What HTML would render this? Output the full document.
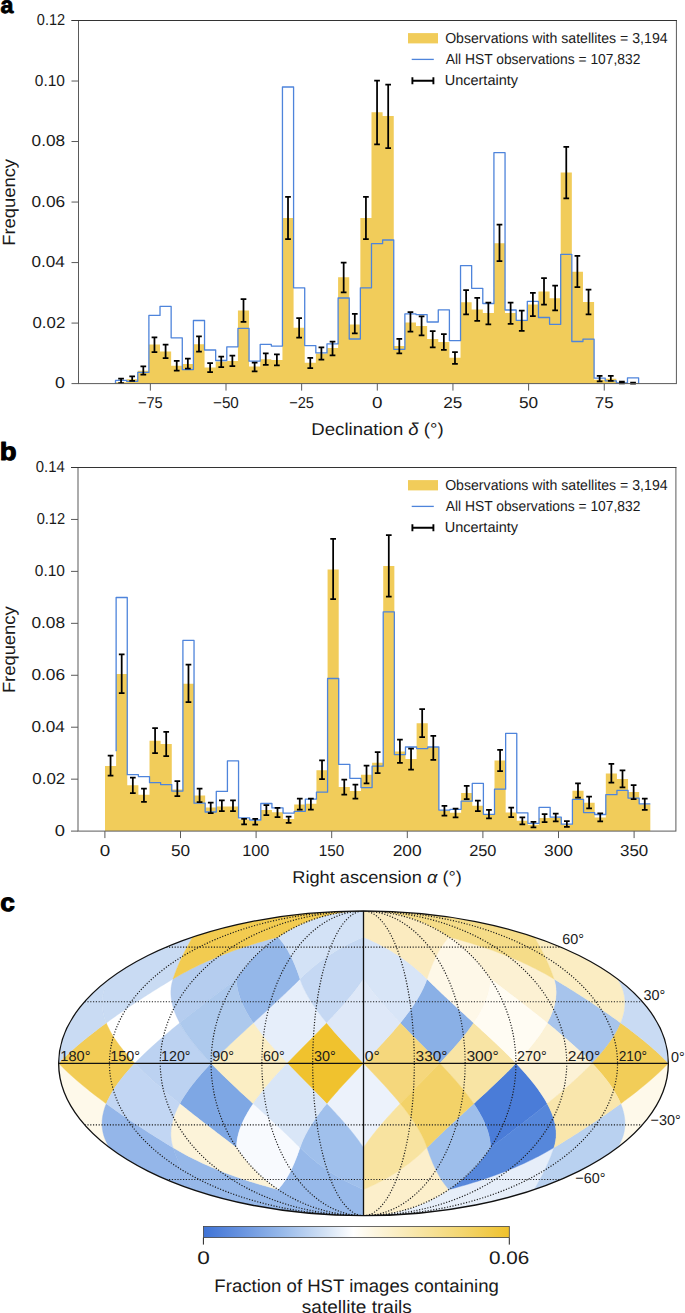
<!DOCTYPE html><html><head><meta charset="utf-8"><style>html,body{margin:0;padding:0;background:#fff;width:685px;height:1313px;overflow:hidden}svg{display:block}</style></head><body><svg width="685" height="1313" viewBox="0 0 685 1313" text-rendering="geometricPrecision" font-family='"Liberation Sans", sans-serif' fill="#1a1a1a">
<rect width="685" height="1313" fill="#fff"/>
<text x="0.42" y="13.40" font-size="23.50" font-weight="bold" textLength="12.93" lengthAdjust="spacingAndGlyphs" fill="#000" stroke="#000" stroke-width="0.8" stroke-linejoin="round">a</text>
<text x="-0.22" y="459.90" font-size="25.00" font-weight="bold" textLength="16.85" lengthAdjust="spacingAndGlyphs" fill="#000" stroke="#000" stroke-width="1.0" stroke-linejoin="round">b</text>
<text x="0.17" y="911.00" font-size="25.00" font-weight="bold" textLength="14.59" lengthAdjust="spacingAndGlyphs" fill="#000" stroke="#000" stroke-width="1.0" stroke-linejoin="round">c</text>
<g>
<path d="M115.50,383.60 V382.30 H126.63 V379.20 H137.76 V370.70 H148.89 V344.60 H160.02 V351.60 H171.15 V365.80 H182.28 V363.90 H193.41 V344.20 H204.54 V367.50 H215.67 V361.60 H226.80 V360.90 H237.93 V310.60 H249.06 V366.50 H260.19 V359.20 H271.32 V359.90 H282.45 V218.00 H293.58 V327.80 H304.71 V362.70 H315.84 V353.40 H326.97 V348.00 H338.10 V277.30 H349.23 V324.40 H360.36 V218.00 H371.49 V112.20 H382.62 V115.90 H393.75 V346.10 H404.88 V322.40 H416.01 V326.00 H427.14 V339.00 H438.27 V342.00 H449.40 V357.80 H460.53 V302.20 H471.66 V309.40 H482.79 V313.00 H493.92 V243.20 H505.05 V313.00 H516.18 V319.90 H527.31 V304.50 H538.44 V291.60 H549.57 V298.20 H560.70 V172.60 H571.83 V271.80 H582.96 V302.10 H594.09 V379.80 H605.22 V378.80 H616.35 V382.60 H627.48 V383.30 H638.61 V383.60 Z" fill="#F1CC5A"/>
<path d="M115.50,383.60 V380.40 H126.63 V381.30 H137.76 V372.40 H148.89 V315.40 H160.02 V306.40 H171.15 V337.80 H182.28 V369.60 H193.41 V320.50 H204.54 V350.00 H215.67 V360.50 H226.80 V346.80 H237.93 V328.40 H249.06 V361.20 H260.19 V344.40 H271.32 V346.10 H282.45 V87.00 H293.58 V287.80 H304.71 V345.60 H315.84 V352.90 H326.97 V343.90 H338.10 V298.00 H349.23 V339.00 H360.36 V287.80 H371.49 V243.70 H382.62 V240.00 H393.75 V349.30 H404.88 V313.90 H416.01 V314.60 H427.14 V322.00 H438.27 V309.80 H449.40 V340.70 H460.53 V265.60 H471.66 V288.30 H482.79 V303.50 H493.92 V152.70 H505.05 V310.00 H516.18 V320.30 H527.31 V301.30 H538.44 V317.50 H549.57 V324.30 H560.70 V254.30 H571.83 V341.50 H582.96 V339.20 H594.09 V378.20 H605.22 V380.80 H616.35 V382.80 H627.48 V377.80 H638.61 V383.60" fill="none" stroke="#4E84DB" stroke-width="1.3" stroke-linejoin="round"/>
<path d="M121.06,378.60V383.00M118.22,378.60h5.7M118.22,383.00h5.7M132.19,376.30V380.80M129.34,376.30h5.7M129.34,380.80h5.7M143.32,366.30V374.60M140.47,366.30h5.7M140.47,374.60h5.7M154.46,337.30V352.20M151.61,337.30h5.7M151.61,352.20h5.7M165.59,344.60V358.20M162.74,344.60h5.7M162.74,358.20h5.7M176.72,360.80V370.50M173.87,360.80h5.7M173.87,370.50h5.7M187.84,358.50V368.70M185.00,358.50h5.7M185.00,368.70h5.7M198.98,336.30V351.50M196.13,336.30h5.7M196.13,351.50h5.7M210.11,363.20V372.00M207.26,363.20h5.7M207.26,372.00h5.7M221.24,356.60V367.10M218.39,356.60h5.7M218.39,367.10h5.7M232.37,355.60V366.20M229.52,355.60h5.7M229.52,366.20h5.7M243.50,299.10V321.80M240.65,299.10h5.7M240.65,321.80h5.7M254.62,362.50V371.30M251.78,362.50h5.7M251.78,371.30h5.7M265.75,353.30V364.80M262.90,353.30h5.7M262.90,364.80h5.7M276.88,354.40V365.40M274.03,354.40h5.7M274.03,365.40h5.7M288.01,196.80V239.00M285.16,196.80h5.7M285.16,239.00h5.7M299.14,318.00V337.60M296.29,318.00h5.7M296.29,337.60h5.7M310.27,357.80V368.00M307.42,357.80h5.7M307.42,368.00h5.7M321.40,347.30V359.50M318.55,347.30h5.7M318.55,359.50h5.7M332.54,341.50V355.40M329.69,341.50h5.7M329.69,355.40h5.7M343.67,262.70V292.40M340.81,262.70h5.7M340.81,292.40h5.7M354.80,313.90V333.40M351.94,313.90h5.7M351.94,333.40h5.7M365.93,196.80V239.00M363.07,196.80h5.7M363.07,239.00h5.7M377.06,80.50V144.40M374.20,80.50h5.7M374.20,144.40h5.7M388.19,84.60V148.00M385.33,84.60h5.7M385.33,148.00h5.7M399.31,338.80V353.40M396.46,338.80h5.7M396.46,353.40h5.7M410.44,312.20V331.70M407.59,312.20h5.7M407.59,331.70h5.7M421.58,316.30V335.40M418.73,316.30h5.7M418.73,335.40h5.7M432.71,331.00V347.30M429.86,331.00h5.7M429.86,347.30h5.7M443.84,334.10V349.80M440.99,334.10h5.7M440.99,349.80h5.7M454.97,352.20V363.90M452.12,352.20h5.7M452.12,363.90h5.7M466.10,290.00V314.40M463.25,290.00h5.7M463.25,314.40h5.7M477.23,297.80V320.90M474.38,297.80h5.7M474.38,320.90h5.7M488.36,302.50V324.30M485.50,302.50h5.7M485.50,324.30h5.7M499.49,224.60V261.00M496.63,224.60h5.7M496.63,261.00h5.7M510.62,302.50V323.90M507.76,302.50h5.7M507.76,323.90h5.7M521.75,310.60V330.80M518.89,310.60h5.7M518.89,330.80h5.7M532.88,292.80V316.00M530.02,292.80h5.7M530.02,316.00h5.7M544.01,278.00V304.70M541.16,278.00h5.7M541.16,304.70h5.7M555.13,285.70V310.40M552.28,285.70h5.7M552.28,310.40h5.7M566.27,146.90V198.40M563.42,146.90h5.7M563.42,198.40h5.7M577.39,255.90V287.20M574.54,255.90h5.7M574.54,287.20h5.7M588.53,289.60V314.40M585.68,289.60h5.7M585.68,314.40h5.7M599.65,375.80V381.40M596.80,375.80h5.7M596.80,381.40h5.7M610.79,375.80V380.80M607.94,375.80h5.7M607.94,380.80h5.7M621.91,381.60V383.40M619.06,381.60h5.7M619.06,383.40h5.7M633.05,382.60V383.60M630.20,382.60h5.7M630.20,383.60h5.7" stroke="#000" stroke-width="1.75" fill="none"/>
<line x1="71.5" y1="383.60" x2="78.5" y2="383.60" stroke="#5a5a5a" stroke-width="1"/>
<text x="55.10" y="388.40" font-size="15.80" textLength="10.01" lengthAdjust="spacingAndGlyphs">0</text>
<line x1="71.5" y1="323.08" x2="78.5" y2="323.08" stroke="#5a5a5a" stroke-width="1"/>
<text x="32.54" y="327.88" font-size="15.80" textLength="32.70" lengthAdjust="spacingAndGlyphs">0.02</text>
<line x1="71.5" y1="262.57" x2="78.5" y2="262.57" stroke="#5a5a5a" stroke-width="1"/>
<text x="31.53" y="267.37" font-size="15.80" textLength="33.37" lengthAdjust="spacingAndGlyphs">0.04</text>
<line x1="71.5" y1="202.05" x2="78.5" y2="202.05" stroke="#5a5a5a" stroke-width="1"/>
<text x="31.52" y="206.85" font-size="15.80" textLength="33.63" lengthAdjust="spacingAndGlyphs">0.06</text>
<line x1="71.5" y1="141.53" x2="78.5" y2="141.53" stroke="#5a5a5a" stroke-width="1"/>
<text x="31.63" y="146.33" font-size="15.80" textLength="33.52" lengthAdjust="spacingAndGlyphs">0.08</text>
<line x1="71.5" y1="81.02" x2="78.5" y2="81.02" stroke="#5a5a5a" stroke-width="1"/>
<text x="34.79" y="85.82" font-size="15.80" textLength="30.21" lengthAdjust="spacingAndGlyphs">0.10</text>
<line x1="71.5" y1="20.50" x2="78.5" y2="20.50" stroke="#5a5a5a" stroke-width="1"/>
<text x="36.83" y="25.30" font-size="15.80" textLength="28.30" lengthAdjust="spacingAndGlyphs">0.12</text>
<line x1="150.35" y1="383.6" x2="150.35" y2="390.6" stroke="#5a5a5a" stroke-width="1"/>
<text x="137.93" y="408.40" font-size="15.80" textLength="24.73" lengthAdjust="spacingAndGlyphs">&#8722;75</text>
<line x1="226.00" y1="383.6" x2="226.00" y2="390.6" stroke="#5a5a5a" stroke-width="1"/>
<text x="213.00" y="408.40" font-size="15.80" textLength="25.85" lengthAdjust="spacingAndGlyphs">&#8722;50</text>
<line x1="301.65" y1="383.6" x2="301.65" y2="390.6" stroke="#5a5a5a" stroke-width="1"/>
<text x="289.23" y="408.40" font-size="15.80" textLength="24.73" lengthAdjust="spacingAndGlyphs">&#8722;25</text>
<line x1="377.30" y1="383.6" x2="377.30" y2="390.6" stroke="#5a5a5a" stroke-width="1"/>
<text x="372.06" y="408.40" font-size="15.80" textLength="10.47" lengthAdjust="spacingAndGlyphs">0</text>
<line x1="452.95" y1="383.6" x2="452.95" y2="390.6" stroke="#5a5a5a" stroke-width="1"/>
<text x="443.34" y="408.40" font-size="15.80" textLength="19.08" lengthAdjust="spacingAndGlyphs">25</text>
<line x1="528.60" y1="383.6" x2="528.60" y2="390.6" stroke="#5a5a5a" stroke-width="1"/>
<text x="519.01" y="408.40" font-size="15.80" textLength="19.16" lengthAdjust="spacingAndGlyphs">50</text>
<line x1="604.25" y1="383.6" x2="604.25" y2="390.6" stroke="#5a5a5a" stroke-width="1"/>
<text x="594.78" y="408.40" font-size="15.80" textLength="18.77" lengthAdjust="spacingAndGlyphs">75</text>
<rect x="78.50" y="20.50" width="597.90" height="363.10" fill="none" stroke="#5a5a5a" stroke-width="1"/>
<line x1="71.50" y1="20.50" x2="676.90" y2="20.50" stroke="#333" stroke-width="1"/>
<g transform="translate(14.9,201.60) rotate(-90)"><text x="-44.11" y="0.00" font-size="17.70" textLength="86.74" lengthAdjust="spacingAndGlyphs">Frequency</text></g>
<text x="311.38" y="435.10" font-size="17.20" textLength="132.27" lengthAdjust="spacingAndGlyphs">Declination <tspan font-style="italic">&#948;</tspan> (&#176;)</text>
<rect x="408" y="33.1" width="30" height="10.3" fill="#F1CC5A"/>
<line x1="411.7" y1="59.4" x2="433.8" y2="59.4" stroke="#4E84DB" stroke-width="1.3"/>
<path d="M411.6,80.7 H434.2 M412.4,77.2 v7 M433.4,77.2 v7" stroke="#000" stroke-width="1.9" fill="none"/>
<text x="445.13" y="43.40" font-size="14.50" textLength="222.48" lengthAdjust="spacingAndGlyphs">Observations with satellites = 3,194</text>
<text x="445.77" y="63.90" font-size="14.50" textLength="194.62" lengthAdjust="spacingAndGlyphs">All HST observations = 107,832</text>
<text x="444.68" y="84.60" font-size="14.50">Uncertainty</text>
</g>
<g>
<path d="M105.00,831.10 V765.90 H116.13 V674.00 H127.26 V785.30 H138.39 V794.70 H149.52 V740.70 H160.64 V743.90 H171.77 V789.60 H182.90 V683.80 H194.03 V795.50 H205.16 V807.40 H216.29 V806.40 H227.42 V806.40 H238.55 V819.60 H249.68 V821.00 H260.81 V810.00 H271.94 V812.30 H283.06 V818.90 H294.19 V804.50 H305.32 V803.80 H316.45 V770.20 H327.58 V569.50 H338.71 V786.90 H349.84 V791.10 H360.97 V774.80 H372.10 V762.80 H383.22 V566.00 H394.35 V751.60 H405.48 V759.00 H416.61 V723.30 H427.74 V747.00 H438.87 V810.40 H450.00 V812.80 H461.13 V793.10 H472.26 V805.80 H483.39 V814.60 H494.51 V760.60 H505.64 V812.50 H516.77 V820.70 H527.90 V824.70 H539.03 V818.10 H550.16 V818.10 H561.29 V824.40 H572.42 V790.70 H583.55 V802.80 H594.68 V817.40 H605.81 V773.60 H616.93 V779.10 H628.06 V792.10 H639.19 V804.20 H650.32 V831.10 Z" fill="#F1CC5A"/>
<path d="M116.13,751.30 V597.50 H127.26 V774.70 H138.39 V776.60 H149.52 V782.70 H160.64 V784.60 H171.77 V791.10 H182.90 V640.40 H194.03 V803.20 H205.16 V812.00 H216.29 V791.40 H227.42 V760.90 H238.55 V817.80 H249.68 V820.00 H260.81 V803.50 H271.94 V807.90 H283.06 V813.10 H294.19 V811.30 H305.32 V799.20 H316.45 V792.20 H327.58 V678.50 H338.71 V764.40 H349.84 V778.30 H360.97 V787.60 H372.10 V766.20 H383.22 V611.90 H394.35 V754.60 H405.48 V747.00 H416.61 V748.60 H427.74 V747.00 H438.87 V810.10 H450.00 V809.30 H461.13 V801.20 H472.26 V783.40 H483.39 V814.30 H494.51 V789.20 H505.64 V733.40 H516.77 V812.80 H527.90 V823.40 H539.03 V807.30 H550.16 V817.20 H561.29 V824.20 H572.42 V799.40 H583.55 V812.60 H594.68 V814.50 H605.81 V794.70 H616.93 V790.40 H628.06 V798.10 H639.19 V803.80 H650.32" fill="none" stroke="#4E84DB" stroke-width="1.3" stroke-linejoin="round"/>
<path d="M110.56,755.70V775.60M107.71,755.70h5.7M107.71,775.60h5.7M121.69,654.40V693.20M118.84,654.40h5.7M118.84,693.20h5.7M132.82,777.50V793.00M129.97,777.50h5.7M129.97,793.00h5.7M143.95,788.70V801.80M141.10,788.70h5.7M141.10,801.80h5.7M155.08,728.00V753.20M152.23,728.00h5.7M152.23,753.20h5.7M166.21,731.80V756.00M163.36,731.80h5.7M163.36,756.00h5.7M177.34,781.20V796.20M174.49,781.20h5.7M174.49,796.20h5.7M188.47,664.60V702.00M185.62,664.60h5.7M185.62,702.00h5.7M199.60,788.60V802.00M196.75,788.60h5.7M196.75,802.00h5.7M210.73,802.50V813.00M207.88,802.50h5.7M207.88,813.00h5.7M221.85,800.30V811.20M219.00,800.30h5.7M219.00,811.20h5.7M232.98,800.30V811.20M230.13,800.30h5.7M230.13,811.20h5.7M244.11,818.80V824.40M241.26,818.80h5.7M241.26,824.40h5.7M255.24,818.80V824.70M252.39,818.80h5.7M252.39,824.70h5.7M266.37,805.00V815.20M263.52,805.00h5.7M263.52,815.20h5.7M277.50,807.90V817.10M274.65,807.90h5.7M274.65,817.10h5.7M288.63,816.60V822.90M285.78,816.60h5.7M285.78,822.90h5.7M299.76,798.50V809.60M296.91,798.50h5.7M296.91,809.60h5.7M310.89,798.50V809.60M308.04,798.50h5.7M308.04,809.60h5.7M322.02,760.40V779.00M319.17,760.40h5.7M319.17,779.00h5.7M333.14,538.80V599.20M330.29,538.80h5.7M330.29,599.20h5.7M344.27,779.50V794.60M341.42,779.50h5.7M341.42,794.60h5.7M355.40,784.60V798.70M352.55,784.60h5.7M352.55,798.70h5.7M366.53,765.50V783.40M363.68,765.50h5.7M363.68,783.40h5.7M377.66,752.10V773.00M374.81,752.10h5.7M374.81,773.00h5.7M388.79,535.10V596.60M385.94,535.10h5.7M385.94,596.60h5.7M399.92,739.60V762.80M397.07,739.60h5.7M397.07,762.80h5.7M411.05,748.60V769.70M408.20,748.60h5.7M408.20,769.70h5.7M422.18,709.20V737.20M419.33,709.20h5.7M419.33,737.20h5.7M433.31,735.80V759.80M430.46,735.80h5.7M430.46,759.80h5.7M444.43,805.80V815.50M441.58,805.80h5.7M441.58,815.50h5.7M455.56,808.50V817.40M452.71,808.50h5.7M452.71,817.40h5.7M466.69,785.90V799.20M463.84,785.90h5.7M463.84,799.20h5.7M477.82,800.60V811.00M474.97,800.60h5.7M474.97,811.00h5.7M488.95,809.90V818.40M486.10,809.90h5.7M486.10,818.40h5.7M500.08,749.80V771.10M497.23,749.80h5.7M497.23,771.10h5.7M511.21,807.60V817.20M508.36,807.60h5.7M508.36,817.20h5.7M522.34,817.40V824.30M519.49,817.40h5.7M519.49,824.30h5.7M533.47,821.80V827.30M530.62,821.80h5.7M530.62,827.30h5.7M544.60,814.20V822.00M541.75,814.20h5.7M541.75,822.00h5.7M555.72,813.50V821.40M552.87,813.50h5.7M552.87,821.40h5.7M566.85,821.00V826.90M564.00,821.00h5.7M564.00,826.90h5.7M577.98,783.40V797.70M575.13,783.40h5.7M575.13,797.70h5.7M589.11,796.60V808.30M586.26,796.60h5.7M586.26,808.30h5.7M600.24,813.40V821.30M597.39,813.40h5.7M597.39,821.30h5.7M611.37,763.80V782.60M608.52,763.80h5.7M608.52,782.60h5.7M622.50,770.40V787.40M619.65,770.40h5.7M619.65,787.40h5.7M633.63,785.00V799.10M630.78,785.00h5.7M630.78,799.10h5.7M644.76,798.70V809.80M641.91,798.70h5.7M641.91,809.80h5.7" stroke="#000" stroke-width="1.75" fill="none"/>
<line x1="71.0" y1="831.10" x2="78.0" y2="831.10" stroke="#5a5a5a" stroke-width="1"/>
<text x="54.88" y="835.90" font-size="15.80" textLength="10.24" lengthAdjust="spacingAndGlyphs">0</text>
<line x1="71.0" y1="779.16" x2="78.0" y2="779.16" stroke="#5a5a5a" stroke-width="1"/>
<text x="32.34" y="783.96" font-size="15.80" textLength="32.91" lengthAdjust="spacingAndGlyphs">0.02</text>
<line x1="71.0" y1="727.21" x2="78.0" y2="727.21" stroke="#5a5a5a" stroke-width="1"/>
<text x="31.43" y="732.01" font-size="15.80" textLength="33.48" lengthAdjust="spacingAndGlyphs">0.04</text>
<line x1="71.0" y1="675.27" x2="78.0" y2="675.27" stroke="#5a5a5a" stroke-width="1"/>
<text x="31.42" y="680.07" font-size="15.80" textLength="33.74" lengthAdjust="spacingAndGlyphs">0.06</text>
<line x1="71.0" y1="623.33" x2="78.0" y2="623.33" stroke="#5a5a5a" stroke-width="1"/>
<text x="31.42" y="628.13" font-size="15.80" textLength="33.73" lengthAdjust="spacingAndGlyphs">0.08</text>
<line x1="71.0" y1="571.39" x2="78.0" y2="571.39" stroke="#5a5a5a" stroke-width="1"/>
<text x="34.79" y="576.19" font-size="15.80" textLength="30.21" lengthAdjust="spacingAndGlyphs">0.10</text>
<line x1="71.0" y1="519.44" x2="78.0" y2="519.44" stroke="#5a5a5a" stroke-width="1"/>
<text x="36.63" y="524.24" font-size="15.80" textLength="28.51" lengthAdjust="spacingAndGlyphs">0.12</text>
<line x1="71.0" y1="467.50" x2="78.0" y2="467.50" stroke="#5a5a5a" stroke-width="1"/>
<text x="35.82" y="472.30" font-size="15.80" textLength="29.02" lengthAdjust="spacingAndGlyphs">0.14</text>
<line x1="104.90" y1="831.1" x2="104.90" y2="838.1" stroke="#5a5a5a" stroke-width="1"/>
<text x="99.66" y="855.90" font-size="15.80" textLength="10.47" lengthAdjust="spacingAndGlyphs">0</text>
<line x1="180.50" y1="831.1" x2="180.50" y2="838.1" stroke="#5a5a5a" stroke-width="1"/>
<text x="170.91" y="855.90" font-size="15.80" textLength="19.16" lengthAdjust="spacingAndGlyphs">50</text>
<line x1="256.10" y1="831.1" x2="256.10" y2="838.1" stroke="#5a5a5a" stroke-width="1"/>
<text x="242.15" y="855.90" font-size="15.80" textLength="27.28" lengthAdjust="spacingAndGlyphs">100</text>
<line x1="331.70" y1="831.1" x2="331.70" y2="838.1" stroke="#5a5a5a" stroke-width="1"/>
<text x="318.69" y="855.90" font-size="15.80" textLength="25.46" lengthAdjust="spacingAndGlyphs">150</text>
<line x1="407.30" y1="831.1" x2="407.30" y2="838.1" stroke="#5a5a5a" stroke-width="1"/>
<text x="392.73" y="855.90" font-size="15.80" textLength="28.95" lengthAdjust="spacingAndGlyphs">200</text>
<line x1="482.90" y1="831.1" x2="482.90" y2="838.1" stroke="#5a5a5a" stroke-width="1"/>
<text x="469.18" y="855.90" font-size="15.80" textLength="27.26" lengthAdjust="spacingAndGlyphs">250</text>
<line x1="558.50" y1="831.1" x2="558.50" y2="838.1" stroke="#5a5a5a" stroke-width="1"/>
<text x="543.99" y="855.90" font-size="15.80" textLength="29.04" lengthAdjust="spacingAndGlyphs">300</text>
<line x1="634.10" y1="831.1" x2="634.10" y2="838.1" stroke="#5a5a5a" stroke-width="1"/>
<text x="620.01" y="855.90" font-size="15.80" textLength="28.20" lengthAdjust="spacingAndGlyphs">350</text>
<rect x="78.00" y="467.50" width="597.90" height="363.60" fill="none" stroke="#5a5a5a" stroke-width="1"/>
<line x1="71.00" y1="467.50" x2="676.40" y2="467.50" stroke="#333" stroke-width="1"/>
<g transform="translate(14.9,649.00) rotate(-90)"><text x="-44.11" y="0.00" font-size="17.70" textLength="86.74" lengthAdjust="spacingAndGlyphs">Frequency</text></g>
<text x="292.31" y="882.60" font-size="17.20" textLength="169.52" lengthAdjust="spacingAndGlyphs">Right ascension <tspan font-style="italic">&#945;</tspan> (&#176;)</text>
<rect x="408" y="480.1" width="30" height="10.3" fill="#F1CC5A"/>
<line x1="411.7" y1="506.4" x2="433.8" y2="506.4" stroke="#4E84DB" stroke-width="1.3"/>
<path d="M411.6,527.7 H434.2 M412.4,524.2 v7 M433.4,524.2 v7" stroke="#000" stroke-width="1.9" fill="none"/>
<text x="445.13" y="490.40" font-size="14.50" textLength="222.48" lengthAdjust="spacingAndGlyphs">Observations with satellites = 3,194</text>
<text x="445.77" y="510.90" font-size="14.50" textLength="194.62" lengthAdjust="spacingAndGlyphs">All HST observations = 107,832</text>
<text x="444.68" y="531.60" font-size="14.50">Uncertainty</text>
</g>
<defs><clipPath id="ell"><ellipse cx="363.50" cy="1063.30" rx="304.85" ry="152.40"/></clipPath>
<linearGradient id="cb" x1="0" x2="1" y1="0" y2="0"><stop offset="0" stop-color="#3F73D6"/><stop offset="0.13" stop-color="#6A95E0"/><stop offset="0.26" stop-color="#98BAEA"/><stop offset="0.40" stop-color="#D3E2F5"/><stop offset="0.49" stop-color="#FFFFFF"/><stop offset="0.55" stop-color="#FDF7E4"/><stop offset="0.70" stop-color="#F8E6A8"/><stop offset="0.85" stop-color="#F3D56E"/><stop offset="1" stop-color="#EFC12C"/></linearGradient></defs>
<g clip-path="url(#ell)">
<path d="M300.02,978.98L300.53,980.47L301.07,981.95L301.64,983.42L302.24,984.88L302.86,986.33L303.51,987.77L304.19,989.20L304.89,990.62L305.61,992.04L306.35,993.44L307.11,994.84L307.90,996.23L308.70,997.62L309.52,999.00L310.36,1000.37L311.21,1001.73L312.08,1003.09L312.97,1004.45L313.87,1005.80L314.79,1007.14L315.72,1008.48L316.67,1009.81L317.62,1011.14L318.59,1012.47L319.58,1013.79L320.57,1015.11L321.58,1016.42L322.59,1017.73L323.62,1019.03L324.65,1020.33L325.70,1021.63L326.76,1022.92L325.52,1024.22L324.28,1025.50L323.03,1026.79L321.79,1028.07L320.55,1029.35L319.30,1030.63L318.05,1031.91L316.81,1033.18L315.56,1034.45L314.31,1035.72L313.06,1036.99L311.82,1038.25L310.57,1039.51L309.32,1040.77L308.08,1042.03L306.84,1043.29L305.59,1044.55L304.35,1045.81L303.11,1047.06L301.88,1048.31L300.64,1049.57L299.41,1050.82L298.18,1052.07L296.96,1053.32L295.73,1054.57L294.52,1055.82L293.30,1057.06L292.09,1058.31L290.88,1059.56L289.68,1060.81L288.48,1062.05L287.29,1063.30L286.10,1062.05L284.92,1060.81L283.74,1059.56L282.57,1058.31L281.40,1057.06L280.24,1055.82L279.09,1054.57L277.95,1053.32L276.81,1052.07L275.68,1050.82L274.55,1049.57L273.44,1048.31L272.33,1047.06L271.23,1045.81L270.14,1044.55L269.06,1043.29L267.99,1042.03L266.93,1040.77L265.87,1039.51L264.83,1038.25L263.80,1036.99L262.78,1035.72L261.77,1034.45L260.77,1033.18L259.79,1031.91L258.82,1030.63L257.86,1029.35L256.91,1028.07L255.98,1026.79L255.06,1025.50L254.16,1024.22L253.27,1022.92L254.68,1021.63L256.10,1020.33L257.53,1019.03L258.96,1017.73L260.39,1016.42L261.83,1015.11L263.27,1013.79L264.71,1012.47L266.15,1011.14L267.60,1009.81L269.06,1008.48L270.51,1007.14L271.97,1005.80L273.43,1004.45L274.89,1003.09L276.35,1001.73L277.82,1000.37L279.29,999.00L280.76,997.62L282.23,996.23L283.71,994.84L285.18,993.44L286.66,992.04L288.14,990.62L289.62,989.20L291.10,987.77L292.58,986.33L294.07,984.88L295.55,983.42L297.04,981.95L298.53,980.47Z" fill="#E6EEFA" stroke="#E6EEFA" stroke-width="0.4"/>
<path d="M278.05,937.10L279.06,938.22L280.03,939.35L280.97,940.50L281.88,941.65L282.76,942.83L283.62,944.01L284.45,945.20L285.25,946.41L286.04,947.63L286.80,948.87L287.54,950.11L288.27,951.37L288.98,952.64L289.67,953.92L290.34,955.21L291.00,956.52L291.64,957.83L292.28,959.16L292.90,960.50L293.50,961.85L294.10,963.22L294.68,964.59L295.25,965.98L295.82,967.38L296.37,968.79L296.92,970.21L297.45,971.64L297.98,973.08L298.50,974.54L299.01,976.01L299.52,977.49L300.02,978.98L298.53,980.47L297.04,981.95L295.55,983.42L294.07,984.88L292.58,986.33L291.10,987.77L289.62,989.20L288.14,990.62L286.66,992.04L285.18,993.44L283.71,994.84L282.23,996.23L280.76,997.62L279.29,999.00L277.82,1000.37L276.35,1001.73L274.89,1003.09L273.43,1004.45L271.97,1005.80L270.51,1007.14L269.06,1008.48L267.60,1009.81L266.15,1011.14L264.71,1012.47L263.27,1013.79L261.83,1015.11L260.39,1016.42L258.96,1017.73L257.53,1019.03L256.10,1020.33L254.68,1021.63L253.27,1022.92L252.39,1021.63L251.53,1020.33L250.69,1019.03L249.87,1017.73L249.06,1016.42L248.27,1015.11L247.50,1013.79L246.75,1012.47L246.01,1011.14L245.30,1009.81L244.61,1008.48L243.94,1007.14L243.29,1005.80L242.67,1004.45L242.07,1003.09L241.50,1001.73L240.95,1000.37L240.42,999.00L239.93,997.62L239.46,996.23L239.02,994.84L238.62,993.44L238.24,992.04L237.90,990.62L237.59,989.20L237.32,987.77L237.08,986.33L236.89,984.88L236.73,983.42L236.62,981.95L236.55,980.47L236.53,978.98L237.54,977.49L238.56,976.01L239.59,974.54L240.65,973.08L241.73,971.64L242.82,970.21L243.93,968.79L245.06,967.38L246.20,965.98L247.37,964.59L248.55,963.22L249.75,961.85L250.97,960.50L252.21,959.16L253.47,957.83L254.75,956.52L256.05,955.21L257.36,953.92L258.70,952.64L260.06,951.37L261.43,950.11L262.83,948.87L264.25,947.63L265.69,946.41L267.16,945.20L268.64,944.01L270.15,942.83L271.68,941.65L273.23,940.50L274.81,939.35L276.42,938.22Z" fill="#94B7E9" stroke="#94B7E9" stroke-width="0.4"/>
<path d="M363.50,937.10L363.50,938.22L363.50,939.35L363.50,940.50L363.50,941.65L363.50,942.83L363.50,944.01L363.50,945.20L363.50,946.41L363.50,947.63L363.50,948.87L363.50,950.11L363.50,951.37L363.50,952.64L363.50,953.92L363.50,955.21L363.50,956.52L363.50,957.83L363.50,959.16L363.50,960.50L363.50,961.85L363.50,963.22L363.50,964.59L363.50,965.98L363.50,967.38L363.50,968.79L363.50,970.21L363.50,971.64L363.50,973.08L363.50,974.54L363.50,976.01L363.50,977.49L363.50,978.98L362.50,980.47L361.49,981.95L360.46,983.42L359.42,984.88L358.36,986.33L357.29,987.77L356.22,989.20L355.13,990.62L354.03,992.04L352.92,993.44L351.80,994.84L350.67,996.23L349.53,997.62L348.39,999.00L347.23,1000.37L346.07,1001.73L344.90,1003.09L343.73,1004.45L342.55,1005.80L341.36,1007.14L340.17,1008.48L338.97,1009.81L337.77,1011.14L336.56,1012.47L335.34,1013.79L334.13,1015.11L332.91,1016.42L331.68,1017.73L330.46,1019.03L329.22,1020.33L327.99,1021.63L326.76,1022.92L325.70,1021.63L324.65,1020.33L323.62,1019.03L322.59,1017.73L321.58,1016.42L320.57,1015.11L319.58,1013.79L318.59,1012.47L317.62,1011.14L316.67,1009.81L315.72,1008.48L314.79,1007.14L313.87,1005.80L312.97,1004.45L312.08,1003.09L311.21,1001.73L310.36,1000.37L309.52,999.00L308.70,997.62L307.90,996.23L307.11,994.84L306.35,993.44L305.61,992.04L304.89,990.62L304.19,989.20L303.51,987.77L302.86,986.33L302.24,984.88L301.64,983.42L301.07,981.95L300.53,980.47L300.02,978.98L301.52,977.49L303.04,976.01L304.59,974.54L306.17,973.08L307.77,971.64L309.40,970.21L311.06,968.79L312.74,967.38L314.45,965.98L316.19,964.59L317.95,963.22L319.75,961.85L321.58,960.50L323.44,959.16L325.33,957.83L327.25,956.52L329.21,955.21L331.20,953.92L333.22,952.64L335.29,951.37L337.39,950.11L339.53,948.87L341.71,947.63L343.94,946.41L346.21,945.20L348.52,944.01L350.88,942.83L353.30,941.65L355.76,940.50L358.28,939.35L360.86,938.22Z" fill="#C5D8F3" stroke="#C5D8F3" stroke-width="0.4"/>
<path d="M363.50,910.90L363.50,911.15L363.50,911.54L363.50,912.00L363.50,912.51L363.50,913.07L363.50,913.67L363.50,914.30L363.50,914.96L363.50,915.66L363.50,916.38L363.50,917.12L363.50,917.89L363.50,918.69L363.50,919.50L363.50,920.33L363.50,921.19L363.50,922.06L363.50,922.95L363.50,923.86L363.50,924.78L363.50,925.73L363.50,926.69L363.50,927.66L363.50,928.65L363.50,929.66L363.50,930.68L363.50,931.71L363.50,932.76L363.50,933.83L363.50,934.90L363.50,936.00L363.50,937.10L360.86,938.22L358.28,939.35L355.76,940.50L353.30,941.65L350.88,942.83L348.52,944.01L346.21,945.20L343.94,946.41L341.71,947.63L339.53,948.87L337.39,950.11L335.29,951.37L333.22,952.64L331.20,953.92L329.21,955.21L327.25,956.52L325.33,957.83L323.44,959.16L321.58,960.50L319.75,961.85L317.95,963.22L316.19,964.59L314.45,965.98L312.74,967.38L311.06,968.79L309.40,970.21L307.77,971.64L306.17,973.08L304.59,974.54L303.04,976.01L301.52,977.49L300.02,978.98L299.52,977.49L299.01,976.01L298.50,974.54L297.98,973.08L297.45,971.64L296.92,970.21L296.37,968.79L295.82,967.38L295.25,965.98L294.68,964.59L294.10,963.22L293.50,961.85L292.90,960.50L292.28,959.16L291.64,957.83L291.00,956.52L290.34,955.21L289.67,953.92L288.98,952.64L288.27,951.37L287.54,950.11L286.80,948.87L286.04,947.63L285.25,946.41L284.45,945.20L283.62,944.01L282.76,942.83L281.88,941.65L280.97,940.50L280.03,939.35L279.06,938.22L278.05,937.10L279.70,936.00L281.39,934.90L283.10,933.83L284.84,932.76L286.61,931.71L288.41,930.68L290.24,929.66L292.11,928.65L294.01,927.66L295.95,926.69L297.92,925.73L299.94,924.78L302.00,923.86L304.10,922.95L306.25,922.06L308.45,921.19L310.71,920.33L313.03,919.50L315.41,918.69L317.86,917.89L320.38,917.12L323.00,916.38L325.71,915.66L328.53,914.96L331.48,914.30L334.58,913.67L337.87,913.07L341.40,912.51L345.24,912.00L349.56,911.54L354.71,911.15Z" fill="#D3E2F6" stroke="#D3E2F6" stroke-width="0.4"/>
<path d="M173.05,978.98L172.58,980.47L172.18,981.95L171.83,983.42L171.54,984.88L171.31,986.33L171.13,987.77L170.99,989.20L170.91,990.62L170.87,992.04L170.88,993.44L170.93,994.84L171.02,996.23L171.16,997.62L171.33,999.00L171.53,1000.37L171.78,1001.73L172.06,1003.09L172.37,1004.45L172.71,1005.80L173.09,1007.14L173.50,1008.48L173.94,1009.81L174.40,1011.14L174.90,1012.47L175.42,1013.79L175.97,1015.11L176.54,1016.42L177.14,1017.73L177.77,1019.03L178.41,1020.33L179.08,1021.63L179.78,1022.92L178.19,1024.22L176.61,1025.50L175.05,1026.79L173.49,1028.07L171.95,1029.35L170.42,1030.63L168.90,1031.91L167.39,1033.18L165.89,1034.45L164.40,1035.72L162.93,1036.99L161.46,1038.25L160.01,1039.51L158.57,1040.77L157.15,1042.03L155.73,1043.29L154.33,1044.55L152.94,1045.81L151.56,1047.06L150.19,1048.31L148.84,1049.57L147.50,1050.82L146.17,1052.07L144.86,1053.32L143.56,1054.57L142.27,1055.82L141.00,1057.06L139.75,1058.31L138.50,1059.56L137.27,1060.81L136.06,1062.05L134.86,1063.30L133.68,1062.05L132.51,1060.81L131.36,1059.56L130.22,1058.31L129.10,1057.06L128.00,1055.82L126.92,1054.57L125.85,1053.32L124.80,1052.07L123.76,1050.82L122.75,1049.57L121.75,1048.31L120.77,1047.06L119.81,1045.81L118.87,1044.55L117.95,1043.29L117.05,1042.03L116.17,1040.77L115.32,1039.51L114.48,1038.25L113.66,1036.99L112.87,1035.72L112.10,1034.45L111.36,1033.18L110.63,1031.91L109.94,1030.63L109.26,1029.35L108.61,1028.07L107.99,1026.79L107.40,1025.50L106.83,1024.22L106.29,1022.92L108.07,1021.63L109.86,1020.33L111.68,1019.03L113.51,1017.73L115.36,1016.42L117.22,1015.11L119.11,1013.79L121.01,1012.47L122.93,1011.14L124.87,1009.81L126.83,1008.48L128.81,1007.14L130.81,1005.80L132.83,1004.45L134.86,1003.09L136.92,1001.73L139.00,1000.37L141.10,999.00L143.22,997.62L145.36,996.23L147.53,994.84L149.71,993.44L151.93,992.04L154.16,990.62L156.43,989.20L158.71,987.77L161.03,986.33L163.37,984.88L165.75,983.42L168.15,981.95L170.58,980.47Z" fill="#FFFFFF" stroke="#FFFFFF" stroke-width="0.4"/>
<path d="M192.60,937.10L191.97,938.22L191.34,939.35L190.71,940.50L190.06,941.65L189.41,942.83L188.76,944.01L188.10,945.20L187.45,946.41L186.79,947.63L186.13,948.87L185.48,950.11L184.82,951.37L184.17,952.64L183.53,953.92L182.89,955.21L182.25,956.52L181.62,957.83L180.99,959.16L180.37,960.50L179.75,961.85L179.15,963.22L178.55,964.59L177.96,965.98L177.37,967.38L176.80,968.79L176.23,970.21L175.68,971.64L175.13,973.08L174.60,974.54L174.07,976.01L173.55,977.49L173.05,978.98L170.58,980.47L168.15,981.95L165.75,983.42L163.37,984.88L161.03,986.33L158.71,987.77L156.43,989.20L154.16,990.62L151.93,992.04L149.71,993.44L147.53,994.84L145.36,996.23L143.22,997.62L141.10,999.00L139.00,1000.37L136.92,1001.73L134.86,1003.09L132.83,1004.45L130.81,1005.80L128.81,1007.14L126.83,1008.48L124.87,1009.81L122.93,1011.14L121.01,1012.47L119.11,1013.79L117.22,1015.11L115.36,1016.42L113.51,1017.73L111.68,1019.03L109.86,1020.33L108.07,1021.63L106.29,1022.92L105.78,1021.63L105.29,1020.33L104.84,1019.03L104.42,1017.73L104.03,1016.42L103.67,1015.11L103.34,1013.79L103.05,1012.47L102.79,1011.14L102.57,1009.81L102.39,1008.48L102.24,1007.14L102.14,1005.80L102.07,1004.45L102.04,1003.09L102.06,1001.73L102.12,1000.37L102.23,999.00L102.38,997.62L102.59,996.23L102.84,994.84L103.15,993.44L103.51,992.04L103.92,990.62L104.40,989.20L104.93,987.77L105.53,986.33L106.19,984.88L106.93,983.42L107.73,981.95L108.61,980.47L109.56,978.98L111.57,977.49L113.61,976.01L115.69,974.54L117.80,973.08L119.95,971.64L122.14,970.21L124.36,968.79L126.61,967.38L128.91,965.98L131.24,964.59L133.60,963.22L136.01,961.85L138.45,960.50L140.93,959.16L143.44,957.83L146.00,956.52L148.59,955.21L151.23,953.92L153.90,952.64L156.61,951.37L159.37,950.11L162.16,948.87L165.00,947.63L167.89,946.41L170.81,945.20L173.78,944.01L176.80,942.83L179.86,941.65L182.97,940.50L186.13,939.35L189.34,938.22Z" fill="#C9DBF3" stroke="#C9DBF3" stroke-width="0.4"/>
<path d="M278.05,937.10L276.42,938.22L274.81,939.35L273.23,940.50L271.68,941.65L270.15,942.83L268.64,944.01L267.16,945.20L265.69,946.41L264.25,947.63L262.83,948.87L261.43,950.11L260.06,951.37L258.70,952.64L257.36,953.92L256.05,955.21L254.75,956.52L253.47,957.83L252.21,959.16L250.97,960.50L249.75,961.85L248.55,963.22L247.37,964.59L246.20,965.98L245.06,967.38L243.93,968.79L242.82,970.21L241.73,971.64L240.65,973.08L239.59,974.54L238.56,976.01L237.54,977.49L236.53,978.98L234.55,980.47L232.59,981.95L230.65,983.42L228.72,984.88L226.81,986.33L224.91,987.77L223.02,989.20L221.15,990.62L219.29,992.04L217.45,993.44L215.62,994.84L213.80,996.23L211.99,997.62L210.19,999.00L208.41,1000.37L206.64,1001.73L204.88,1003.09L203.13,1004.45L201.39,1005.80L199.66,1007.14L197.94,1008.48L196.24,1009.81L194.54,1011.14L192.86,1012.47L191.19,1013.79L189.53,1015.11L187.87,1016.42L186.23,1017.73L184.60,1019.03L182.98,1020.33L181.37,1021.63L179.78,1022.92L179.08,1021.63L178.41,1020.33L177.77,1019.03L177.14,1017.73L176.54,1016.42L175.97,1015.11L175.42,1013.79L174.90,1012.47L174.40,1011.14L173.94,1009.81L173.50,1008.48L173.09,1007.14L172.71,1005.80L172.37,1004.45L172.06,1003.09L171.78,1001.73L171.53,1000.37L171.33,999.00L171.16,997.62L171.02,996.23L170.93,994.84L170.88,993.44L170.87,992.04L170.91,990.62L170.99,989.20L171.13,987.77L171.31,986.33L171.54,984.88L171.83,983.42L172.18,981.95L172.58,980.47L173.05,978.98L175.55,977.49L178.10,976.01L180.69,974.54L183.32,973.08L186.00,971.64L188.72,970.21L191.48,968.79L194.30,967.38L197.15,965.98L200.05,964.59L203.01,963.22L206.00,961.85L209.05,960.50L212.15,959.16L215.30,957.83L218.50,956.52L221.75,955.21L225.06,953.92L228.42,952.64L231.84,951.37L235.32,950.11L238.86,948.87L242.47,947.63L246.13,946.41L249.86,945.20L253.66,944.01L257.53,942.83L261.48,941.65L265.50,940.50L269.60,939.35L273.78,938.22Z" fill="#B5CDEF" stroke="#B5CDEF" stroke-width="0.4"/>
<path d="M363.50,910.90L354.71,911.15L349.56,911.54L345.24,912.00L341.40,912.51L337.87,913.07L334.58,913.67L331.48,914.30L328.53,914.96L325.71,915.66L323.00,916.38L320.38,917.12L317.86,917.89L315.41,918.69L313.03,919.50L310.71,920.33L308.45,921.19L306.25,922.06L304.10,922.95L302.00,923.86L299.94,924.78L297.92,925.73L295.95,926.69L294.01,927.66L292.11,928.65L290.24,929.66L288.41,930.68L286.61,931.71L284.84,932.76L283.10,933.83L281.39,934.90L279.70,936.00L278.05,937.10L273.78,938.22L269.60,939.35L265.50,940.50L261.48,941.65L257.53,942.83L253.66,944.01L249.86,945.20L246.13,946.41L242.47,947.63L238.86,948.87L235.32,950.11L231.84,951.37L228.42,952.64L225.06,953.92L221.75,955.21L218.50,956.52L215.30,957.83L212.15,959.16L209.05,960.50L206.00,961.85L203.01,963.22L200.05,964.59L197.15,965.98L194.30,967.38L191.48,968.79L188.72,970.21L186.00,971.64L183.32,973.08L180.69,974.54L178.10,976.01L175.55,977.49L173.05,978.98L173.55,977.49L174.07,976.01L174.60,974.54L175.13,973.08L175.68,971.64L176.23,970.21L176.80,968.79L177.37,967.38L177.96,965.98L178.55,964.59L179.15,963.22L179.75,961.85L180.37,960.50L180.99,959.16L181.62,957.83L182.25,956.52L182.89,955.21L183.53,953.92L184.17,952.64L184.82,951.37L185.48,950.11L186.13,948.87L186.79,947.63L187.45,946.41L188.10,945.20L188.76,944.01L189.41,942.83L190.06,941.65L190.71,940.50L191.34,939.35L191.97,938.22L192.60,937.10L195.91,936.00L199.27,934.90L202.70,933.83L206.18,932.76L209.71,931.71L213.32,930.68L216.98,929.66L220.71,928.65L224.52,927.66L228.39,926.69L232.34,925.73L236.37,924.78L240.49,923.86L244.70,922.95L249.00,922.06L253.40,921.19L257.92,920.33L262.55,919.50L267.31,918.69L272.21,917.89L277.27,917.12L282.50,916.38L287.92,915.66L293.56,914.96L299.46,914.30L305.67,913.67L312.25,913.07L319.30,912.51L326.99,912.00L335.62,911.54L345.93,911.15Z" fill="#F2CB50" stroke="#F2CB50" stroke-width="0.4"/>
<path d="M553.95,978.98L556.42,980.47L558.85,981.95L561.25,983.42L563.63,984.88L565.97,986.33L568.29,987.77L570.57,989.20L572.84,990.62L575.07,992.04L577.29,993.44L579.47,994.84L581.64,996.23L583.78,997.62L585.90,999.00L588.00,1000.37L590.08,1001.73L592.14,1003.09L594.17,1004.45L596.19,1005.80L598.19,1007.14L600.17,1008.48L602.13,1009.81L604.07,1011.14L605.99,1012.47L607.89,1013.79L609.78,1015.11L611.64,1016.42L613.49,1017.73L615.32,1019.03L617.14,1020.33L618.93,1021.63L620.71,1022.92L620.17,1024.22L619.60,1025.50L619.01,1026.79L618.39,1028.07L617.74,1029.35L617.06,1030.63L616.37,1031.91L615.64,1033.18L614.90,1034.45L614.13,1035.72L613.34,1036.99L612.52,1038.25L611.68,1039.51L610.83,1040.77L609.95,1042.03L609.05,1043.29L608.13,1044.55L607.19,1045.81L606.23,1047.06L605.25,1048.31L604.25,1049.57L603.24,1050.82L602.20,1052.07L601.15,1053.32L600.08,1054.57L599.00,1055.82L597.90,1057.06L596.78,1058.31L595.64,1059.56L594.49,1060.81L593.32,1062.05L592.14,1063.30L590.94,1062.05L589.73,1060.81L588.50,1059.56L587.25,1058.31L586.00,1057.06L584.73,1055.82L583.44,1054.57L582.14,1053.32L580.83,1052.07L579.50,1050.82L578.16,1049.57L576.81,1048.31L575.44,1047.06L574.06,1045.81L572.67,1044.55L571.27,1043.29L569.85,1042.03L568.43,1040.77L566.99,1039.51L565.54,1038.25L564.07,1036.99L562.60,1035.72L561.11,1034.45L559.61,1033.18L558.10,1031.91L556.58,1030.63L555.05,1029.35L553.51,1028.07L551.95,1026.79L550.39,1025.50L548.81,1024.22L547.22,1022.92L547.92,1021.63L548.59,1020.33L549.23,1019.03L549.86,1017.73L550.46,1016.42L551.03,1015.11L551.58,1013.79L552.10,1012.47L552.60,1011.14L553.06,1009.81L553.50,1008.48L553.91,1007.14L554.29,1005.80L554.63,1004.45L554.94,1003.09L555.22,1001.73L555.47,1000.37L555.67,999.00L555.84,997.62L555.98,996.23L556.07,994.84L556.12,993.44L556.13,992.04L556.09,990.62L556.01,989.20L555.87,987.77L555.69,986.33L555.46,984.88L555.17,983.42L554.82,981.95L554.42,980.47Z" fill="#A7C4EC" stroke="#A7C4EC" stroke-width="0.4"/>
<path d="M448.95,937.10L453.22,938.22L457.40,939.35L461.50,940.50L465.52,941.65L469.47,942.83L473.34,944.01L477.14,945.20L480.87,946.41L484.53,947.63L488.14,948.87L491.68,950.11L495.16,951.37L498.58,952.64L501.94,953.92L505.25,955.21L508.50,956.52L511.70,957.83L514.85,959.16L517.95,960.50L521.00,961.85L523.99,963.22L526.95,964.59L529.85,965.98L532.70,967.38L535.52,968.79L538.28,970.21L541.00,971.64L543.68,973.08L546.31,974.54L548.90,976.01L551.45,977.49L553.95,978.98L554.42,980.47L554.82,981.95L555.17,983.42L555.46,984.88L555.69,986.33L555.87,987.77L556.01,989.20L556.09,990.62L556.13,992.04L556.12,993.44L556.07,994.84L555.98,996.23L555.84,997.62L555.67,999.00L555.47,1000.37L555.22,1001.73L554.94,1003.09L554.63,1004.45L554.29,1005.80L553.91,1007.14L553.50,1008.48L553.06,1009.81L552.60,1011.14L552.10,1012.47L551.58,1013.79L551.03,1015.11L550.46,1016.42L549.86,1017.73L549.23,1019.03L548.59,1020.33L547.92,1021.63L547.22,1022.92L545.63,1021.63L544.02,1020.33L542.40,1019.03L540.77,1017.73L539.13,1016.42L537.47,1015.11L535.81,1013.79L534.14,1012.47L532.46,1011.14L530.76,1009.81L529.06,1008.48L527.34,1007.14L525.61,1005.80L523.87,1004.45L522.12,1003.09L520.36,1001.73L518.59,1000.37L516.81,999.00L515.01,997.62L513.20,996.23L511.38,994.84L509.55,993.44L507.71,992.04L505.85,990.62L503.98,989.20L502.09,987.77L500.19,986.33L498.28,984.88L496.35,983.42L494.41,981.95L492.45,980.47L490.47,978.98L489.46,977.49L488.44,976.01L487.41,974.54L486.35,973.08L485.27,971.64L484.18,970.21L483.07,968.79L481.94,967.38L480.80,965.98L479.63,964.59L478.45,963.22L477.25,961.85L476.03,960.50L474.79,959.16L473.53,957.83L472.25,956.52L470.95,955.21L469.64,953.92L468.30,952.64L466.94,951.37L465.57,950.11L464.17,948.87L462.75,947.63L461.31,946.41L459.84,945.20L458.36,944.01L456.85,942.83L455.32,941.65L453.77,940.50L452.19,939.35L450.58,938.22Z" fill="#FCF1D3" stroke="#FCF1D3" stroke-width="0.4"/>
<path d="M534.40,937.10L537.66,938.22L540.87,939.35L544.03,940.50L547.14,941.65L550.20,942.83L553.22,944.01L556.19,945.20L559.11,946.41L562.00,947.63L564.84,948.87L567.63,950.11L570.39,951.37L573.10,952.64L575.77,953.92L578.41,955.21L581.00,956.52L583.56,957.83L586.07,959.16L588.55,960.50L590.99,961.85L593.40,963.22L595.76,964.59L598.09,965.98L600.39,967.38L602.64,968.79L604.86,970.21L607.05,971.64L609.20,973.08L611.31,974.54L613.39,976.01L615.43,977.49L617.44,978.98L618.39,980.47L619.27,981.95L620.07,983.42L620.81,984.88L621.47,986.33L622.07,987.77L622.60,989.20L623.08,990.62L623.49,992.04L623.85,993.44L624.16,994.84L624.41,996.23L624.62,997.62L624.77,999.00L624.88,1000.37L624.94,1001.73L624.96,1003.09L624.93,1004.45L624.86,1005.80L624.76,1007.14L624.61,1008.48L624.43,1009.81L624.21,1011.14L623.95,1012.47L623.66,1013.79L623.33,1015.11L622.97,1016.42L622.58,1017.73L622.16,1019.03L621.71,1020.33L621.22,1021.63L620.71,1022.92L618.93,1021.63L617.14,1020.33L615.32,1019.03L613.49,1017.73L611.64,1016.42L609.78,1015.11L607.89,1013.79L605.99,1012.47L604.07,1011.14L602.13,1009.81L600.17,1008.48L598.19,1007.14L596.19,1005.80L594.17,1004.45L592.14,1003.09L590.08,1001.73L588.00,1000.37L585.90,999.00L583.78,997.62L581.64,996.23L579.47,994.84L577.29,993.44L575.07,992.04L572.84,990.62L570.57,989.20L568.29,987.77L565.97,986.33L563.63,984.88L561.25,983.42L558.85,981.95L556.42,980.47L553.95,978.98L553.45,977.49L552.93,976.01L552.40,974.54L551.87,973.08L551.32,971.64L550.77,970.21L550.20,968.79L549.63,967.38L549.04,965.98L548.45,964.59L547.85,963.22L547.25,961.85L546.63,960.50L546.01,959.16L545.38,957.83L544.75,956.52L544.11,955.21L543.47,953.92L542.83,952.64L542.18,951.37L541.52,950.11L540.87,948.87L540.21,947.63L539.55,946.41L538.90,945.20L538.24,944.01L537.59,942.83L536.94,941.65L536.29,940.50L535.66,939.35L535.03,938.22Z" fill="#FBEDC3" stroke="#FBEDC3" stroke-width="0.4"/>
<path d="M363.50,910.90L381.07,911.15L391.38,911.54L400.01,912.00L407.70,912.51L414.75,913.07L421.33,913.67L427.54,914.30L433.44,914.96L439.08,915.66L444.50,916.38L449.73,917.12L454.79,917.89L459.69,918.69L464.45,919.50L469.08,920.33L473.60,921.19L478.00,922.06L482.30,922.95L486.51,923.86L490.63,924.78L494.66,925.73L498.61,926.69L502.48,927.66L506.29,928.65L510.02,929.66L513.68,930.68L517.29,931.71L520.82,932.76L524.30,933.83L527.73,934.90L531.09,936.00L534.40,937.10L535.03,938.22L535.66,939.35L536.29,940.50L536.94,941.65L537.59,942.83L538.24,944.01L538.90,945.20L539.55,946.41L540.21,947.63L540.87,948.87L541.52,950.11L542.18,951.37L542.83,952.64L543.47,953.92L544.11,955.21L544.75,956.52L545.38,957.83L546.01,959.16L546.63,960.50L547.25,961.85L547.85,963.22L548.45,964.59L549.04,965.98L549.63,967.38L550.20,968.79L550.77,970.21L551.32,971.64L551.87,973.08L552.40,974.54L552.93,976.01L553.45,977.49L553.95,978.98L551.45,977.49L548.90,976.01L546.31,974.54L543.68,973.08L541.00,971.64L538.28,970.21L535.52,968.79L532.70,967.38L529.85,965.98L526.95,964.59L523.99,963.22L521.00,961.85L517.95,960.50L514.85,959.16L511.70,957.83L508.50,956.52L505.25,955.21L501.94,953.92L498.58,952.64L495.16,951.37L491.68,950.11L488.14,948.87L484.53,947.63L480.87,946.41L477.14,945.20L473.34,944.01L469.47,942.83L465.52,941.65L461.50,940.50L457.40,939.35L453.22,938.22L448.95,937.10L447.30,936.00L445.61,934.90L443.90,933.83L442.16,932.76L440.39,931.71L438.59,930.68L436.76,929.66L434.89,928.65L432.99,927.66L431.05,926.69L429.08,925.73L427.06,924.78L425.00,923.86L422.90,922.95L420.75,922.06L418.55,921.19L416.29,920.33L413.97,919.50L411.59,918.69L409.14,917.89L406.62,917.12L404.00,916.38L401.29,915.66L398.47,914.96L395.52,914.30L392.42,913.67L389.13,913.07L385.60,912.51L381.76,912.00L377.44,911.54L372.29,911.15Z" fill="#F5DC88" stroke="#F5DC88" stroke-width="0.4"/>
<path d="M426.98,978.98L428.47,980.47L429.96,981.95L431.45,983.42L432.93,984.88L434.42,986.33L435.90,987.77L437.38,989.20L438.86,990.62L440.34,992.04L441.82,993.44L443.29,994.84L444.77,996.23L446.24,997.62L447.71,999.00L449.18,1000.37L450.65,1001.73L452.11,1003.09L453.57,1004.45L455.03,1005.80L456.49,1007.14L457.94,1008.48L459.40,1009.81L460.85,1011.14L462.29,1012.47L463.73,1013.79L465.17,1015.11L466.61,1016.42L468.04,1017.73L469.47,1019.03L470.90,1020.33L472.32,1021.63L473.73,1022.92L472.84,1024.22L471.94,1025.50L471.02,1026.79L470.09,1028.07L469.14,1029.35L468.18,1030.63L467.21,1031.91L466.23,1033.18L465.23,1034.45L464.22,1035.72L463.20,1036.99L462.17,1038.25L461.13,1039.51L460.07,1040.77L459.01,1042.03L457.94,1043.29L456.86,1044.55L455.77,1045.81L454.67,1047.06L453.56,1048.31L452.45,1049.57L451.32,1050.82L450.19,1052.07L449.05,1053.32L447.91,1054.57L446.76,1055.82L445.60,1057.06L444.43,1058.31L443.26,1059.56L442.08,1060.81L440.90,1062.05L439.71,1063.30L438.52,1062.05L437.32,1060.81L436.12,1059.56L434.91,1058.31L433.70,1057.06L432.48,1055.82L431.27,1054.57L430.04,1053.32L428.82,1052.07L427.59,1050.82L426.36,1049.57L425.12,1048.31L423.89,1047.06L422.65,1045.81L421.41,1044.55L420.16,1043.29L418.92,1042.03L417.68,1040.77L416.43,1039.51L415.18,1038.25L413.94,1036.99L412.69,1035.72L411.44,1034.45L410.19,1033.18L408.95,1031.91L407.70,1030.63L406.45,1029.35L405.21,1028.07L403.97,1026.79L402.72,1025.50L401.48,1024.22L400.24,1022.92L401.30,1021.63L402.35,1020.33L403.38,1019.03L404.41,1017.73L405.42,1016.42L406.43,1015.11L407.42,1013.79L408.41,1012.47L409.38,1011.14L410.33,1009.81L411.28,1008.48L412.21,1007.14L413.13,1005.80L414.03,1004.45L414.92,1003.09L415.79,1001.73L416.64,1000.37L417.48,999.00L418.30,997.62L419.10,996.23L419.89,994.84L420.65,993.44L421.39,992.04L422.11,990.62L422.81,989.20L423.49,987.77L424.14,986.33L424.76,984.88L425.36,983.42L425.93,981.95L426.47,980.47Z" fill="#8AB0E6" stroke="#8AB0E6" stroke-width="0.4"/>
<path d="M363.50,937.10L366.14,938.22L368.72,939.35L371.24,940.50L373.70,941.65L376.12,942.83L378.48,944.01L380.79,945.20L383.06,946.41L385.29,947.63L387.47,948.87L389.61,950.11L391.71,951.37L393.78,952.64L395.80,953.92L397.79,955.21L399.75,956.52L401.67,957.83L403.56,959.16L405.42,960.50L407.25,961.85L409.05,963.22L410.81,964.59L412.55,965.98L414.26,967.38L415.94,968.79L417.60,970.21L419.23,971.64L420.83,973.08L422.41,974.54L423.96,976.01L425.48,977.49L426.98,978.98L426.47,980.47L425.93,981.95L425.36,983.42L424.76,984.88L424.14,986.33L423.49,987.77L422.81,989.20L422.11,990.62L421.39,992.04L420.65,993.44L419.89,994.84L419.10,996.23L418.30,997.62L417.48,999.00L416.64,1000.37L415.79,1001.73L414.92,1003.09L414.03,1004.45L413.13,1005.80L412.21,1007.14L411.28,1008.48L410.33,1009.81L409.38,1011.14L408.41,1012.47L407.42,1013.79L406.43,1015.11L405.42,1016.42L404.41,1017.73L403.38,1019.03L402.35,1020.33L401.30,1021.63L400.24,1022.92L399.01,1021.63L397.78,1020.33L396.54,1019.03L395.32,1017.73L394.09,1016.42L392.87,1015.11L391.66,1013.79L390.44,1012.47L389.23,1011.14L388.03,1009.81L386.83,1008.48L385.64,1007.14L384.45,1005.80L383.27,1004.45L382.10,1003.09L380.93,1001.73L379.77,1000.37L378.61,999.00L377.47,997.62L376.33,996.23L375.20,994.84L374.08,993.44L372.97,992.04L371.87,990.62L370.78,989.20L369.71,987.77L368.64,986.33L367.58,984.88L366.54,983.42L365.51,981.95L364.50,980.47L363.50,978.98L363.50,977.49L363.50,976.01L363.50,974.54L363.50,973.08L363.50,971.64L363.50,970.21L363.50,968.79L363.50,967.38L363.50,965.98L363.50,964.59L363.50,963.22L363.50,961.85L363.50,960.50L363.50,959.16L363.50,957.83L363.50,956.52L363.50,955.21L363.50,953.92L363.50,952.64L363.50,951.37L363.50,950.11L363.50,948.87L363.50,947.63L363.50,946.41L363.50,945.20L363.50,944.01L363.50,942.83L363.50,941.65L363.50,940.50L363.50,939.35L363.50,938.22Z" fill="#D8E5F7" stroke="#D8E5F7" stroke-width="0.4"/>
<path d="M448.95,937.10L450.58,938.22L452.19,939.35L453.77,940.50L455.32,941.65L456.85,942.83L458.36,944.01L459.84,945.20L461.31,946.41L462.75,947.63L464.17,948.87L465.57,950.11L466.94,951.37L468.30,952.64L469.64,953.92L470.95,955.21L472.25,956.52L473.53,957.83L474.79,959.16L476.03,960.50L477.25,961.85L478.45,963.22L479.63,964.59L480.80,965.98L481.94,967.38L483.07,968.79L484.18,970.21L485.27,971.64L486.35,973.08L487.41,974.54L488.44,976.01L489.46,977.49L490.47,978.98L490.45,980.47L490.38,981.95L490.27,983.42L490.11,984.88L489.92,986.33L489.68,987.77L489.41,989.20L489.10,990.62L488.76,992.04L488.38,993.44L487.98,994.84L487.54,996.23L487.07,997.62L486.58,999.00L486.05,1000.37L485.50,1001.73L484.93,1003.09L484.33,1004.45L483.71,1005.80L483.06,1007.14L482.39,1008.48L481.70,1009.81L480.99,1011.14L480.25,1012.47L479.50,1013.79L478.73,1015.11L477.94,1016.42L477.13,1017.73L476.31,1019.03L475.47,1020.33L474.61,1021.63L473.73,1022.92L472.32,1021.63L470.90,1020.33L469.47,1019.03L468.04,1017.73L466.61,1016.42L465.17,1015.11L463.73,1013.79L462.29,1012.47L460.85,1011.14L459.40,1009.81L457.94,1008.48L456.49,1007.14L455.03,1005.80L453.57,1004.45L452.11,1003.09L450.65,1001.73L449.18,1000.37L447.71,999.00L446.24,997.62L444.77,996.23L443.29,994.84L441.82,993.44L440.34,992.04L438.86,990.62L437.38,989.20L435.90,987.77L434.42,986.33L432.93,984.88L431.45,983.42L429.96,981.95L428.47,980.47L426.98,978.98L427.48,977.49L427.99,976.01L428.50,974.54L429.02,973.08L429.55,971.64L430.08,970.21L430.63,968.79L431.18,967.38L431.75,965.98L432.32,964.59L432.90,963.22L433.50,961.85L434.10,960.50L434.72,959.16L435.36,957.83L436.00,956.52L436.66,955.21L437.33,953.92L438.02,952.64L438.73,951.37L439.46,950.11L440.20,948.87L440.96,947.63L441.75,946.41L442.55,945.20L443.38,944.01L444.24,942.83L445.12,941.65L446.03,940.50L446.97,939.35L447.94,938.22Z" fill="#FEF8E8" stroke="#FEF8E8" stroke-width="0.4"/>
<path d="M363.50,910.90L372.29,911.15L377.44,911.54L381.76,912.00L385.60,912.51L389.13,913.07L392.42,913.67L395.52,914.30L398.47,914.96L401.29,915.66L404.00,916.38L406.62,917.12L409.14,917.89L411.59,918.69L413.97,919.50L416.29,920.33L418.55,921.19L420.75,922.06L422.90,922.95L425.00,923.86L427.06,924.78L429.08,925.73L431.05,926.69L432.99,927.66L434.89,928.65L436.76,929.66L438.59,930.68L440.39,931.71L442.16,932.76L443.90,933.83L445.61,934.90L447.30,936.00L448.95,937.10L447.94,938.22L446.97,939.35L446.03,940.50L445.12,941.65L444.24,942.83L443.38,944.01L442.55,945.20L441.75,946.41L440.96,947.63L440.20,948.87L439.46,950.11L438.73,951.37L438.02,952.64L437.33,953.92L436.66,955.21L436.00,956.52L435.36,957.83L434.72,959.16L434.10,960.50L433.50,961.85L432.90,963.22L432.32,964.59L431.75,965.98L431.18,967.38L430.63,968.79L430.08,970.21L429.55,971.64L429.02,973.08L428.50,974.54L427.99,976.01L427.48,977.49L426.98,978.98L425.48,977.49L423.96,976.01L422.41,974.54L420.83,973.08L419.23,971.64L417.60,970.21L415.94,968.79L414.26,967.38L412.55,965.98L410.81,964.59L409.05,963.22L407.25,961.85L405.42,960.50L403.56,959.16L401.67,957.83L399.75,956.52L397.79,955.21L395.80,953.92L393.78,952.64L391.71,951.37L389.61,950.11L387.47,948.87L385.29,947.63L383.06,946.41L380.79,945.20L378.48,944.01L376.12,942.83L373.70,941.65L371.24,940.50L368.72,939.35L366.14,938.22L363.50,937.10L363.50,936.00L363.50,934.90L363.50,933.83L363.50,932.76L363.50,931.71L363.50,930.68L363.50,929.66L363.50,928.65L363.50,927.66L363.50,926.69L363.50,925.73L363.50,924.78L363.50,923.86L363.50,922.95L363.50,922.06L363.50,921.19L363.50,920.33L363.50,919.50L363.50,918.69L363.50,917.89L363.50,917.12L363.50,916.38L363.50,915.66L363.50,914.96L363.50,914.30L363.50,913.67L363.50,913.07L363.50,912.51L363.50,912.00L363.50,911.54L363.50,911.15Z" fill="#FBEBC0" stroke="#FBEBC0" stroke-width="0.4"/>
<path d="M363.50,1063.30L364.69,1064.55L365.88,1065.79L367.07,1067.04L368.26,1068.29L369.45,1069.54L370.64,1070.78L371.82,1072.03L373.01,1073.28L374.19,1074.53L375.37,1075.78L376.55,1077.03L377.72,1078.29L378.89,1079.54L380.06,1080.79L381.23,1082.05L382.39,1083.31L383.55,1084.57L384.70,1085.83L385.85,1087.09L386.99,1088.35L388.13,1089.61L389.27,1090.88L390.39,1092.15L391.52,1093.42L392.63,1094.69L393.74,1095.97L394.84,1097.25L395.94,1098.53L397.03,1099.81L398.11,1101.10L399.18,1102.38L400.24,1103.68L399.01,1104.97L397.78,1106.27L396.54,1107.57L395.32,1108.87L394.09,1110.18L392.87,1111.49L391.66,1112.81L390.44,1114.13L389.23,1115.46L388.03,1116.79L386.83,1118.12L385.64,1119.46L384.45,1120.80L383.27,1122.15L382.10,1123.51L380.93,1124.87L379.77,1126.23L378.61,1127.60L377.47,1128.98L376.33,1130.37L375.20,1131.76L374.08,1133.16L372.97,1134.56L371.87,1135.98L370.78,1137.40L369.71,1138.83L368.64,1140.27L367.58,1141.72L366.54,1143.18L365.51,1144.65L364.50,1146.13L363.50,1147.62L362.50,1146.13L361.49,1144.65L360.46,1143.18L359.42,1141.72L358.36,1140.27L357.29,1138.83L356.22,1137.40L355.13,1135.98L354.03,1134.56L352.92,1133.16L351.80,1131.76L350.67,1130.37L349.53,1128.98L348.39,1127.60L347.23,1126.23L346.07,1124.87L344.90,1123.51L343.73,1122.15L342.55,1120.80L341.36,1119.46L340.17,1118.12L338.97,1116.79L337.77,1115.46L336.56,1114.13L335.34,1112.81L334.13,1111.49L332.91,1110.18L331.68,1108.87L330.46,1107.57L329.22,1106.27L327.99,1104.97L326.76,1103.68L327.82,1102.38L328.89,1101.10L329.97,1099.81L331.06,1098.53L332.16,1097.25L333.26,1095.97L334.37,1094.69L335.48,1093.42L336.61,1092.15L337.73,1090.88L338.87,1089.61L340.01,1088.35L341.15,1087.09L342.30,1085.83L343.45,1084.57L344.61,1083.31L345.77,1082.05L346.94,1080.79L348.11,1079.54L349.28,1078.29L350.45,1077.03L351.63,1075.78L352.81,1074.53L353.99,1073.28L355.18,1072.03L356.36,1070.78L357.55,1069.54L358.74,1068.29L359.93,1067.04L361.12,1065.79L362.31,1064.55Z" fill="#ECF2FB" stroke="#ECF2FB" stroke-width="0.4"/>
<path d="M326.76,1022.92L327.82,1024.22L328.89,1025.50L329.97,1026.79L331.06,1028.07L332.16,1029.35L333.26,1030.63L334.37,1031.91L335.48,1033.18L336.61,1034.45L337.73,1035.72L338.87,1036.99L340.01,1038.25L341.15,1039.51L342.30,1040.77L343.45,1042.03L344.61,1043.29L345.77,1044.55L346.94,1045.81L348.11,1047.06L349.28,1048.31L350.45,1049.57L351.63,1050.82L352.81,1052.07L353.99,1053.32L355.18,1054.57L356.36,1055.82L357.55,1057.06L358.74,1058.31L359.93,1059.56L361.12,1060.81L362.31,1062.05L363.50,1063.30L362.31,1064.55L361.12,1065.79L359.93,1067.04L358.74,1068.29L357.55,1069.54L356.36,1070.78L355.18,1072.03L353.99,1073.28L352.81,1074.53L351.63,1075.78L350.45,1077.03L349.28,1078.29L348.11,1079.54L346.94,1080.79L345.77,1082.05L344.61,1083.31L343.45,1084.57L342.30,1085.83L341.15,1087.09L340.01,1088.35L338.87,1089.61L337.73,1090.88L336.61,1092.15L335.48,1093.42L334.37,1094.69L333.26,1095.97L332.16,1097.25L331.06,1098.53L329.97,1099.81L328.89,1101.10L327.82,1102.38L326.76,1103.68L325.52,1102.38L324.28,1101.10L323.03,1099.81L321.79,1098.53L320.55,1097.25L319.30,1095.97L318.05,1094.69L316.81,1093.42L315.56,1092.15L314.31,1090.88L313.06,1089.61L311.82,1088.35L310.57,1087.09L309.32,1085.83L308.08,1084.57L306.84,1083.31L305.59,1082.05L304.35,1080.79L303.11,1079.54L301.88,1078.29L300.64,1077.03L299.41,1075.78L298.18,1074.53L296.96,1073.28L295.73,1072.03L294.52,1070.78L293.30,1069.54L292.09,1068.29L290.88,1067.04L289.68,1065.79L288.48,1064.55L287.29,1063.30L288.48,1062.05L289.68,1060.81L290.88,1059.56L292.09,1058.31L293.30,1057.06L294.52,1055.82L295.73,1054.57L296.96,1053.32L298.18,1052.07L299.41,1050.82L300.64,1049.57L301.88,1048.31L303.11,1047.06L304.35,1045.81L305.59,1044.55L306.84,1043.29L308.08,1042.03L309.32,1040.77L310.57,1039.51L311.82,1038.25L313.06,1036.99L314.31,1035.72L315.56,1034.45L316.81,1033.18L318.05,1031.91L319.30,1030.63L320.55,1029.35L321.79,1028.07L323.03,1026.79L324.28,1025.50L325.52,1024.22Z" fill="#F0C22E" stroke="#F0C22E" stroke-width="0.4"/>
<path d="M400.24,1022.92L401.48,1024.22L402.72,1025.50L403.97,1026.79L405.21,1028.07L406.45,1029.35L407.70,1030.63L408.95,1031.91L410.19,1033.18L411.44,1034.45L412.69,1035.72L413.94,1036.99L415.18,1038.25L416.43,1039.51L417.68,1040.77L418.92,1042.03L420.16,1043.29L421.41,1044.55L422.65,1045.81L423.89,1047.06L425.12,1048.31L426.36,1049.57L427.59,1050.82L428.82,1052.07L430.04,1053.32L431.27,1054.57L432.48,1055.82L433.70,1057.06L434.91,1058.31L436.12,1059.56L437.32,1060.81L438.52,1062.05L439.71,1063.30L438.52,1064.55L437.32,1065.79L436.12,1067.04L434.91,1068.29L433.70,1069.54L432.48,1070.78L431.27,1072.03L430.04,1073.28L428.82,1074.53L427.59,1075.78L426.36,1077.03L425.12,1078.29L423.89,1079.54L422.65,1080.79L421.41,1082.05L420.16,1083.31L418.92,1084.57L417.68,1085.83L416.43,1087.09L415.18,1088.35L413.94,1089.61L412.69,1090.88L411.44,1092.15L410.19,1093.42L408.95,1094.69L407.70,1095.97L406.45,1097.25L405.21,1098.53L403.97,1099.81L402.72,1101.10L401.48,1102.38L400.24,1103.68L399.18,1102.38L398.11,1101.10L397.03,1099.81L395.94,1098.53L394.84,1097.25L393.74,1095.97L392.63,1094.69L391.52,1093.42L390.39,1092.15L389.27,1090.88L388.13,1089.61L386.99,1088.35L385.85,1087.09L384.70,1085.83L383.55,1084.57L382.39,1083.31L381.23,1082.05L380.06,1080.79L378.89,1079.54L377.72,1078.29L376.55,1077.03L375.37,1075.78L374.19,1074.53L373.01,1073.28L371.82,1072.03L370.64,1070.78L369.45,1069.54L368.26,1068.29L367.07,1067.04L365.88,1065.79L364.69,1064.55L363.50,1063.30L364.69,1062.05L365.88,1060.81L367.07,1059.56L368.26,1058.31L369.45,1057.06L370.64,1055.82L371.82,1054.57L373.01,1053.32L374.19,1052.07L375.37,1050.82L376.55,1049.57L377.72,1048.31L378.89,1047.06L380.06,1045.81L381.23,1044.55L382.39,1043.29L383.55,1042.03L384.70,1040.77L385.85,1039.51L386.99,1038.25L388.13,1036.99L389.27,1035.72L390.39,1034.45L391.52,1033.18L392.63,1031.91L393.74,1030.63L394.84,1029.35L395.94,1028.07L397.03,1026.79L398.11,1025.50L399.18,1024.22Z" fill="#F5D77C" stroke="#F5D77C" stroke-width="0.4"/>
<path d="M363.50,978.98L364.50,980.47L365.51,981.95L366.54,983.42L367.58,984.88L368.64,986.33L369.71,987.77L370.78,989.20L371.87,990.62L372.97,992.04L374.08,993.44L375.20,994.84L376.33,996.23L377.47,997.62L378.61,999.00L379.77,1000.37L380.93,1001.73L382.10,1003.09L383.27,1004.45L384.45,1005.80L385.64,1007.14L386.83,1008.48L388.03,1009.81L389.23,1011.14L390.44,1012.47L391.66,1013.79L392.87,1015.11L394.09,1016.42L395.32,1017.73L396.54,1019.03L397.78,1020.33L399.01,1021.63L400.24,1022.92L399.18,1024.22L398.11,1025.50L397.03,1026.79L395.94,1028.07L394.84,1029.35L393.74,1030.63L392.63,1031.91L391.52,1033.18L390.39,1034.45L389.27,1035.72L388.13,1036.99L386.99,1038.25L385.85,1039.51L384.70,1040.77L383.55,1042.03L382.39,1043.29L381.23,1044.55L380.06,1045.81L378.89,1047.06L377.72,1048.31L376.55,1049.57L375.37,1050.82L374.19,1052.07L373.01,1053.32L371.82,1054.57L370.64,1055.82L369.45,1057.06L368.26,1058.31L367.07,1059.56L365.88,1060.81L364.69,1062.05L363.50,1063.30L362.31,1062.05L361.12,1060.81L359.93,1059.56L358.74,1058.31L357.55,1057.06L356.36,1055.82L355.18,1054.57L353.99,1053.32L352.81,1052.07L351.63,1050.82L350.45,1049.57L349.28,1048.31L348.11,1047.06L346.94,1045.81L345.77,1044.55L344.61,1043.29L343.45,1042.03L342.30,1040.77L341.15,1039.51L340.01,1038.25L338.87,1036.99L337.73,1035.72L336.61,1034.45L335.48,1033.18L334.37,1031.91L333.26,1030.63L332.16,1029.35L331.06,1028.07L329.97,1026.79L328.89,1025.50L327.82,1024.22L326.76,1022.92L327.99,1021.63L329.22,1020.33L330.46,1019.03L331.68,1017.73L332.91,1016.42L334.13,1015.11L335.34,1013.79L336.56,1012.47L337.77,1011.14L338.97,1009.81L340.17,1008.48L341.36,1007.14L342.55,1005.80L343.73,1004.45L344.90,1003.09L346.07,1001.73L347.23,1000.37L348.39,999.00L349.53,997.62L350.67,996.23L351.80,994.84L352.92,993.44L354.03,992.04L355.13,990.62L356.22,989.20L357.29,987.77L358.36,986.33L359.42,984.88L360.46,983.42L361.49,981.95L362.50,980.47Z" fill="#DEE8F8" stroke="#DEE8F8" stroke-width="0.4"/>
<path d="M211.07,1063.30L212.27,1064.55L213.48,1065.79L214.69,1067.04L215.92,1068.29L217.15,1069.54L218.40,1070.78L219.65,1072.03L220.91,1073.28L222.18,1074.53L223.46,1075.78L224.74,1077.03L226.03,1078.29L227.34,1079.54L228.64,1080.79L229.96,1082.05L231.28,1083.31L232.61,1084.57L233.95,1085.83L235.29,1087.09L236.64,1088.35L238.00,1089.61L239.36,1090.88L240.72,1092.15L242.10,1093.42L243.48,1094.69L244.86,1095.97L246.25,1097.25L247.64,1098.53L249.04,1099.81L250.45,1101.10L251.85,1102.38L253.27,1103.68L252.39,1104.97L251.53,1106.27L250.69,1107.57L249.87,1108.87L249.06,1110.18L248.27,1111.49L247.50,1112.81L246.75,1114.13L246.01,1115.46L245.30,1116.79L244.61,1118.12L243.94,1119.46L243.29,1120.80L242.67,1122.15L242.07,1123.51L241.50,1124.87L240.95,1126.23L240.42,1127.60L239.93,1128.98L239.46,1130.37L239.02,1131.76L238.62,1133.16L238.24,1134.56L237.90,1135.98L237.59,1137.40L237.32,1138.83L237.08,1140.27L236.89,1141.72L236.73,1143.18L236.62,1144.65L236.55,1146.13L236.53,1147.62L234.55,1146.13L232.59,1144.65L230.65,1143.18L228.72,1141.72L226.81,1140.27L224.91,1138.83L223.02,1137.40L221.15,1135.98L219.29,1134.56L217.45,1133.16L215.62,1131.76L213.80,1130.37L211.99,1128.98L210.19,1127.60L208.41,1126.23L206.64,1124.87L204.88,1123.51L203.13,1122.15L201.39,1120.80L199.66,1119.46L197.94,1118.12L196.24,1116.79L194.54,1115.46L192.86,1114.13L191.19,1112.81L189.53,1111.49L187.87,1110.18L186.23,1108.87L184.60,1107.57L182.98,1106.27L181.37,1104.97L179.78,1103.68L180.49,1102.38L181.23,1101.10L181.99,1099.81L182.76,1098.53L183.56,1097.25L184.38,1095.97L185.21,1094.69L186.07,1093.42L186.94,1092.15L187.83,1090.88L188.73,1089.61L189.66,1088.35L190.59,1087.09L191.55,1085.83L192.52,1084.57L193.51,1083.31L194.51,1082.05L195.52,1080.79L196.55,1079.54L197.59,1078.29L198.65,1077.03L199.72,1075.78L200.80,1074.53L201.90,1073.28L203.00,1072.03L204.12,1070.78L205.25,1069.54L206.40,1068.29L207.55,1067.04L208.71,1065.79L209.89,1064.55Z" fill="#7EA7E4" stroke="#7EA7E4" stroke-width="0.4"/>
<path d="M179.78,1022.92L180.49,1024.22L181.23,1025.50L181.99,1026.79L182.76,1028.07L183.56,1029.35L184.38,1030.63L185.21,1031.91L186.07,1033.18L186.94,1034.45L187.83,1035.72L188.73,1036.99L189.66,1038.25L190.59,1039.51L191.55,1040.77L192.52,1042.03L193.51,1043.29L194.51,1044.55L195.52,1045.81L196.55,1047.06L197.59,1048.31L198.65,1049.57L199.72,1050.82L200.80,1052.07L201.90,1053.32L203.00,1054.57L204.12,1055.82L205.25,1057.06L206.40,1058.31L207.55,1059.56L208.71,1060.81L209.89,1062.05L211.07,1063.30L209.89,1064.55L208.71,1065.79L207.55,1067.04L206.40,1068.29L205.25,1069.54L204.12,1070.78L203.00,1072.03L201.90,1073.28L200.80,1074.53L199.72,1075.78L198.65,1077.03L197.59,1078.29L196.55,1079.54L195.52,1080.79L194.51,1082.05L193.51,1083.31L192.52,1084.57L191.55,1085.83L190.59,1087.09L189.66,1088.35L188.73,1089.61L187.83,1090.88L186.94,1092.15L186.07,1093.42L185.21,1094.69L184.38,1095.97L183.56,1097.25L182.76,1098.53L181.99,1099.81L181.23,1101.10L180.49,1102.38L179.78,1103.68L178.19,1102.38L176.61,1101.10L175.05,1099.81L173.49,1098.53L171.95,1097.25L170.42,1095.97L168.90,1094.69L167.39,1093.42L165.89,1092.15L164.40,1090.88L162.93,1089.61L161.46,1088.35L160.01,1087.09L158.57,1085.83L157.15,1084.57L155.73,1083.31L154.33,1082.05L152.94,1080.79L151.56,1079.54L150.19,1078.29L148.84,1077.03L147.50,1075.78L146.17,1074.53L144.86,1073.28L143.56,1072.03L142.27,1070.78L141.00,1069.54L139.75,1068.29L138.50,1067.04L137.27,1065.79L136.06,1064.55L134.86,1063.30L136.06,1062.05L137.27,1060.81L138.50,1059.56L139.75,1058.31L141.00,1057.06L142.27,1055.82L143.56,1054.57L144.86,1053.32L146.17,1052.07L147.50,1050.82L148.84,1049.57L150.19,1048.31L151.56,1047.06L152.94,1045.81L154.33,1044.55L155.73,1043.29L157.15,1042.03L158.57,1040.77L160.01,1039.51L161.46,1038.25L162.93,1036.99L164.40,1035.72L165.89,1034.45L167.39,1033.18L168.90,1031.91L170.42,1030.63L171.95,1029.35L173.49,1028.07L175.05,1026.79L176.61,1025.50L178.19,1024.22Z" fill="#BCD2F1" stroke="#BCD2F1" stroke-width="0.4"/>
<path d="M253.27,1022.92L254.16,1024.22L255.06,1025.50L255.98,1026.79L256.91,1028.07L257.86,1029.35L258.82,1030.63L259.79,1031.91L260.77,1033.18L261.77,1034.45L262.78,1035.72L263.80,1036.99L264.83,1038.25L265.87,1039.51L266.93,1040.77L267.99,1042.03L269.06,1043.29L270.14,1044.55L271.23,1045.81L272.33,1047.06L273.44,1048.31L274.55,1049.57L275.68,1050.82L276.81,1052.07L277.95,1053.32L279.09,1054.57L280.24,1055.82L281.40,1057.06L282.57,1058.31L283.74,1059.56L284.92,1060.81L286.10,1062.05L287.29,1063.30L286.10,1064.55L284.92,1065.79L283.74,1067.04L282.57,1068.29L281.40,1069.54L280.24,1070.78L279.09,1072.03L277.95,1073.28L276.81,1074.53L275.68,1075.78L274.55,1077.03L273.44,1078.29L272.33,1079.54L271.23,1080.79L270.14,1082.05L269.06,1083.31L267.99,1084.57L266.93,1085.83L265.87,1087.09L264.83,1088.35L263.80,1089.61L262.78,1090.88L261.77,1092.15L260.77,1093.42L259.79,1094.69L258.82,1095.97L257.86,1097.25L256.91,1098.53L255.98,1099.81L255.06,1101.10L254.16,1102.38L253.27,1103.68L251.85,1102.38L250.45,1101.10L249.04,1099.81L247.64,1098.53L246.25,1097.25L244.86,1095.97L243.48,1094.69L242.10,1093.42L240.72,1092.15L239.36,1090.88L238.00,1089.61L236.64,1088.35L235.29,1087.09L233.95,1085.83L232.61,1084.57L231.28,1083.31L229.96,1082.05L228.64,1080.79L227.34,1079.54L226.03,1078.29L224.74,1077.03L223.46,1075.78L222.18,1074.53L220.91,1073.28L219.65,1072.03L218.40,1070.78L217.15,1069.54L215.92,1068.29L214.69,1067.04L213.48,1065.79L212.27,1064.55L211.07,1063.30L212.27,1062.05L213.48,1060.81L214.69,1059.56L215.92,1058.31L217.15,1057.06L218.40,1055.82L219.65,1054.57L220.91,1053.32L222.18,1052.07L223.46,1050.82L224.74,1049.57L226.03,1048.31L227.34,1047.06L228.64,1045.81L229.96,1044.55L231.28,1043.29L232.61,1042.03L233.95,1040.77L235.29,1039.51L236.64,1038.25L238.00,1036.99L239.36,1035.72L240.72,1034.45L242.10,1033.18L243.48,1031.91L244.86,1030.63L246.25,1029.35L247.64,1028.07L249.04,1026.79L250.45,1025.50L251.85,1024.22Z" fill="#FBEEC4" stroke="#FBEEC4" stroke-width="0.4"/>
<path d="M236.53,978.98L236.55,980.47L236.62,981.95L236.73,983.42L236.89,984.88L237.08,986.33L237.32,987.77L237.59,989.20L237.90,990.62L238.24,992.04L238.62,993.44L239.02,994.84L239.46,996.23L239.93,997.62L240.42,999.00L240.95,1000.37L241.50,1001.73L242.07,1003.09L242.67,1004.45L243.29,1005.80L243.94,1007.14L244.61,1008.48L245.30,1009.81L246.01,1011.14L246.75,1012.47L247.50,1013.79L248.27,1015.11L249.06,1016.42L249.87,1017.73L250.69,1019.03L251.53,1020.33L252.39,1021.63L253.27,1022.92L251.85,1024.22L250.45,1025.50L249.04,1026.79L247.64,1028.07L246.25,1029.35L244.86,1030.63L243.48,1031.91L242.10,1033.18L240.72,1034.45L239.36,1035.72L238.00,1036.99L236.64,1038.25L235.29,1039.51L233.95,1040.77L232.61,1042.03L231.28,1043.29L229.96,1044.55L228.64,1045.81L227.34,1047.06L226.03,1048.31L224.74,1049.57L223.46,1050.82L222.18,1052.07L220.91,1053.32L219.65,1054.57L218.40,1055.82L217.15,1057.06L215.92,1058.31L214.69,1059.56L213.48,1060.81L212.27,1062.05L211.07,1063.30L209.89,1062.05L208.71,1060.81L207.55,1059.56L206.40,1058.31L205.25,1057.06L204.12,1055.82L203.00,1054.57L201.90,1053.32L200.80,1052.07L199.72,1050.82L198.65,1049.57L197.59,1048.31L196.55,1047.06L195.52,1045.81L194.51,1044.55L193.51,1043.29L192.52,1042.03L191.55,1040.77L190.59,1039.51L189.66,1038.25L188.73,1036.99L187.83,1035.72L186.94,1034.45L186.07,1033.18L185.21,1031.91L184.38,1030.63L183.56,1029.35L182.76,1028.07L181.99,1026.79L181.23,1025.50L180.49,1024.22L179.78,1022.92L181.37,1021.63L182.98,1020.33L184.60,1019.03L186.23,1017.73L187.87,1016.42L189.53,1015.11L191.19,1013.79L192.86,1012.47L194.54,1011.14L196.24,1009.81L197.94,1008.48L199.66,1007.14L201.39,1005.80L203.13,1004.45L204.88,1003.09L206.64,1001.73L208.41,1000.37L210.19,999.00L211.99,997.62L213.80,996.23L215.62,994.84L217.45,993.44L219.29,992.04L221.15,990.62L223.02,989.20L224.91,987.77L226.81,986.33L228.72,984.88L230.65,983.42L232.59,981.95L234.55,980.47Z" fill="#ADC9ED" stroke="#ADC9ED" stroke-width="0.4"/>
<path d="M58.65,1063.30L59.85,1064.55L61.07,1065.79L62.31,1067.04L63.57,1068.29L64.85,1069.54L66.15,1070.78L67.47,1072.03L68.81,1073.28L70.17,1074.53L71.54,1075.78L72.94,1077.03L74.35,1078.29L75.78,1079.54L77.23,1080.79L78.69,1082.05L80.18,1083.31L81.68,1084.57L83.20,1085.83L84.73,1087.09L86.29,1088.35L87.86,1089.61L89.45,1090.88L91.06,1092.15L92.68,1093.42L94.32,1094.69L95.98,1095.97L97.65,1097.25L99.35,1098.53L101.06,1099.81L102.78,1101.10L104.53,1102.38L106.29,1103.68L105.78,1104.97L105.29,1106.27L104.84,1107.57L104.42,1108.87L104.03,1110.18L103.67,1111.49L103.34,1112.81L103.05,1114.13L102.79,1115.46L102.57,1116.79L102.39,1118.12L102.24,1119.46L102.14,1120.80L102.07,1122.15L102.04,1123.51L102.06,1124.87L102.12,1126.23L102.23,1127.60L102.38,1128.98L102.59,1130.37L102.84,1131.76L103.15,1133.16L103.51,1134.56L103.92,1135.98L104.40,1137.40L104.93,1138.83L105.53,1140.27L106.19,1141.72L106.93,1143.18L107.73,1144.65L108.61,1146.13L109.56,1147.62L106.61,1146.13L103.70,1144.65L100.84,1143.18L98.03,1141.72L95.25,1140.27L92.52,1138.83L89.83,1137.40L87.18,1135.98L84.56,1134.56L81.98,1133.16L79.44,1131.76L76.92,1130.37L74.45,1128.98L72.00,1127.60L69.59,1126.23L67.20,1124.87L64.85,1123.51L62.52,1122.15L60.23,1120.80L57.96,1119.46L55.72,1118.12L53.51,1116.79L51.32,1115.46L49.16,1114.13L47.03,1112.81L44.92,1111.49L42.84,1110.18L40.78,1108.87L38.75,1107.57L36.74,1106.27L34.76,1104.97L32.80,1103.68L33.16,1102.38L33.57,1101.10L34.00,1099.81L34.47,1098.53L34.96,1097.25L35.50,1095.97L36.06,1094.69L36.65,1093.42L37.27,1092.15L37.92,1090.88L38.60,1089.61L39.30,1088.35L40.04,1087.09L40.80,1085.83L41.59,1084.57L42.40,1083.31L43.24,1082.05L44.10,1080.79L44.99,1079.54L45.91,1078.29L46.84,1077.03L47.81,1075.78L48.79,1074.53L49.80,1073.28L50.83,1072.03L51.88,1070.78L52.96,1069.54L54.05,1068.29L55.17,1067.04L56.31,1065.79L57.47,1064.55Z" fill="#FEF9EA" stroke="#FEF9EA" stroke-width="0.4"/>
<path d="M668.35,1063.30L669.53,1064.55L670.69,1065.79L671.83,1067.04L672.95,1068.29L674.04,1069.54L675.12,1070.78L676.17,1072.03L677.20,1073.28L678.21,1074.53L679.19,1075.78L680.16,1077.03L681.09,1078.29L682.01,1079.54L682.90,1080.79L683.76,1082.05L684.60,1083.31L685.41,1084.57L686.20,1085.83L686.96,1087.09L687.70,1088.35L688.40,1089.61L689.08,1090.88L689.73,1092.15L690.35,1093.42L690.94,1094.69L691.50,1095.97L692.04,1097.25L692.53,1098.53L693.00,1099.81L693.43,1101.10L693.84,1102.38L694.20,1103.68L692.24,1104.97L690.26,1106.27L688.25,1107.57L686.22,1108.87L684.16,1110.18L682.08,1111.49L679.97,1112.81L677.84,1114.13L675.68,1115.46L673.49,1116.79L671.28,1118.12L669.04,1119.46L666.77,1120.80L664.48,1122.15L662.15,1123.51L659.80,1124.87L657.41,1126.23L655.00,1127.60L652.55,1128.98L650.08,1130.37L647.56,1131.76L645.02,1133.16L642.44,1134.56L639.82,1135.98L637.17,1137.40L634.48,1138.83L631.75,1140.27L628.97,1141.72L626.16,1143.18L623.30,1144.65L620.39,1146.13L617.44,1147.62L618.39,1146.13L619.27,1144.65L620.07,1143.18L620.81,1141.72L621.47,1140.27L622.07,1138.83L622.60,1137.40L623.08,1135.98L623.49,1134.56L623.85,1133.16L624.16,1131.76L624.41,1130.37L624.62,1128.98L624.77,1127.60L624.88,1126.23L624.94,1124.87L624.96,1123.51L624.93,1122.15L624.86,1120.80L624.76,1119.46L624.61,1118.12L624.43,1116.79L624.21,1115.46L623.95,1114.13L623.66,1112.81L623.33,1111.49L622.97,1110.18L622.58,1108.87L622.16,1107.57L621.71,1106.27L621.22,1104.97L620.71,1103.68L622.47,1102.38L624.22,1101.10L625.94,1099.81L627.65,1098.53L629.35,1097.25L631.02,1095.97L632.68,1094.69L634.32,1093.42L635.94,1092.15L637.55,1090.88L639.14,1089.61L640.71,1088.35L642.27,1087.09L643.80,1085.83L645.32,1084.57L646.82,1083.31L648.31,1082.05L649.77,1080.79L651.22,1079.54L652.65,1078.29L654.06,1077.03L655.46,1075.78L656.83,1074.53L658.19,1073.28L659.53,1072.03L660.85,1070.78L662.15,1069.54L663.43,1068.29L664.69,1067.04L665.93,1065.79L667.15,1064.55Z" fill="#FEF9EA" stroke="#FEF9EA" stroke-width="0.4"/>
<path d="M620.71,1022.92L622.47,1024.22L624.22,1025.50L625.94,1026.79L627.65,1028.07L629.35,1029.35L631.02,1030.63L632.68,1031.91L634.32,1033.18L635.94,1034.45L637.55,1035.72L639.14,1036.99L640.71,1038.25L642.27,1039.51L643.80,1040.77L645.32,1042.03L646.82,1043.29L648.31,1044.55L649.77,1045.81L651.22,1047.06L652.65,1048.31L654.06,1049.57L655.46,1050.82L656.83,1052.07L658.19,1053.32L659.53,1054.57L660.85,1055.82L662.15,1057.06L663.43,1058.31L664.69,1059.56L665.93,1060.81L667.15,1062.05L668.35,1063.30L667.15,1064.55L665.93,1065.79L664.69,1067.04L663.43,1068.29L662.15,1069.54L660.85,1070.78L659.53,1072.03L658.19,1073.28L656.83,1074.53L655.46,1075.78L654.06,1077.03L652.65,1078.29L651.22,1079.54L649.77,1080.79L648.31,1082.05L646.82,1083.31L645.32,1084.57L643.80,1085.83L642.27,1087.09L640.71,1088.35L639.14,1089.61L637.55,1090.88L635.94,1092.15L634.32,1093.42L632.68,1094.69L631.02,1095.97L629.35,1097.25L627.65,1098.53L625.94,1099.81L624.22,1101.10L622.47,1102.38L620.71,1103.68L620.17,1102.38L619.60,1101.10L619.01,1099.81L618.39,1098.53L617.74,1097.25L617.06,1095.97L616.37,1094.69L615.64,1093.42L614.90,1092.15L614.13,1090.88L613.34,1089.61L612.52,1088.35L611.68,1087.09L610.83,1085.83L609.95,1084.57L609.05,1083.31L608.13,1082.05L607.19,1080.79L606.23,1079.54L605.25,1078.29L604.25,1077.03L603.24,1075.78L602.20,1074.53L601.15,1073.28L600.08,1072.03L599.00,1070.78L597.90,1069.54L596.78,1068.29L595.64,1067.04L594.49,1065.79L593.32,1064.55L592.14,1063.30L593.32,1062.05L594.49,1060.81L595.64,1059.56L596.78,1058.31L597.90,1057.06L599.00,1055.82L600.08,1054.57L601.15,1053.32L602.20,1052.07L603.24,1050.82L604.25,1049.57L605.25,1048.31L606.23,1047.06L607.19,1045.81L608.13,1044.55L609.05,1043.29L609.95,1042.03L610.83,1040.77L611.68,1039.51L612.52,1038.25L613.34,1036.99L614.13,1035.72L614.90,1034.45L615.64,1033.18L616.37,1031.91L617.06,1030.63L617.74,1029.35L618.39,1028.07L619.01,1026.79L619.60,1025.50L620.17,1024.22Z" fill="#F2CD58" stroke="#F2CD58" stroke-width="0.4"/>
<path d="M106.29,1022.92L106.83,1024.22L107.40,1025.50L107.99,1026.79L108.61,1028.07L109.26,1029.35L109.94,1030.63L110.63,1031.91L111.36,1033.18L112.10,1034.45L112.87,1035.72L113.66,1036.99L114.48,1038.25L115.32,1039.51L116.17,1040.77L117.05,1042.03L117.95,1043.29L118.87,1044.55L119.81,1045.81L120.77,1047.06L121.75,1048.31L122.75,1049.57L123.76,1050.82L124.80,1052.07L125.85,1053.32L126.92,1054.57L128.00,1055.82L129.10,1057.06L130.22,1058.31L131.36,1059.56L132.51,1060.81L133.68,1062.05L134.86,1063.30L133.68,1064.55L132.51,1065.79L131.36,1067.04L130.22,1068.29L129.10,1069.54L128.00,1070.78L126.92,1072.03L125.85,1073.28L124.80,1074.53L123.76,1075.78L122.75,1077.03L121.75,1078.29L120.77,1079.54L119.81,1080.79L118.87,1082.05L117.95,1083.31L117.05,1084.57L116.17,1085.83L115.32,1087.09L114.48,1088.35L113.66,1089.61L112.87,1090.88L112.10,1092.15L111.36,1093.42L110.63,1094.69L109.94,1095.97L109.26,1097.25L108.61,1098.53L107.99,1099.81L107.40,1101.10L106.83,1102.38L106.29,1103.68L104.53,1102.38L102.78,1101.10L101.06,1099.81L99.35,1098.53L97.65,1097.25L95.98,1095.97L94.32,1094.69L92.68,1093.42L91.06,1092.15L89.45,1090.88L87.86,1089.61L86.29,1088.35L84.73,1087.09L83.20,1085.83L81.68,1084.57L80.18,1083.31L78.69,1082.05L77.23,1080.79L75.78,1079.54L74.35,1078.29L72.94,1077.03L71.54,1075.78L70.17,1074.53L68.81,1073.28L67.47,1072.03L66.15,1070.78L64.85,1069.54L63.57,1068.29L62.31,1067.04L61.07,1065.79L59.85,1064.55L58.65,1063.30L59.85,1062.05L61.07,1060.81L62.31,1059.56L63.57,1058.31L64.85,1057.06L66.15,1055.82L67.47,1054.57L68.81,1053.32L70.17,1052.07L71.54,1050.82L72.94,1049.57L74.35,1048.31L75.78,1047.06L77.23,1045.81L78.69,1044.55L80.18,1043.29L81.68,1042.03L83.20,1040.77L84.73,1039.51L86.29,1038.25L87.86,1036.99L89.45,1035.72L91.06,1034.45L92.68,1033.18L94.32,1031.91L95.98,1030.63L97.65,1029.35L99.35,1028.07L101.06,1026.79L102.78,1025.50L104.53,1024.22Z" fill="#F2CC55" stroke="#F2CC55" stroke-width="0.4"/>
<path d="M109.56,978.98L108.61,980.47L107.73,981.95L106.93,983.42L106.19,984.88L105.53,986.33L104.93,987.77L104.40,989.20L103.92,990.62L103.51,992.04L103.15,993.44L102.84,994.84L102.59,996.23L102.38,997.62L102.23,999.00L102.12,1000.37L102.06,1001.73L102.04,1003.09L102.07,1004.45L102.14,1005.80L102.24,1007.14L102.39,1008.48L102.57,1009.81L102.79,1011.14L103.05,1012.47L103.34,1013.79L103.67,1015.11L104.03,1016.42L104.42,1017.73L104.84,1019.03L105.29,1020.33L105.78,1021.63L106.29,1022.92L104.53,1024.22L102.78,1025.50L101.06,1026.79L99.35,1028.07L97.65,1029.35L95.98,1030.63L94.32,1031.91L92.68,1033.18L91.06,1034.45L89.45,1035.72L87.86,1036.99L86.29,1038.25L84.73,1039.51L83.20,1040.77L81.68,1042.03L80.18,1043.29L78.69,1044.55L77.23,1045.81L75.78,1047.06L74.35,1048.31L72.94,1049.57L71.54,1050.82L70.17,1052.07L68.81,1053.32L67.47,1054.57L66.15,1055.82L64.85,1057.06L63.57,1058.31L62.31,1059.56L61.07,1060.81L59.85,1062.05L58.65,1063.30L57.47,1062.05L56.31,1060.81L55.17,1059.56L54.05,1058.31L52.96,1057.06L51.88,1055.82L50.83,1054.57L49.80,1053.32L48.79,1052.07L47.81,1050.82L46.84,1049.57L45.91,1048.31L44.99,1047.06L44.10,1045.81L43.24,1044.55L42.40,1043.29L41.59,1042.03L40.80,1040.77L40.04,1039.51L39.30,1038.25L38.60,1036.99L37.92,1035.72L37.27,1034.45L36.65,1033.18L36.06,1031.91L35.50,1030.63L34.96,1029.35L34.47,1028.07L34.00,1026.79L33.57,1025.50L33.16,1024.22L32.80,1022.92L34.76,1021.63L36.74,1020.33L38.75,1019.03L40.78,1017.73L42.84,1016.42L44.92,1015.11L47.03,1013.79L49.16,1012.47L51.32,1011.14L53.51,1009.81L55.72,1008.48L57.96,1007.14L60.23,1005.80L62.52,1004.45L64.85,1003.09L67.20,1001.73L69.59,1000.37L72.00,999.00L74.45,997.62L76.92,996.23L79.44,994.84L81.98,993.44L84.56,992.04L87.18,990.62L89.83,989.20L92.52,987.77L95.25,986.33L98.03,984.88L100.84,983.42L103.70,981.95L106.61,980.47Z" fill="#C9DBF3" stroke="#C9DBF3" stroke-width="0.4"/>
<path d="M617.44,978.98L620.39,980.47L623.30,981.95L626.16,983.42L628.97,984.88L631.75,986.33L634.48,987.77L637.17,989.20L639.82,990.62L642.44,992.04L645.02,993.44L647.56,994.84L650.08,996.23L652.55,997.62L655.00,999.00L657.41,1000.37L659.80,1001.73L662.15,1003.09L664.48,1004.45L666.77,1005.80L669.04,1007.14L671.28,1008.48L673.49,1009.81L675.68,1011.14L677.84,1012.47L679.97,1013.79L682.08,1015.11L684.16,1016.42L686.22,1017.73L688.25,1019.03L690.26,1020.33L692.24,1021.63L694.20,1022.92L693.84,1024.22L693.43,1025.50L693.00,1026.79L692.53,1028.07L692.04,1029.35L691.50,1030.63L690.94,1031.91L690.35,1033.18L689.73,1034.45L689.08,1035.72L688.40,1036.99L687.70,1038.25L686.96,1039.51L686.20,1040.77L685.41,1042.03L684.60,1043.29L683.76,1044.55L682.90,1045.81L682.01,1047.06L681.09,1048.31L680.16,1049.57L679.19,1050.82L678.21,1052.07L677.20,1053.32L676.17,1054.57L675.12,1055.82L674.04,1057.06L672.95,1058.31L671.83,1059.56L670.69,1060.81L669.53,1062.05L668.35,1063.30L667.15,1062.05L665.93,1060.81L664.69,1059.56L663.43,1058.31L662.15,1057.06L660.85,1055.82L659.53,1054.57L658.19,1053.32L656.83,1052.07L655.46,1050.82L654.06,1049.57L652.65,1048.31L651.22,1047.06L649.77,1045.81L648.31,1044.55L646.82,1043.29L645.32,1042.03L643.80,1040.77L642.27,1039.51L640.71,1038.25L639.14,1036.99L637.55,1035.72L635.94,1034.45L634.32,1033.18L632.68,1031.91L631.02,1030.63L629.35,1029.35L627.65,1028.07L625.94,1026.79L624.22,1025.50L622.47,1024.22L620.71,1022.92L621.22,1021.63L621.71,1020.33L622.16,1019.03L622.58,1017.73L622.97,1016.42L623.33,1015.11L623.66,1013.79L623.95,1012.47L624.21,1011.14L624.43,1009.81L624.61,1008.48L624.76,1007.14L624.86,1005.80L624.93,1004.45L624.96,1003.09L624.94,1001.73L624.88,1000.37L624.77,999.00L624.62,997.62L624.41,996.23L624.16,994.84L623.85,993.44L623.49,992.04L623.08,990.62L622.60,989.20L622.07,987.77L621.47,986.33L620.81,984.88L620.07,983.42L619.27,981.95L618.39,980.47Z" fill="#C9DBF3" stroke="#C9DBF3" stroke-width="0.4"/>
<path d="M515.92,1063.30L517.11,1064.55L518.29,1065.79L519.45,1067.04L520.60,1068.29L521.75,1069.54L522.88,1070.78L524.00,1072.03L525.10,1073.28L526.20,1074.53L527.28,1075.78L528.35,1077.03L529.41,1078.29L530.45,1079.54L531.48,1080.79L532.49,1082.05L533.49,1083.31L534.48,1084.57L535.45,1085.83L536.41,1087.09L537.34,1088.35L538.27,1089.61L539.17,1090.88L540.06,1092.15L540.93,1093.42L541.79,1094.69L542.62,1095.97L543.44,1097.25L544.24,1098.53L545.01,1099.81L545.77,1101.10L546.51,1102.38L547.22,1103.68L545.63,1104.97L544.02,1106.27L542.40,1107.57L540.77,1108.87L539.13,1110.18L537.47,1111.49L535.81,1112.81L534.14,1114.13L532.46,1115.46L530.76,1116.79L529.06,1118.12L527.34,1119.46L525.61,1120.80L523.87,1122.15L522.12,1123.51L520.36,1124.87L518.59,1126.23L516.81,1127.60L515.01,1128.98L513.20,1130.37L511.38,1131.76L509.55,1133.16L507.71,1134.56L505.85,1135.98L503.98,1137.40L502.09,1138.83L500.19,1140.27L498.28,1141.72L496.35,1143.18L494.41,1144.65L492.45,1146.13L490.47,1147.62L490.45,1146.13L490.38,1144.65L490.27,1143.18L490.11,1141.72L489.92,1140.27L489.68,1138.83L489.41,1137.40L489.10,1135.98L488.76,1134.56L488.38,1133.16L487.98,1131.76L487.54,1130.37L487.07,1128.98L486.58,1127.60L486.05,1126.23L485.50,1124.87L484.93,1123.51L484.33,1122.15L483.71,1120.80L483.06,1119.46L482.39,1118.12L481.70,1116.79L480.99,1115.46L480.25,1114.13L479.50,1112.81L478.73,1111.49L477.94,1110.18L477.13,1108.87L476.31,1107.57L475.47,1106.27L474.61,1104.97L473.73,1103.68L475.15,1102.38L476.55,1101.10L477.96,1099.81L479.36,1098.53L480.75,1097.25L482.14,1095.97L483.52,1094.69L484.90,1093.42L486.28,1092.15L487.64,1090.88L489.00,1089.61L490.36,1088.35L491.71,1087.09L493.05,1085.83L494.39,1084.57L495.72,1083.31L497.04,1082.05L498.36,1080.79L499.66,1079.54L500.97,1078.29L502.26,1077.03L503.54,1075.78L504.82,1074.53L506.09,1073.28L507.35,1072.03L508.60,1070.78L509.85,1069.54L511.08,1068.29L512.31,1067.04L513.52,1065.79L514.73,1064.55Z" fill="#4A7CD8" stroke="#4A7CD8" stroke-width="0.4"/>
<path d="M473.73,1022.92L475.15,1024.22L476.55,1025.50L477.96,1026.79L479.36,1028.07L480.75,1029.35L482.14,1030.63L483.52,1031.91L484.90,1033.18L486.28,1034.45L487.64,1035.72L489.00,1036.99L490.36,1038.25L491.71,1039.51L493.05,1040.77L494.39,1042.03L495.72,1043.29L497.04,1044.55L498.36,1045.81L499.66,1047.06L500.97,1048.31L502.26,1049.57L503.54,1050.82L504.82,1052.07L506.09,1053.32L507.35,1054.57L508.60,1055.82L509.85,1057.06L511.08,1058.31L512.31,1059.56L513.52,1060.81L514.73,1062.05L515.92,1063.30L514.73,1064.55L513.52,1065.79L512.31,1067.04L511.08,1068.29L509.85,1069.54L508.60,1070.78L507.35,1072.03L506.09,1073.28L504.82,1074.53L503.54,1075.78L502.26,1077.03L500.97,1078.29L499.66,1079.54L498.36,1080.79L497.04,1082.05L495.72,1083.31L494.39,1084.57L493.05,1085.83L491.71,1087.09L490.36,1088.35L489.00,1089.61L487.64,1090.88L486.28,1092.15L484.90,1093.42L483.52,1094.69L482.14,1095.97L480.75,1097.25L479.36,1098.53L477.96,1099.81L476.55,1101.10L475.15,1102.38L473.73,1103.68L472.84,1102.38L471.94,1101.10L471.02,1099.81L470.09,1098.53L469.14,1097.25L468.18,1095.97L467.21,1094.69L466.23,1093.42L465.23,1092.15L464.22,1090.88L463.20,1089.61L462.17,1088.35L461.13,1087.09L460.07,1085.83L459.01,1084.57L457.94,1083.31L456.86,1082.05L455.77,1080.79L454.67,1079.54L453.56,1078.29L452.45,1077.03L451.32,1075.78L450.19,1074.53L449.05,1073.28L447.91,1072.03L446.76,1070.78L445.60,1069.54L444.43,1068.29L443.26,1067.04L442.08,1065.79L440.90,1064.55L439.71,1063.30L440.90,1062.05L442.08,1060.81L443.26,1059.56L444.43,1058.31L445.60,1057.06L446.76,1055.82L447.91,1054.57L449.05,1053.32L450.19,1052.07L451.32,1050.82L452.45,1049.57L453.56,1048.31L454.67,1047.06L455.77,1045.81L456.86,1044.55L457.94,1043.29L459.01,1042.03L460.07,1040.77L461.13,1039.51L462.17,1038.25L463.20,1036.99L464.22,1035.72L465.23,1034.45L466.23,1033.18L467.21,1031.91L468.18,1030.63L469.14,1029.35L470.09,1028.07L471.02,1026.79L471.94,1025.50L472.84,1024.22Z" fill="#F8E4A4" stroke="#F8E4A4" stroke-width="0.4"/>
<path d="M547.22,1022.92L548.81,1024.22L550.39,1025.50L551.95,1026.79L553.51,1028.07L555.05,1029.35L556.58,1030.63L558.10,1031.91L559.61,1033.18L561.11,1034.45L562.60,1035.72L564.07,1036.99L565.54,1038.25L566.99,1039.51L568.43,1040.77L569.85,1042.03L571.27,1043.29L572.67,1044.55L574.06,1045.81L575.44,1047.06L576.81,1048.31L578.16,1049.57L579.50,1050.82L580.83,1052.07L582.14,1053.32L583.44,1054.57L584.73,1055.82L586.00,1057.06L587.25,1058.31L588.50,1059.56L589.73,1060.81L590.94,1062.05L592.14,1063.30L590.94,1064.55L589.73,1065.79L588.50,1067.04L587.25,1068.29L586.00,1069.54L584.73,1070.78L583.44,1072.03L582.14,1073.28L580.83,1074.53L579.50,1075.78L578.16,1077.03L576.81,1078.29L575.44,1079.54L574.06,1080.79L572.67,1082.05L571.27,1083.31L569.85,1084.57L568.43,1085.83L566.99,1087.09L565.54,1088.35L564.07,1089.61L562.60,1090.88L561.11,1092.15L559.61,1093.42L558.10,1094.69L556.58,1095.97L555.05,1097.25L553.51,1098.53L551.95,1099.81L550.39,1101.10L548.81,1102.38L547.22,1103.68L546.51,1102.38L545.77,1101.10L545.01,1099.81L544.24,1098.53L543.44,1097.25L542.62,1095.97L541.79,1094.69L540.93,1093.42L540.06,1092.15L539.17,1090.88L538.27,1089.61L537.34,1088.35L536.41,1087.09L535.45,1085.83L534.48,1084.57L533.49,1083.31L532.49,1082.05L531.48,1080.79L530.45,1079.54L529.41,1078.29L528.35,1077.03L527.28,1075.78L526.20,1074.53L525.10,1073.28L524.00,1072.03L522.88,1070.78L521.75,1069.54L520.60,1068.29L519.45,1067.04L518.29,1065.79L517.11,1064.55L515.92,1063.30L517.11,1062.05L518.29,1060.81L519.45,1059.56L520.60,1058.31L521.75,1057.06L522.88,1055.82L524.00,1054.57L525.10,1053.32L526.20,1052.07L527.28,1050.82L528.35,1049.57L529.41,1048.31L530.45,1047.06L531.48,1045.81L532.49,1044.55L533.49,1043.29L534.48,1042.03L535.45,1040.77L536.41,1039.51L537.34,1038.25L538.27,1036.99L539.17,1035.72L540.06,1034.45L540.93,1033.18L541.79,1031.91L542.62,1030.63L543.44,1029.35L544.24,1028.07L545.01,1026.79L545.77,1025.50L546.51,1024.22Z" fill="#FCF2D6" stroke="#FCF2D6" stroke-width="0.4"/>
<path d="M490.47,978.98L492.45,980.47L494.41,981.95L496.35,983.42L498.28,984.88L500.19,986.33L502.09,987.77L503.98,989.20L505.85,990.62L507.71,992.04L509.55,993.44L511.38,994.84L513.20,996.23L515.01,997.62L516.81,999.00L518.59,1000.37L520.36,1001.73L522.12,1003.09L523.87,1004.45L525.61,1005.80L527.34,1007.14L529.06,1008.48L530.76,1009.81L532.46,1011.14L534.14,1012.47L535.81,1013.79L537.47,1015.11L539.13,1016.42L540.77,1017.73L542.40,1019.03L544.02,1020.33L545.63,1021.63L547.22,1022.92L546.51,1024.22L545.77,1025.50L545.01,1026.79L544.24,1028.07L543.44,1029.35L542.62,1030.63L541.79,1031.91L540.93,1033.18L540.06,1034.45L539.17,1035.72L538.27,1036.99L537.34,1038.25L536.41,1039.51L535.45,1040.77L534.48,1042.03L533.49,1043.29L532.49,1044.55L531.48,1045.81L530.45,1047.06L529.41,1048.31L528.35,1049.57L527.28,1050.82L526.20,1052.07L525.10,1053.32L524.00,1054.57L522.88,1055.82L521.75,1057.06L520.60,1058.31L519.45,1059.56L518.29,1060.81L517.11,1062.05L515.92,1063.30L514.73,1062.05L513.52,1060.81L512.31,1059.56L511.08,1058.31L509.85,1057.06L508.60,1055.82L507.35,1054.57L506.09,1053.32L504.82,1052.07L503.54,1050.82L502.26,1049.57L500.97,1048.31L499.66,1047.06L498.36,1045.81L497.04,1044.55L495.72,1043.29L494.39,1042.03L493.05,1040.77L491.71,1039.51L490.36,1038.25L489.00,1036.99L487.64,1035.72L486.28,1034.45L484.90,1033.18L483.52,1031.91L482.14,1030.63L480.75,1029.35L479.36,1028.07L477.96,1026.79L476.55,1025.50L475.15,1024.22L473.73,1022.92L474.61,1021.63L475.47,1020.33L476.31,1019.03L477.13,1017.73L477.94,1016.42L478.73,1015.11L479.50,1013.79L480.25,1012.47L480.99,1011.14L481.70,1009.81L482.39,1008.48L483.06,1007.14L483.71,1005.80L484.33,1004.45L484.93,1003.09L485.50,1001.73L486.05,1000.37L486.58,999.00L487.07,997.62L487.54,996.23L487.98,994.84L488.38,993.44L488.76,992.04L489.10,990.62L489.41,989.20L489.68,987.77L489.92,986.33L490.11,984.88L490.27,983.42L490.38,981.95L490.45,980.47Z" fill="#FFFCF3" stroke="#FFFCF3" stroke-width="0.4"/>
<path d="M300.02,1147.62L301.52,1149.11L303.04,1150.59L304.59,1152.06L306.17,1153.52L307.77,1154.96L309.40,1156.39L311.06,1157.81L312.74,1159.22L314.45,1160.62L316.19,1162.01L317.95,1163.38L319.75,1164.75L321.58,1166.10L323.44,1167.44L325.33,1168.77L327.25,1170.08L329.21,1171.39L331.20,1172.68L333.22,1173.96L335.29,1175.23L337.39,1176.49L339.53,1177.73L341.71,1178.97L343.94,1180.19L346.21,1181.40L348.52,1182.59L350.88,1183.77L353.30,1184.95L355.76,1186.10L358.28,1187.25L360.86,1188.38L363.50,1189.50L363.50,1190.60L363.50,1191.70L363.50,1192.77L363.50,1193.84L363.50,1194.89L363.50,1195.92L363.50,1196.94L363.50,1197.95L363.50,1198.94L363.50,1199.91L363.50,1200.87L363.50,1201.82L363.50,1202.74L363.50,1203.65L363.50,1204.54L363.50,1205.41L363.50,1206.27L363.50,1207.10L363.50,1207.91L363.50,1208.71L363.50,1209.48L363.50,1210.22L363.50,1210.94L363.50,1211.64L363.50,1212.30L363.50,1212.93L363.50,1213.53L363.50,1214.09L363.50,1214.60L363.50,1215.06L363.50,1215.45L363.50,1215.70L354.71,1215.45L349.56,1215.06L345.24,1214.60L341.40,1214.09L337.87,1213.53L334.58,1212.93L331.48,1212.30L328.53,1211.64L325.71,1210.94L323.00,1210.22L320.38,1209.48L317.86,1208.71L315.41,1207.91L313.03,1207.10L310.71,1206.27L308.45,1205.41L306.25,1204.54L304.10,1203.65L302.00,1202.74L299.94,1201.82L297.92,1200.87L295.95,1199.91L294.01,1198.94L292.11,1197.95L290.24,1196.94L288.41,1195.92L286.61,1194.89L284.84,1193.84L283.10,1192.77L281.39,1191.70L279.70,1190.60L278.05,1189.50L279.06,1188.38L280.03,1187.25L280.97,1186.10L281.88,1184.95L282.76,1183.77L283.62,1182.59L284.45,1181.40L285.25,1180.19L286.04,1178.97L286.80,1177.73L287.54,1176.49L288.27,1175.23L288.98,1173.96L289.67,1172.68L290.34,1171.39L291.00,1170.08L291.64,1168.77L292.28,1167.44L292.90,1166.10L293.50,1164.75L294.10,1163.38L294.68,1162.01L295.25,1160.62L295.82,1159.22L296.37,1157.81L296.92,1156.39L297.45,1154.96L297.98,1153.52L298.50,1152.06L299.01,1150.59L299.52,1149.11Z" fill="#97B9EA" stroke="#97B9EA" stroke-width="0.4"/>
<path d="M253.27,1103.68L254.68,1104.97L256.10,1106.27L257.53,1107.57L258.96,1108.87L260.39,1110.18L261.83,1111.49L263.27,1112.81L264.71,1114.13L266.15,1115.46L267.60,1116.79L269.06,1118.12L270.51,1119.46L271.97,1120.80L273.43,1122.15L274.89,1123.51L276.35,1124.87L277.82,1126.23L279.29,1127.60L280.76,1128.98L282.23,1130.37L283.71,1131.76L285.18,1133.16L286.66,1134.56L288.14,1135.98L289.62,1137.40L291.10,1138.83L292.58,1140.27L294.07,1141.72L295.55,1143.18L297.04,1144.65L298.53,1146.13L300.02,1147.62L299.52,1149.11L299.01,1150.59L298.50,1152.06L297.98,1153.52L297.45,1154.96L296.92,1156.39L296.37,1157.81L295.82,1159.22L295.25,1160.62L294.68,1162.01L294.10,1163.38L293.50,1164.75L292.90,1166.10L292.28,1167.44L291.64,1168.77L291.00,1170.08L290.34,1171.39L289.67,1172.68L288.98,1173.96L288.27,1175.23L287.54,1176.49L286.80,1177.73L286.04,1178.97L285.25,1180.19L284.45,1181.40L283.62,1182.59L282.76,1183.77L281.88,1184.95L280.97,1186.10L280.03,1187.25L279.06,1188.38L278.05,1189.50L276.42,1188.38L274.81,1187.25L273.23,1186.10L271.68,1184.95L270.15,1183.77L268.64,1182.59L267.16,1181.40L265.69,1180.19L264.25,1178.97L262.83,1177.73L261.43,1176.49L260.06,1175.23L258.70,1173.96L257.36,1172.68L256.05,1171.39L254.75,1170.08L253.47,1168.77L252.21,1167.44L250.97,1166.10L249.75,1164.75L248.55,1163.38L247.37,1162.01L246.20,1160.62L245.06,1159.22L243.93,1157.81L242.82,1156.39L241.73,1154.96L240.65,1153.52L239.59,1152.06L238.56,1150.59L237.54,1149.11L236.53,1147.62L236.55,1146.13L236.62,1144.65L236.73,1143.18L236.89,1141.72L237.08,1140.27L237.32,1138.83L237.59,1137.40L237.90,1135.98L238.24,1134.56L238.62,1133.16L239.02,1131.76L239.46,1130.37L239.93,1128.98L240.42,1127.60L240.95,1126.23L241.50,1124.87L242.07,1123.51L242.67,1122.15L243.29,1120.80L243.94,1119.46L244.61,1118.12L245.30,1116.79L246.01,1115.46L246.75,1114.13L247.50,1112.81L248.27,1111.49L249.06,1110.18L249.87,1108.87L250.69,1107.57L251.53,1106.27L252.39,1104.97Z" fill="#F8FAFE" stroke="#F8FAFE" stroke-width="0.4"/>
<path d="M326.76,1103.68L327.99,1104.97L329.22,1106.27L330.46,1107.57L331.68,1108.87L332.91,1110.18L334.13,1111.49L335.34,1112.81L336.56,1114.13L337.77,1115.46L338.97,1116.79L340.17,1118.12L341.36,1119.46L342.55,1120.80L343.73,1122.15L344.90,1123.51L346.07,1124.87L347.23,1126.23L348.39,1127.60L349.53,1128.98L350.67,1130.37L351.80,1131.76L352.92,1133.16L354.03,1134.56L355.13,1135.98L356.22,1137.40L357.29,1138.83L358.36,1140.27L359.42,1141.72L360.46,1143.18L361.49,1144.65L362.50,1146.13L363.50,1147.62L363.50,1149.11L363.50,1150.59L363.50,1152.06L363.50,1153.52L363.50,1154.96L363.50,1156.39L363.50,1157.81L363.50,1159.22L363.50,1160.62L363.50,1162.01L363.50,1163.38L363.50,1164.75L363.50,1166.10L363.50,1167.44L363.50,1168.77L363.50,1170.08L363.50,1171.39L363.50,1172.68L363.50,1173.96L363.50,1175.23L363.50,1176.49L363.50,1177.73L363.50,1178.97L363.50,1180.19L363.50,1181.40L363.50,1182.59L363.50,1183.77L363.50,1184.95L363.50,1186.10L363.50,1187.25L363.50,1188.38L363.50,1189.50L360.86,1188.38L358.28,1187.25L355.76,1186.10L353.30,1184.95L350.88,1183.77L348.52,1182.59L346.21,1181.40L343.94,1180.19L341.71,1178.97L339.53,1177.73L337.39,1176.49L335.29,1175.23L333.22,1173.96L331.20,1172.68L329.21,1171.39L327.25,1170.08L325.33,1168.77L323.44,1167.44L321.58,1166.10L319.75,1164.75L317.95,1163.38L316.19,1162.01L314.45,1160.62L312.74,1159.22L311.06,1157.81L309.40,1156.39L307.77,1154.96L306.17,1153.52L304.59,1152.06L303.04,1150.59L301.52,1149.11L300.02,1147.62L300.53,1146.13L301.07,1144.65L301.64,1143.18L302.24,1141.72L302.86,1140.27L303.51,1138.83L304.19,1137.40L304.89,1135.98L305.61,1134.56L306.35,1133.16L307.11,1131.76L307.90,1130.37L308.70,1128.98L309.52,1127.60L310.36,1126.23L311.21,1124.87L312.08,1123.51L312.97,1122.15L313.87,1120.80L314.79,1119.46L315.72,1118.12L316.67,1116.79L317.62,1115.46L318.59,1114.13L319.58,1112.81L320.57,1111.49L321.58,1110.18L322.59,1108.87L323.62,1107.57L324.65,1106.27L325.70,1104.97Z" fill="#A0C0EC" stroke="#A0C0EC" stroke-width="0.4"/>
<path d="M287.29,1063.30L288.48,1064.55L289.68,1065.79L290.88,1067.04L292.09,1068.29L293.30,1069.54L294.52,1070.78L295.73,1072.03L296.96,1073.28L298.18,1074.53L299.41,1075.78L300.64,1077.03L301.88,1078.29L303.11,1079.54L304.35,1080.79L305.59,1082.05L306.84,1083.31L308.08,1084.57L309.32,1085.83L310.57,1087.09L311.82,1088.35L313.06,1089.61L314.31,1090.88L315.56,1092.15L316.81,1093.42L318.05,1094.69L319.30,1095.97L320.55,1097.25L321.79,1098.53L323.03,1099.81L324.28,1101.10L325.52,1102.38L326.76,1103.68L325.70,1104.97L324.65,1106.27L323.62,1107.57L322.59,1108.87L321.58,1110.18L320.57,1111.49L319.58,1112.81L318.59,1114.13L317.62,1115.46L316.67,1116.79L315.72,1118.12L314.79,1119.46L313.87,1120.80L312.97,1122.15L312.08,1123.51L311.21,1124.87L310.36,1126.23L309.52,1127.60L308.70,1128.98L307.90,1130.37L307.11,1131.76L306.35,1133.16L305.61,1134.56L304.89,1135.98L304.19,1137.40L303.51,1138.83L302.86,1140.27L302.24,1141.72L301.64,1143.18L301.07,1144.65L300.53,1146.13L300.02,1147.62L298.53,1146.13L297.04,1144.65L295.55,1143.18L294.07,1141.72L292.58,1140.27L291.10,1138.83L289.62,1137.40L288.14,1135.98L286.66,1134.56L285.18,1133.16L283.71,1131.76L282.23,1130.37L280.76,1128.98L279.29,1127.60L277.82,1126.23L276.35,1124.87L274.89,1123.51L273.43,1122.15L271.97,1120.80L270.51,1119.46L269.06,1118.12L267.60,1116.79L266.15,1115.46L264.71,1114.13L263.27,1112.81L261.83,1111.49L260.39,1110.18L258.96,1108.87L257.53,1107.57L256.10,1106.27L254.68,1104.97L253.27,1103.68L254.16,1102.38L255.06,1101.10L255.98,1099.81L256.91,1098.53L257.86,1097.25L258.82,1095.97L259.79,1094.69L260.77,1093.42L261.77,1092.15L262.78,1090.88L263.80,1089.61L264.83,1088.35L265.87,1087.09L266.93,1085.83L267.99,1084.57L269.06,1083.31L270.14,1082.05L271.23,1080.79L272.33,1079.54L273.44,1078.29L274.55,1077.03L275.68,1075.78L276.81,1074.53L277.95,1073.28L279.09,1072.03L280.24,1070.78L281.40,1069.54L282.57,1068.29L283.74,1067.04L284.92,1065.79L286.10,1064.55Z" fill="#D9E6F7" stroke="#D9E6F7" stroke-width="0.4"/>
<path d="M173.05,1147.62L175.55,1149.11L178.10,1150.59L180.69,1152.06L183.32,1153.52L186.00,1154.96L188.72,1156.39L191.48,1157.81L194.30,1159.22L197.15,1160.62L200.05,1162.01L203.01,1163.38L206.00,1164.75L209.05,1166.10L212.15,1167.44L215.30,1168.77L218.50,1170.08L221.75,1171.39L225.06,1172.68L228.42,1173.96L231.84,1175.23L235.32,1176.49L238.86,1177.73L242.47,1178.97L246.13,1180.19L249.86,1181.40L253.66,1182.59L257.53,1183.77L261.48,1184.95L265.50,1186.10L269.60,1187.25L273.78,1188.38L278.05,1189.50L279.70,1190.60L281.39,1191.70L283.10,1192.77L284.84,1193.84L286.61,1194.89L288.41,1195.92L290.24,1196.94L292.11,1197.95L294.01,1198.94L295.95,1199.91L297.92,1200.87L299.94,1201.82L302.00,1202.74L304.10,1203.65L306.25,1204.54L308.45,1205.41L310.71,1206.27L313.03,1207.10L315.41,1207.91L317.86,1208.71L320.38,1209.48L323.00,1210.22L325.71,1210.94L328.53,1211.64L331.48,1212.30L334.58,1212.93L337.87,1213.53L341.40,1214.09L345.24,1214.60L349.56,1215.06L354.71,1215.45L363.50,1215.70L345.93,1215.45L335.62,1215.06L326.99,1214.60L319.30,1214.09L312.25,1213.53L305.67,1212.93L299.46,1212.30L293.56,1211.64L287.92,1210.94L282.50,1210.22L277.27,1209.48L272.21,1208.71L267.31,1207.91L262.55,1207.10L257.92,1206.27L253.40,1205.41L249.00,1204.54L244.70,1203.65L240.49,1202.74L236.37,1201.82L232.34,1200.87L228.39,1199.91L224.52,1198.94L220.71,1197.95L216.98,1196.94L213.32,1195.92L209.71,1194.89L206.18,1193.84L202.70,1192.77L199.27,1191.70L195.91,1190.60L192.60,1189.50L191.97,1188.38L191.34,1187.25L190.71,1186.10L190.06,1184.95L189.41,1183.77L188.76,1182.59L188.10,1181.40L187.45,1180.19L186.79,1178.97L186.13,1177.73L185.48,1176.49L184.82,1175.23L184.17,1173.96L183.53,1172.68L182.89,1171.39L182.25,1170.08L181.62,1168.77L180.99,1167.44L180.37,1166.10L179.75,1164.75L179.15,1163.38L178.55,1162.01L177.96,1160.62L177.37,1159.22L176.80,1157.81L176.23,1156.39L175.68,1154.96L175.13,1153.52L174.60,1152.06L174.07,1150.59L173.55,1149.11Z" fill="#96B8E9" stroke="#96B8E9" stroke-width="0.4"/>
<path d="M106.29,1103.68L108.07,1104.97L109.86,1106.27L111.68,1107.57L113.51,1108.87L115.36,1110.18L117.22,1111.49L119.11,1112.81L121.01,1114.13L122.93,1115.46L124.87,1116.79L126.83,1118.12L128.81,1119.46L130.81,1120.80L132.83,1122.15L134.86,1123.51L136.92,1124.87L139.00,1126.23L141.10,1127.60L143.22,1128.98L145.36,1130.37L147.53,1131.76L149.71,1133.16L151.93,1134.56L154.16,1135.98L156.43,1137.40L158.71,1138.83L161.03,1140.27L163.37,1141.72L165.75,1143.18L168.15,1144.65L170.58,1146.13L173.05,1147.62L173.55,1149.11L174.07,1150.59L174.60,1152.06L175.13,1153.52L175.68,1154.96L176.23,1156.39L176.80,1157.81L177.37,1159.22L177.96,1160.62L178.55,1162.01L179.15,1163.38L179.75,1164.75L180.37,1166.10L180.99,1167.44L181.62,1168.77L182.25,1170.08L182.89,1171.39L183.53,1172.68L184.17,1173.96L184.82,1175.23L185.48,1176.49L186.13,1177.73L186.79,1178.97L187.45,1180.19L188.10,1181.40L188.76,1182.59L189.41,1183.77L190.06,1184.95L190.71,1186.10L191.34,1187.25L191.97,1188.38L192.60,1189.50L189.34,1188.38L186.13,1187.25L182.97,1186.10L179.86,1184.95L176.80,1183.77L173.78,1182.59L170.81,1181.40L167.89,1180.19L165.00,1178.97L162.16,1177.73L159.37,1176.49L156.61,1175.23L153.90,1173.96L151.23,1172.68L148.59,1171.39L146.00,1170.08L143.44,1168.77L140.93,1167.44L138.45,1166.10L136.01,1164.75L133.60,1163.38L131.24,1162.01L128.91,1160.62L126.61,1159.22L124.36,1157.81L122.14,1156.39L119.95,1154.96L117.80,1153.52L115.69,1152.06L113.61,1150.59L111.57,1149.11L109.56,1147.62L108.61,1146.13L107.73,1144.65L106.93,1143.18L106.19,1141.72L105.53,1140.27L104.93,1138.83L104.40,1137.40L103.92,1135.98L103.51,1134.56L103.15,1133.16L102.84,1131.76L102.59,1130.37L102.38,1128.98L102.23,1127.60L102.12,1126.23L102.06,1124.87L102.04,1123.51L102.07,1122.15L102.14,1120.80L102.24,1119.46L102.39,1118.12L102.57,1116.79L102.79,1115.46L103.05,1114.13L103.34,1112.81L103.67,1111.49L104.03,1110.18L104.42,1108.87L104.84,1107.57L105.29,1106.27L105.78,1104.97Z" fill="#94B6E9" stroke="#94B6E9" stroke-width="0.4"/>
<path d="M179.78,1103.68L181.37,1104.97L182.98,1106.27L184.60,1107.57L186.23,1108.87L187.87,1110.18L189.53,1111.49L191.19,1112.81L192.86,1114.13L194.54,1115.46L196.24,1116.79L197.94,1118.12L199.66,1119.46L201.39,1120.80L203.13,1122.15L204.88,1123.51L206.64,1124.87L208.41,1126.23L210.19,1127.60L211.99,1128.98L213.80,1130.37L215.62,1131.76L217.45,1133.16L219.29,1134.56L221.15,1135.98L223.02,1137.40L224.91,1138.83L226.81,1140.27L228.72,1141.72L230.65,1143.18L232.59,1144.65L234.55,1146.13L236.53,1147.62L237.54,1149.11L238.56,1150.59L239.59,1152.06L240.65,1153.52L241.73,1154.96L242.82,1156.39L243.93,1157.81L245.06,1159.22L246.20,1160.62L247.37,1162.01L248.55,1163.38L249.75,1164.75L250.97,1166.10L252.21,1167.44L253.47,1168.77L254.75,1170.08L256.05,1171.39L257.36,1172.68L258.70,1173.96L260.06,1175.23L261.43,1176.49L262.83,1177.73L264.25,1178.97L265.69,1180.19L267.16,1181.40L268.64,1182.59L270.15,1183.77L271.68,1184.95L273.23,1186.10L274.81,1187.25L276.42,1188.38L278.05,1189.50L273.78,1188.38L269.60,1187.25L265.50,1186.10L261.48,1184.95L257.53,1183.77L253.66,1182.59L249.86,1181.40L246.13,1180.19L242.47,1178.97L238.86,1177.73L235.32,1176.49L231.84,1175.23L228.42,1173.96L225.06,1172.68L221.75,1171.39L218.50,1170.08L215.30,1168.77L212.15,1167.44L209.05,1166.10L206.00,1164.75L203.01,1163.38L200.05,1162.01L197.15,1160.62L194.30,1159.22L191.48,1157.81L188.72,1156.39L186.00,1154.96L183.32,1153.52L180.69,1152.06L178.10,1150.59L175.55,1149.11L173.05,1147.62L172.58,1146.13L172.18,1144.65L171.83,1143.18L171.54,1141.72L171.31,1140.27L171.13,1138.83L170.99,1137.40L170.91,1135.98L170.87,1134.56L170.88,1133.16L170.93,1131.76L171.02,1130.37L171.16,1128.98L171.33,1127.60L171.53,1126.23L171.78,1124.87L172.06,1123.51L172.37,1122.15L172.71,1120.80L173.09,1119.46L173.50,1118.12L173.94,1116.79L174.40,1115.46L174.90,1114.13L175.42,1112.81L175.97,1111.49L176.54,1110.18L177.14,1108.87L177.77,1107.57L178.41,1106.27L179.08,1104.97Z" fill="#FCF3D9" stroke="#FCF3D9" stroke-width="0.4"/>
<path d="M134.86,1063.30L136.06,1064.55L137.27,1065.79L138.50,1067.04L139.75,1068.29L141.00,1069.54L142.27,1070.78L143.56,1072.03L144.86,1073.28L146.17,1074.53L147.50,1075.78L148.84,1077.03L150.19,1078.29L151.56,1079.54L152.94,1080.79L154.33,1082.05L155.73,1083.31L157.15,1084.57L158.57,1085.83L160.01,1087.09L161.46,1088.35L162.93,1089.61L164.40,1090.88L165.89,1092.15L167.39,1093.42L168.90,1094.69L170.42,1095.97L171.95,1097.25L173.49,1098.53L175.05,1099.81L176.61,1101.10L178.19,1102.38L179.78,1103.68L179.08,1104.97L178.41,1106.27L177.77,1107.57L177.14,1108.87L176.54,1110.18L175.97,1111.49L175.42,1112.81L174.90,1114.13L174.40,1115.46L173.94,1116.79L173.50,1118.12L173.09,1119.46L172.71,1120.80L172.37,1122.15L172.06,1123.51L171.78,1124.87L171.53,1126.23L171.33,1127.60L171.16,1128.98L171.02,1130.37L170.93,1131.76L170.88,1133.16L170.87,1134.56L170.91,1135.98L170.99,1137.40L171.13,1138.83L171.31,1140.27L171.54,1141.72L171.83,1143.18L172.18,1144.65L172.58,1146.13L173.05,1147.62L170.58,1146.13L168.15,1144.65L165.75,1143.18L163.37,1141.72L161.03,1140.27L158.71,1138.83L156.43,1137.40L154.16,1135.98L151.93,1134.56L149.71,1133.16L147.53,1131.76L145.36,1130.37L143.22,1128.98L141.10,1127.60L139.00,1126.23L136.92,1124.87L134.86,1123.51L132.83,1122.15L130.81,1120.80L128.81,1119.46L126.83,1118.12L124.87,1116.79L122.93,1115.46L121.01,1114.13L119.11,1112.81L117.22,1111.49L115.36,1110.18L113.51,1108.87L111.68,1107.57L109.86,1106.27L108.07,1104.97L106.29,1103.68L106.83,1102.38L107.40,1101.10L107.99,1099.81L108.61,1098.53L109.26,1097.25L109.94,1095.97L110.63,1094.69L111.36,1093.42L112.10,1092.15L112.87,1090.88L113.66,1089.61L114.48,1088.35L115.32,1087.09L116.17,1085.83L117.05,1084.57L117.95,1083.31L118.87,1082.05L119.81,1080.79L120.77,1079.54L121.75,1078.29L122.75,1077.03L123.76,1075.78L124.80,1074.53L125.85,1073.28L126.92,1072.03L128.00,1070.78L129.10,1069.54L130.22,1068.29L131.36,1067.04L132.51,1065.79L133.68,1064.55Z" fill="#C2D6F3" stroke="#C2D6F3" stroke-width="0.4"/>
<path d="M553.95,1147.62L553.45,1149.11L552.93,1150.59L552.40,1152.06L551.87,1153.52L551.32,1154.96L550.77,1156.39L550.20,1157.81L549.63,1159.22L549.04,1160.62L548.45,1162.01L547.85,1163.38L547.25,1164.75L546.63,1166.10L546.01,1167.44L545.38,1168.77L544.75,1170.08L544.11,1171.39L543.47,1172.68L542.83,1173.96L542.18,1175.23L541.52,1176.49L540.87,1177.73L540.21,1178.97L539.55,1180.19L538.90,1181.40L538.24,1182.59L537.59,1183.77L536.94,1184.95L536.29,1186.10L535.66,1187.25L535.03,1188.38L534.40,1189.50L531.09,1190.60L527.73,1191.70L524.30,1192.77L520.82,1193.84L517.29,1194.89L513.68,1195.92L510.02,1196.94L506.29,1197.95L502.48,1198.94L498.61,1199.91L494.66,1200.87L490.63,1201.82L486.51,1202.74L482.30,1203.65L478.00,1204.54L473.60,1205.41L469.08,1206.27L464.45,1207.10L459.69,1207.91L454.79,1208.71L449.73,1209.48L444.50,1210.22L439.08,1210.94L433.44,1211.64L427.54,1212.30L421.33,1212.93L414.75,1213.53L407.70,1214.09L400.01,1214.60L391.38,1215.06L381.07,1215.45L363.50,1215.70L372.29,1215.45L377.44,1215.06L381.76,1214.60L385.60,1214.09L389.13,1213.53L392.42,1212.93L395.52,1212.30L398.47,1211.64L401.29,1210.94L404.00,1210.22L406.62,1209.48L409.14,1208.71L411.59,1207.91L413.97,1207.10L416.29,1206.27L418.55,1205.41L420.75,1204.54L422.90,1203.65L425.00,1202.74L427.06,1201.82L429.08,1200.87L431.05,1199.91L432.99,1198.94L434.89,1197.95L436.76,1196.94L438.59,1195.92L440.39,1194.89L442.16,1193.84L443.90,1192.77L445.61,1191.70L447.30,1190.60L448.95,1189.50L453.22,1188.38L457.40,1187.25L461.50,1186.10L465.52,1184.95L469.47,1183.77L473.34,1182.59L477.14,1181.40L480.87,1180.19L484.53,1178.97L488.14,1177.73L491.68,1176.49L495.16,1175.23L498.58,1173.96L501.94,1172.68L505.25,1171.39L508.50,1170.08L511.70,1168.77L514.85,1167.44L517.95,1166.10L521.00,1164.75L523.99,1163.38L526.95,1162.01L529.85,1160.62L532.70,1159.22L535.52,1157.81L538.28,1156.39L541.00,1154.96L543.68,1153.52L546.31,1152.06L548.90,1150.59L551.45,1149.11Z" fill="#E6EEF9" stroke="#E6EEF9" stroke-width="0.4"/>
<path d="M547.22,1103.68L547.92,1104.97L548.59,1106.27L549.23,1107.57L549.86,1108.87L550.46,1110.18L551.03,1111.49L551.58,1112.81L552.10,1114.13L552.60,1115.46L553.06,1116.79L553.50,1118.12L553.91,1119.46L554.29,1120.80L554.63,1122.15L554.94,1123.51L555.22,1124.87L555.47,1126.23L555.67,1127.60L555.84,1128.98L555.98,1130.37L556.07,1131.76L556.12,1133.16L556.13,1134.56L556.09,1135.98L556.01,1137.40L555.87,1138.83L555.69,1140.27L555.46,1141.72L555.17,1143.18L554.82,1144.65L554.42,1146.13L553.95,1147.62L551.45,1149.11L548.90,1150.59L546.31,1152.06L543.68,1153.52L541.00,1154.96L538.28,1156.39L535.52,1157.81L532.70,1159.22L529.85,1160.62L526.95,1162.01L523.99,1163.38L521.00,1164.75L517.95,1166.10L514.85,1167.44L511.70,1168.77L508.50,1170.08L505.25,1171.39L501.94,1172.68L498.58,1173.96L495.16,1175.23L491.68,1176.49L488.14,1177.73L484.53,1178.97L480.87,1180.19L477.14,1181.40L473.34,1182.59L469.47,1183.77L465.52,1184.95L461.50,1186.10L457.40,1187.25L453.22,1188.38L448.95,1189.50L450.58,1188.38L452.19,1187.25L453.77,1186.10L455.32,1184.95L456.85,1183.77L458.36,1182.59L459.84,1181.40L461.31,1180.19L462.75,1178.97L464.17,1177.73L465.57,1176.49L466.94,1175.23L468.30,1173.96L469.64,1172.68L470.95,1171.39L472.25,1170.08L473.53,1168.77L474.79,1167.44L476.03,1166.10L477.25,1164.75L478.45,1163.38L479.63,1162.01L480.80,1160.62L481.94,1159.22L483.07,1157.81L484.18,1156.39L485.27,1154.96L486.35,1153.52L487.41,1152.06L488.44,1150.59L489.46,1149.11L490.47,1147.62L492.45,1146.13L494.41,1144.65L496.35,1143.18L498.28,1141.72L500.19,1140.27L502.09,1138.83L503.98,1137.40L505.85,1135.98L507.71,1134.56L509.55,1133.16L511.38,1131.76L513.20,1130.37L515.01,1128.98L516.81,1127.60L518.59,1126.23L520.36,1124.87L522.12,1123.51L523.87,1122.15L525.61,1120.80L527.34,1119.46L529.06,1118.12L530.76,1116.79L532.46,1115.46L534.14,1114.13L535.81,1112.81L537.47,1111.49L539.13,1110.18L540.77,1108.87L542.40,1107.57L544.02,1106.27L545.63,1104.97Z" fill="#5687DB" stroke="#5687DB" stroke-width="0.4"/>
<path d="M620.71,1103.68L621.22,1104.97L621.71,1106.27L622.16,1107.57L622.58,1108.87L622.97,1110.18L623.33,1111.49L623.66,1112.81L623.95,1114.13L624.21,1115.46L624.43,1116.79L624.61,1118.12L624.76,1119.46L624.86,1120.80L624.93,1122.15L624.96,1123.51L624.94,1124.87L624.88,1126.23L624.77,1127.60L624.62,1128.98L624.41,1130.37L624.16,1131.76L623.85,1133.16L623.49,1134.56L623.08,1135.98L622.60,1137.40L622.07,1138.83L621.47,1140.27L620.81,1141.72L620.07,1143.18L619.27,1144.65L618.39,1146.13L617.44,1147.62L615.43,1149.11L613.39,1150.59L611.31,1152.06L609.20,1153.52L607.05,1154.96L604.86,1156.39L602.64,1157.81L600.39,1159.22L598.09,1160.62L595.76,1162.01L593.40,1163.38L590.99,1164.75L588.55,1166.10L586.07,1167.44L583.56,1168.77L581.00,1170.08L578.41,1171.39L575.77,1172.68L573.10,1173.96L570.39,1175.23L567.63,1176.49L564.84,1177.73L562.00,1178.97L559.11,1180.19L556.19,1181.40L553.22,1182.59L550.20,1183.77L547.14,1184.95L544.03,1186.10L540.87,1187.25L537.66,1188.38L534.40,1189.50L535.03,1188.38L535.66,1187.25L536.29,1186.10L536.94,1184.95L537.59,1183.77L538.24,1182.59L538.90,1181.40L539.55,1180.19L540.21,1178.97L540.87,1177.73L541.52,1176.49L542.18,1175.23L542.83,1173.96L543.47,1172.68L544.11,1171.39L544.75,1170.08L545.38,1168.77L546.01,1167.44L546.63,1166.10L547.25,1164.75L547.85,1163.38L548.45,1162.01L549.04,1160.62L549.63,1159.22L550.20,1157.81L550.77,1156.39L551.32,1154.96L551.87,1153.52L552.40,1152.06L552.93,1150.59L553.45,1149.11L553.95,1147.62L556.42,1146.13L558.85,1144.65L561.25,1143.18L563.63,1141.72L565.97,1140.27L568.29,1138.83L570.57,1137.40L572.84,1135.98L575.07,1134.56L577.29,1133.16L579.47,1131.76L581.64,1130.37L583.78,1128.98L585.90,1127.60L588.00,1126.23L590.08,1124.87L592.14,1123.51L594.17,1122.15L596.19,1120.80L598.19,1119.46L600.17,1118.12L602.13,1116.79L604.07,1115.46L605.99,1114.13L607.89,1112.81L609.78,1111.49L611.64,1110.18L613.49,1108.87L615.32,1107.57L617.14,1106.27L618.93,1104.97Z" fill="#B9D1F0" stroke="#B9D1F0" stroke-width="0.4"/>
<path d="M592.14,1063.30L593.32,1064.55L594.49,1065.79L595.64,1067.04L596.78,1068.29L597.90,1069.54L599.00,1070.78L600.08,1072.03L601.15,1073.28L602.20,1074.53L603.24,1075.78L604.25,1077.03L605.25,1078.29L606.23,1079.54L607.19,1080.79L608.13,1082.05L609.05,1083.31L609.95,1084.57L610.83,1085.83L611.68,1087.09L612.52,1088.35L613.34,1089.61L614.13,1090.88L614.90,1092.15L615.64,1093.42L616.37,1094.69L617.06,1095.97L617.74,1097.25L618.39,1098.53L619.01,1099.81L619.60,1101.10L620.17,1102.38L620.71,1103.68L618.93,1104.97L617.14,1106.27L615.32,1107.57L613.49,1108.87L611.64,1110.18L609.78,1111.49L607.89,1112.81L605.99,1114.13L604.07,1115.46L602.13,1116.79L600.17,1118.12L598.19,1119.46L596.19,1120.80L594.17,1122.15L592.14,1123.51L590.08,1124.87L588.00,1126.23L585.90,1127.60L583.78,1128.98L581.64,1130.37L579.47,1131.76L577.29,1133.16L575.07,1134.56L572.84,1135.98L570.57,1137.40L568.29,1138.83L565.97,1140.27L563.63,1141.72L561.25,1143.18L558.85,1144.65L556.42,1146.13L553.95,1147.62L554.42,1146.13L554.82,1144.65L555.17,1143.18L555.46,1141.72L555.69,1140.27L555.87,1138.83L556.01,1137.40L556.09,1135.98L556.13,1134.56L556.12,1133.16L556.07,1131.76L555.98,1130.37L555.84,1128.98L555.67,1127.60L555.47,1126.23L555.22,1124.87L554.94,1123.51L554.63,1122.15L554.29,1120.80L553.91,1119.46L553.50,1118.12L553.06,1116.79L552.60,1115.46L552.10,1114.13L551.58,1112.81L551.03,1111.49L550.46,1110.18L549.86,1108.87L549.23,1107.57L548.59,1106.27L547.92,1104.97L547.22,1103.68L548.81,1102.38L550.39,1101.10L551.95,1099.81L553.51,1098.53L555.05,1097.25L556.58,1095.97L558.10,1094.69L559.61,1093.42L561.11,1092.15L562.60,1090.88L564.07,1089.61L565.54,1088.35L566.99,1087.09L568.43,1085.83L569.85,1084.57L571.27,1083.31L572.67,1082.05L574.06,1080.79L575.44,1079.54L576.81,1078.29L578.16,1077.03L579.50,1075.78L580.83,1074.53L582.14,1073.28L583.44,1072.03L584.73,1070.78L586.00,1069.54L587.25,1068.29L588.50,1067.04L589.73,1065.79L590.94,1064.55Z" fill="#F9E6AC" stroke="#F9E6AC" stroke-width="0.4"/>
<path d="M426.98,1147.62L427.48,1149.11L427.99,1150.59L428.50,1152.06L429.02,1153.52L429.55,1154.96L430.08,1156.39L430.63,1157.81L431.18,1159.22L431.75,1160.62L432.32,1162.01L432.90,1163.38L433.50,1164.75L434.10,1166.10L434.72,1167.44L435.36,1168.77L436.00,1170.08L436.66,1171.39L437.33,1172.68L438.02,1173.96L438.73,1175.23L439.46,1176.49L440.20,1177.73L440.96,1178.97L441.75,1180.19L442.55,1181.40L443.38,1182.59L444.24,1183.77L445.12,1184.95L446.03,1186.10L446.97,1187.25L447.94,1188.38L448.95,1189.50L447.30,1190.60L445.61,1191.70L443.90,1192.77L442.16,1193.84L440.39,1194.89L438.59,1195.92L436.76,1196.94L434.89,1197.95L432.99,1198.94L431.05,1199.91L429.08,1200.87L427.06,1201.82L425.00,1202.74L422.90,1203.65L420.75,1204.54L418.55,1205.41L416.29,1206.27L413.97,1207.10L411.59,1207.91L409.14,1208.71L406.62,1209.48L404.00,1210.22L401.29,1210.94L398.47,1211.64L395.52,1212.30L392.42,1212.93L389.13,1213.53L385.60,1214.09L381.76,1214.60L377.44,1215.06L372.29,1215.45L363.50,1215.70L363.50,1215.45L363.50,1215.06L363.50,1214.60L363.50,1214.09L363.50,1213.53L363.50,1212.93L363.50,1212.30L363.50,1211.64L363.50,1210.94L363.50,1210.22L363.50,1209.48L363.50,1208.71L363.50,1207.91L363.50,1207.10L363.50,1206.27L363.50,1205.41L363.50,1204.54L363.50,1203.65L363.50,1202.74L363.50,1201.82L363.50,1200.87L363.50,1199.91L363.50,1198.94L363.50,1197.95L363.50,1196.94L363.50,1195.92L363.50,1194.89L363.50,1193.84L363.50,1192.77L363.50,1191.70L363.50,1190.60L363.50,1189.50L366.14,1188.38L368.72,1187.25L371.24,1186.10L373.70,1184.95L376.12,1183.77L378.48,1182.59L380.79,1181.40L383.06,1180.19L385.29,1178.97L387.47,1177.73L389.61,1176.49L391.71,1175.23L393.78,1173.96L395.80,1172.68L397.79,1171.39L399.75,1170.08L401.67,1168.77L403.56,1167.44L405.42,1166.10L407.25,1164.75L409.05,1163.38L410.81,1162.01L412.55,1160.62L414.26,1159.22L415.94,1157.81L417.60,1156.39L419.23,1154.96L420.83,1153.52L422.41,1152.06L423.96,1150.59L425.48,1149.11Z" fill="#FCEFCB" stroke="#FCEFCB" stroke-width="0.4"/>
<path d="M400.24,1103.68L401.30,1104.97L402.35,1106.27L403.38,1107.57L404.41,1108.87L405.42,1110.18L406.43,1111.49L407.42,1112.81L408.41,1114.13L409.38,1115.46L410.33,1116.79L411.28,1118.12L412.21,1119.46L413.13,1120.80L414.03,1122.15L414.92,1123.51L415.79,1124.87L416.64,1126.23L417.48,1127.60L418.30,1128.98L419.10,1130.37L419.89,1131.76L420.65,1133.16L421.39,1134.56L422.11,1135.98L422.81,1137.40L423.49,1138.83L424.14,1140.27L424.76,1141.72L425.36,1143.18L425.93,1144.65L426.47,1146.13L426.98,1147.62L425.48,1149.11L423.96,1150.59L422.41,1152.06L420.83,1153.52L419.23,1154.96L417.60,1156.39L415.94,1157.81L414.26,1159.22L412.55,1160.62L410.81,1162.01L409.05,1163.38L407.25,1164.75L405.42,1166.10L403.56,1167.44L401.67,1168.77L399.75,1170.08L397.79,1171.39L395.80,1172.68L393.78,1173.96L391.71,1175.23L389.61,1176.49L387.47,1177.73L385.29,1178.97L383.06,1180.19L380.79,1181.40L378.48,1182.59L376.12,1183.77L373.70,1184.95L371.24,1186.10L368.72,1187.25L366.14,1188.38L363.50,1189.50L363.50,1188.38L363.50,1187.25L363.50,1186.10L363.50,1184.95L363.50,1183.77L363.50,1182.59L363.50,1181.40L363.50,1180.19L363.50,1178.97L363.50,1177.73L363.50,1176.49L363.50,1175.23L363.50,1173.96L363.50,1172.68L363.50,1171.39L363.50,1170.08L363.50,1168.77L363.50,1167.44L363.50,1166.10L363.50,1164.75L363.50,1163.38L363.50,1162.01L363.50,1160.62L363.50,1159.22L363.50,1157.81L363.50,1156.39L363.50,1154.96L363.50,1153.52L363.50,1152.06L363.50,1150.59L363.50,1149.11L363.50,1147.62L364.50,1146.13L365.51,1144.65L366.54,1143.18L367.58,1141.72L368.64,1140.27L369.71,1138.83L370.78,1137.40L371.87,1135.98L372.97,1134.56L374.08,1133.16L375.20,1131.76L376.33,1130.37L377.47,1128.98L378.61,1127.60L379.77,1126.23L380.93,1124.87L382.10,1123.51L383.27,1122.15L384.45,1120.80L385.64,1119.46L386.83,1118.12L388.03,1116.79L389.23,1115.46L390.44,1114.13L391.66,1112.81L392.87,1111.49L394.09,1110.18L395.32,1108.87L396.54,1107.57L397.78,1106.27L399.01,1104.97Z" fill="#F8E3A0" stroke="#F8E3A0" stroke-width="0.4"/>
<path d="M473.73,1103.68L474.61,1104.97L475.47,1106.27L476.31,1107.57L477.13,1108.87L477.94,1110.18L478.73,1111.49L479.50,1112.81L480.25,1114.13L480.99,1115.46L481.70,1116.79L482.39,1118.12L483.06,1119.46L483.71,1120.80L484.33,1122.15L484.93,1123.51L485.50,1124.87L486.05,1126.23L486.58,1127.60L487.07,1128.98L487.54,1130.37L487.98,1131.76L488.38,1133.16L488.76,1134.56L489.10,1135.98L489.41,1137.40L489.68,1138.83L489.92,1140.27L490.11,1141.72L490.27,1143.18L490.38,1144.65L490.45,1146.13L490.47,1147.62L489.46,1149.11L488.44,1150.59L487.41,1152.06L486.35,1153.52L485.27,1154.96L484.18,1156.39L483.07,1157.81L481.94,1159.22L480.80,1160.62L479.63,1162.01L478.45,1163.38L477.25,1164.75L476.03,1166.10L474.79,1167.44L473.53,1168.77L472.25,1170.08L470.95,1171.39L469.64,1172.68L468.30,1173.96L466.94,1175.23L465.57,1176.49L464.17,1177.73L462.75,1178.97L461.31,1180.19L459.84,1181.40L458.36,1182.59L456.85,1183.77L455.32,1184.95L453.77,1186.10L452.19,1187.25L450.58,1188.38L448.95,1189.50L447.94,1188.38L446.97,1187.25L446.03,1186.10L445.12,1184.95L444.24,1183.77L443.38,1182.59L442.55,1181.40L441.75,1180.19L440.96,1178.97L440.20,1177.73L439.46,1176.49L438.73,1175.23L438.02,1173.96L437.33,1172.68L436.66,1171.39L436.00,1170.08L435.36,1168.77L434.72,1167.44L434.10,1166.10L433.50,1164.75L432.90,1163.38L432.32,1162.01L431.75,1160.62L431.18,1159.22L430.63,1157.81L430.08,1156.39L429.55,1154.96L429.02,1153.52L428.50,1152.06L427.99,1150.59L427.48,1149.11L426.98,1147.62L428.47,1146.13L429.96,1144.65L431.45,1143.18L432.93,1141.72L434.42,1140.27L435.90,1138.83L437.38,1137.40L438.86,1135.98L440.34,1134.56L441.82,1133.16L443.29,1131.76L444.77,1130.37L446.24,1128.98L447.71,1127.60L449.18,1126.23L450.65,1124.87L452.11,1123.51L453.57,1122.15L455.03,1120.80L456.49,1119.46L457.94,1118.12L459.40,1116.79L460.85,1115.46L462.29,1114.13L463.73,1112.81L465.17,1111.49L466.61,1110.18L468.04,1108.87L469.47,1107.57L470.90,1106.27L472.32,1104.97Z" fill="#9DBEEB" stroke="#9DBEEB" stroke-width="0.4"/>
<path d="M439.71,1063.30L440.90,1064.55L442.08,1065.79L443.26,1067.04L444.43,1068.29L445.60,1069.54L446.76,1070.78L447.91,1072.03L449.05,1073.28L450.19,1074.53L451.32,1075.78L452.45,1077.03L453.56,1078.29L454.67,1079.54L455.77,1080.79L456.86,1082.05L457.94,1083.31L459.01,1084.57L460.07,1085.83L461.13,1087.09L462.17,1088.35L463.20,1089.61L464.22,1090.88L465.23,1092.15L466.23,1093.42L467.21,1094.69L468.18,1095.97L469.14,1097.25L470.09,1098.53L471.02,1099.81L471.94,1101.10L472.84,1102.38L473.73,1103.68L472.32,1104.97L470.90,1106.27L469.47,1107.57L468.04,1108.87L466.61,1110.18L465.17,1111.49L463.73,1112.81L462.29,1114.13L460.85,1115.46L459.40,1116.79L457.94,1118.12L456.49,1119.46L455.03,1120.80L453.57,1122.15L452.11,1123.51L450.65,1124.87L449.18,1126.23L447.71,1127.60L446.24,1128.98L444.77,1130.37L443.29,1131.76L441.82,1133.16L440.34,1134.56L438.86,1135.98L437.38,1137.40L435.90,1138.83L434.42,1140.27L432.93,1141.72L431.45,1143.18L429.96,1144.65L428.47,1146.13L426.98,1147.62L426.47,1146.13L425.93,1144.65L425.36,1143.18L424.76,1141.72L424.14,1140.27L423.49,1138.83L422.81,1137.40L422.11,1135.98L421.39,1134.56L420.65,1133.16L419.89,1131.76L419.10,1130.37L418.30,1128.98L417.48,1127.60L416.64,1126.23L415.79,1124.87L414.92,1123.51L414.03,1122.15L413.13,1120.80L412.21,1119.46L411.28,1118.12L410.33,1116.79L409.38,1115.46L408.41,1114.13L407.42,1112.81L406.43,1111.49L405.42,1110.18L404.41,1108.87L403.38,1107.57L402.35,1106.27L401.30,1104.97L400.24,1103.68L401.48,1102.38L402.72,1101.10L403.97,1099.81L405.21,1098.53L406.45,1097.25L407.70,1095.97L408.95,1094.69L410.19,1093.42L411.44,1092.15L412.69,1090.88L413.94,1089.61L415.18,1088.35L416.43,1087.09L417.68,1085.83L418.92,1084.57L420.16,1083.31L421.41,1082.05L422.65,1080.79L423.89,1079.54L425.12,1078.29L426.36,1077.03L427.59,1075.78L428.82,1074.53L430.04,1073.28L431.27,1072.03L432.48,1070.78L433.70,1069.54L434.91,1068.29L436.12,1067.04L437.32,1065.79L438.52,1064.55Z" fill="#F3D268" stroke="#F3D268" stroke-width="0.4"/>
<path d="M363.50,1215.70L381.54,1215.32L392.12,1214.73L400.97,1214.03L408.84,1213.25L416.05,1212.40L422.76,1211.50L429.08,1210.53L435.08,1209.52L440.81,1208.47L446.30,1207.38L451.58,1206.25L456.68,1205.08L461.60,1203.88L466.37,1202.65L471.00,1201.38L475.50,1200.09L479.87,1198.77L484.12,1197.42L488.27,1196.05L492.31,1194.66L496.26,1193.23L500.11,1191.79L503.87,1190.32L507.54,1188.84L511.13,1187.33L514.63,1185.80L518.06,1184.25L521.41,1182.68L524.69,1181.09L527.90,1179.49L531.03,1177.86L534.10,1176.22L537.10,1174.57L540.03,1172.89L542.90,1171.21L545.70,1169.50L548.44,1167.78L551.12,1166.05L553.74,1164.30L556.30,1162.54L558.80,1160.76L561.25,1158.97L563.63,1157.17L565.96,1155.35L568.23,1153.53L570.45,1151.69L572.61,1149.84L574.72,1147.98L576.77,1146.10L578.77,1144.22L580.72,1142.33L582.61,1140.42L584.45,1138.51L586.24,1136.59L587.98,1134.65L589.66,1132.71L591.29,1130.76L592.88,1128.81L594.41,1126.84L595.89,1124.87L597.32,1122.88L598.70,1120.90L600.03,1118.90L601.31,1116.90L602.54,1114.89L603.73,1112.87L604.86,1110.85L605.94,1108.82L606.98,1106.79L607.96,1104.76L608.90,1102.71L609.79,1100.67L610.63,1098.61L611.42,1096.56L612.16,1094.50L612.86,1092.44L613.50,1090.37L614.10,1088.30L614.65,1086.23L615.15,1084.15L615.61,1082.07L616.01,1079.99L616.37,1077.91L616.68,1075.83L616.94,1073.74L617.16,1071.65L617.33,1069.57L617.45,1067.48L617.52,1065.39L617.54,1063.30L617.52,1061.21L617.45,1059.12L617.33,1057.03L617.16,1054.95L616.94,1052.86L616.68,1050.77L616.37,1048.69L616.01,1046.61L615.61,1044.53L615.15,1042.45L614.65,1040.37L614.10,1038.30L613.50,1036.23L612.86,1034.16L612.16,1032.10L611.42,1030.04L610.63,1027.99L609.79,1025.93L608.90,1023.89L607.96,1021.84L606.98,1019.81L605.94,1017.78L604.86,1015.75L603.73,1013.73L602.54,1011.71L601.31,1009.70L600.03,1007.70L598.70,1005.70L597.32,1003.72L595.89,1001.73L594.41,999.76L592.88,997.79L591.29,995.84L589.66,993.89L587.98,991.95L586.24,990.01L584.45,988.09L582.61,986.18L580.72,984.27L578.77,982.38L576.77,980.50L574.72,978.62L572.61,976.76L570.45,974.91L568.23,973.07L565.96,971.25L563.63,969.43L561.25,967.63L558.80,965.84L556.30,964.06L553.74,962.30L551.12,960.55L548.44,958.82L545.70,957.10L542.90,955.39L540.03,953.71L537.10,952.03L534.10,950.38L531.03,948.74L527.90,947.11L524.69,945.51L521.41,943.92L518.06,942.35L514.63,940.80L511.13,939.27L507.54,937.76L503.87,936.28L500.11,934.81L496.26,933.37L492.31,931.94L488.27,930.55L484.12,929.18L479.87,927.83L475.50,926.51L471.00,925.22L466.37,923.95L461.60,922.72L456.68,921.52L451.58,920.35L446.30,919.22L440.81,918.13L435.08,917.08L429.08,916.07L422.76,915.10L416.05,914.20L408.84,913.35L400.97,912.57L392.12,911.87L381.54,911.28L363.50,910.90" stroke="#1a1a1a" stroke-width="1.2" stroke-dasharray="1.15 1.65" fill="none"/>
<path d="M363.50,1215.70L377.94,1215.32L386.40,1214.73L393.47,1214.03L399.77,1213.25L405.54,1212.40L410.91,1211.50L415.97,1210.53L420.77,1209.52L425.35,1208.47L429.74,1207.38L433.97,1206.25L438.04,1205.08L441.98,1203.88L445.80,1202.65L449.50,1201.38L453.10,1200.09L456.59,1198.77L460.00,1197.42L463.32,1196.05L466.55,1194.66L469.71,1193.23L472.79,1191.79L475.79,1190.32L478.73,1188.84L481.60,1187.33L484.41,1185.80L487.15,1184.25L489.83,1182.68L492.45,1181.09L495.02,1179.49L497.52,1177.86L499.98,1176.22L502.38,1174.57L504.72,1172.89L507.02,1171.21L509.26,1169.50L511.45,1167.78L513.60,1166.05L515.69,1164.30L517.74,1162.54L519.74,1160.76L521.70,1158.97L523.61,1157.17L525.47,1155.35L527.29,1153.53L529.06,1151.69L530.79,1149.84L532.48,1147.98L534.12,1146.10L535.72,1144.22L537.27,1142.33L538.79,1140.42L540.26,1138.51L541.69,1136.59L543.08,1134.65L544.43,1132.71L545.74,1130.76L547.00,1128.81L548.23,1126.84L549.41,1124.87L550.56,1122.88L551.66,1120.90L552.73,1118.90L553.75,1116.90L554.74,1114.89L555.68,1112.87L556.59,1110.85L557.45,1108.82L558.28,1106.79L559.07,1104.76L559.82,1102.71L560.53,1100.67L561.20,1098.61L561.83,1096.56L562.43,1094.50L562.98,1092.44L563.50,1090.37L563.98,1088.30L564.42,1086.23L564.82,1084.15L565.19,1082.07L565.51,1079.99L565.80,1077.91L566.05,1075.83L566.26,1073.74L566.43,1071.65L566.56,1069.57L566.66,1067.48L566.71,1065.39L566.73,1063.30L566.71,1061.21L566.66,1059.12L566.56,1057.03L566.43,1054.95L566.26,1052.86L566.05,1050.77L565.80,1048.69L565.51,1046.61L565.19,1044.53L564.82,1042.45L564.42,1040.37L563.98,1038.30L563.50,1036.23L562.98,1034.16L562.43,1032.10L561.83,1030.04L561.20,1027.99L560.53,1025.93L559.82,1023.89L559.07,1021.84L558.28,1019.81L557.45,1017.78L556.59,1015.75L555.68,1013.73L554.74,1011.71L553.75,1009.70L552.73,1007.70L551.66,1005.70L550.56,1003.72L549.41,1001.73L548.23,999.76L547.00,997.79L545.74,995.84L544.43,993.89L543.08,991.95L541.69,990.01L540.26,988.09L538.79,986.18L537.27,984.27L535.72,982.38L534.12,980.50L532.48,978.62L530.79,976.76L529.06,974.91L527.29,973.07L525.47,971.25L523.61,969.43L521.70,967.63L519.74,965.84L517.74,964.06L515.69,962.30L513.60,960.55L511.45,958.82L509.26,957.10L507.02,955.39L504.72,953.71L502.38,952.03L499.98,950.38L497.52,948.74L495.02,947.11L492.45,945.51L489.83,943.92L487.15,942.35L484.41,940.80L481.60,939.27L478.73,937.76L475.79,936.28L472.79,934.81L469.71,933.37L466.55,931.94L463.32,930.55L460.00,929.18L456.59,927.83L453.10,926.51L449.50,925.22L445.80,923.95L441.98,922.72L438.04,921.52L433.97,920.35L429.74,919.22L425.35,918.13L420.77,917.08L415.97,916.07L410.91,915.10L405.54,914.20L399.77,913.35L393.47,912.57L386.40,911.87L377.94,911.28L363.50,910.90" stroke="#1a1a1a" stroke-width="1.2" stroke-dasharray="1.15 1.65" fill="none"/>
<path d="M363.50,1215.70L374.33,1215.32L380.67,1214.73L385.98,1214.03L390.70,1213.25L395.03,1212.40L399.06,1211.50L402.85,1210.53L406.45,1209.52L409.89,1208.47L413.18,1207.38L416.35,1206.25L419.41,1205.08L422.36,1203.88L425.22,1202.65L428.00,1201.38L430.70,1200.09L433.32,1198.77L435.87,1197.42L438.36,1196.05L440.79,1194.66L443.16,1193.23L445.46,1191.79L447.72,1190.32L449.92,1188.84L452.08,1187.33L454.18,1185.80L456.24,1184.25L458.25,1182.68L460.21,1181.09L462.14,1179.49L464.02,1177.86L465.86,1176.22L467.66,1174.57L469.42,1172.89L471.14,1171.21L472.82,1169.50L474.47,1167.78L476.07,1166.05L477.65,1164.30L479.18,1162.54L480.68,1160.76L482.15,1158.97L483.58,1157.17L484.98,1155.35L486.34,1153.53L487.67,1151.69L488.97,1149.84L490.23,1147.98L491.46,1146.10L492.66,1144.22L493.83,1142.33L494.97,1140.42L496.07,1138.51L497.14,1136.59L498.19,1134.65L499.20,1132.71L500.18,1130.76L501.13,1128.81L502.05,1126.84L502.93,1124.87L503.79,1122.88L504.62,1120.90L505.42,1118.90L506.19,1116.90L506.93,1114.89L507.64,1112.87L508.32,1110.85L508.97,1108.82L509.59,1106.79L510.18,1104.76L510.74,1102.71L511.27,1100.67L511.78,1098.61L512.25,1096.56L512.70,1094.50L513.11,1092.44L513.50,1090.37L513.86,1088.30L514.19,1086.23L514.49,1084.15L514.76,1082.07L515.01,1079.99L515.22,1077.91L515.41,1075.83L515.57,1073.74L515.70,1071.65L515.80,1069.57L515.87,1067.48L515.91,1065.39L515.92,1063.30L515.91,1061.21L515.87,1059.12L515.80,1057.03L515.70,1054.95L515.57,1052.86L515.41,1050.77L515.22,1048.69L515.01,1046.61L514.76,1044.53L514.49,1042.45L514.19,1040.37L513.86,1038.30L513.50,1036.23L513.11,1034.16L512.70,1032.10L512.25,1030.04L511.78,1027.99L511.27,1025.93L510.74,1023.89L510.18,1021.84L509.59,1019.81L508.97,1017.78L508.32,1015.75L507.64,1013.73L506.93,1011.71L506.19,1009.70L505.42,1007.70L504.62,1005.70L503.79,1003.72L502.93,1001.73L502.05,999.76L501.13,997.79L500.18,995.84L499.20,993.89L498.19,991.95L497.14,990.01L496.07,988.09L494.97,986.18L493.83,984.27L492.66,982.38L491.46,980.50L490.23,978.62L488.97,976.76L487.67,974.91L486.34,973.07L484.98,971.25L483.58,969.43L482.15,967.63L480.68,965.84L479.18,964.06L477.65,962.30L476.07,960.55L474.47,958.82L472.82,957.10L471.14,955.39L469.42,953.71L467.66,952.03L465.86,950.38L464.02,948.74L462.14,947.11L460.21,945.51L458.25,943.92L456.24,942.35L454.18,940.80L452.08,939.27L449.92,937.76L447.72,936.28L445.46,934.81L443.16,933.37L440.79,931.94L438.36,930.55L435.87,929.18L433.32,927.83L430.70,926.51L428.00,925.22L425.22,923.95L422.36,922.72L419.41,921.52L416.35,920.35L413.18,919.22L409.89,918.13L406.45,917.08L402.85,916.07L399.06,915.10L395.03,914.20L390.70,913.35L385.98,912.57L380.67,911.87L374.33,911.28L363.50,910.90" stroke="#1a1a1a" stroke-width="1.2" stroke-dasharray="1.15 1.65" fill="none"/>
<path d="M363.50,1215.70L370.72,1215.32L374.95,1214.73L378.49,1214.03L381.64,1213.25L384.52,1212.40L387.20,1211.50L389.73,1210.53L392.13,1209.52L394.42,1208.47L396.62,1207.38L398.73,1206.25L400.77,1205.08L402.74,1203.88L404.65,1202.65L406.50,1201.38L408.30,1200.09L410.05,1198.77L411.75,1197.42L413.41,1196.05L415.03,1194.66L416.60,1193.23L418.14,1191.79L419.65,1190.32L421.12,1188.84L422.55,1187.33L423.95,1185.80L425.32,1184.25L426.67,1182.68L427.98,1181.09L429.26,1179.49L430.51,1177.86L431.74,1176.22L432.94,1174.57L434.11,1172.89L435.26,1171.21L436.38,1169.50L437.48,1167.78L438.55,1166.05L439.60,1164.30L440.62,1162.54L441.62,1160.76L442.60,1158.97L443.55,1157.17L444.48,1155.35L445.39,1153.53L446.28,1151.69L447.15,1149.84L447.99,1147.98L448.81,1146.10L449.61,1144.22L450.39,1142.33L451.14,1140.42L451.88,1138.51L452.60,1136.59L453.29,1134.65L453.96,1132.71L454.62,1130.76L455.25,1128.81L455.86,1126.84L456.46,1124.87L457.03,1122.88L457.58,1120.90L458.11,1118.90L458.63,1116.90L459.12,1114.89L459.59,1112.87L460.04,1110.85L460.48,1108.82L460.89,1106.79L461.29,1104.76L461.66,1102.71L462.02,1100.67L462.35,1098.61L462.67,1096.56L462.96,1094.50L463.24,1092.44L463.50,1090.37L463.74,1088.30L463.96,1086.23L464.16,1084.15L464.34,1082.07L464.51,1079.99L464.65,1077.91L464.77,1075.83L464.88,1073.74L464.96,1071.65L465.03,1069.57L465.08,1067.48L465.11,1065.39L465.12,1063.30L465.11,1061.21L465.08,1059.12L465.03,1057.03L464.96,1054.95L464.88,1052.86L464.77,1050.77L464.65,1048.69L464.51,1046.61L464.34,1044.53L464.16,1042.45L463.96,1040.37L463.74,1038.30L463.50,1036.23L463.24,1034.16L462.96,1032.10L462.67,1030.04L462.35,1027.99L462.02,1025.93L461.66,1023.89L461.29,1021.84L460.89,1019.81L460.48,1017.78L460.04,1015.75L459.59,1013.73L459.12,1011.71L458.63,1009.70L458.11,1007.70L457.58,1005.70L457.03,1003.72L456.46,1001.73L455.86,999.76L455.25,997.79L454.62,995.84L453.96,993.89L453.29,991.95L452.60,990.01L451.88,988.09L451.14,986.18L450.39,984.27L449.61,982.38L448.81,980.50L447.99,978.62L447.15,976.76L446.28,974.91L445.39,973.07L444.48,971.25L443.55,969.43L442.60,967.63L441.62,965.84L440.62,964.06L439.60,962.30L438.55,960.55L437.48,958.82L436.38,957.10L435.26,955.39L434.11,953.71L432.94,952.03L431.74,950.38L430.51,948.74L429.26,947.11L427.98,945.51L426.67,943.92L425.32,942.35L423.95,940.80L422.55,939.27L421.12,937.76L419.65,936.28L418.14,934.81L416.60,933.37L415.03,931.94L413.41,930.55L411.75,929.18L410.05,927.83L408.30,926.51L406.50,925.22L404.65,923.95L402.74,922.72L400.77,921.52L398.73,920.35L396.62,919.22L394.42,918.13L392.13,917.08L389.73,916.07L387.20,915.10L384.52,914.20L381.64,913.35L378.49,912.57L374.95,911.87L370.72,911.28L363.50,910.90" stroke="#1a1a1a" stroke-width="1.2" stroke-dasharray="1.15 1.65" fill="none"/>
<path d="M363.50,1215.70L367.11,1215.32L369.22,1214.73L370.99,1214.03L372.57,1213.25L374.01,1212.40L375.35,1211.50L376.62,1210.53L377.82,1209.52L378.96,1208.47L380.06,1207.38L381.12,1206.25L382.14,1205.08L383.12,1203.88L384.07,1202.65L385.00,1201.38L385.90,1200.09L386.77,1198.77L387.62,1197.42L388.45,1196.05L389.26,1194.66L390.05,1193.23L390.82,1191.79L391.57,1190.32L392.31,1188.84L393.03,1187.33L393.73,1185.80L394.41,1184.25L395.08,1182.68L395.74,1181.09L396.38,1179.49L397.01,1177.86L397.62,1176.22L398.22,1174.57L398.81,1172.89L399.38,1171.21L399.94,1169.50L400.49,1167.78L401.02,1166.05L401.55,1164.30L402.06,1162.54L402.56,1160.76L403.05,1158.97L403.53,1157.17L403.99,1155.35L404.45,1153.53L404.89,1151.69L405.32,1149.84L405.74,1147.98L406.15,1146.10L406.55,1144.22L406.94,1142.33L407.32,1140.42L407.69,1138.51L408.05,1136.59L408.40,1134.65L408.73,1132.71L409.06,1130.76L409.38,1128.81L409.68,1126.84L409.98,1124.87L410.26,1122.88L410.54,1120.90L410.81,1118.90L411.06,1116.90L411.31,1114.89L411.55,1112.87L411.77,1110.85L411.99,1108.82L412.20,1106.79L412.39,1104.76L412.58,1102.71L412.76,1100.67L412.93,1098.61L413.08,1096.56L413.23,1094.50L413.37,1092.44L413.50,1090.37L413.62,1088.30L413.73,1086.23L413.83,1084.15L413.92,1082.07L414.00,1079.99L414.07,1077.91L414.14,1075.83L414.19,1073.74L414.23,1071.65L414.27,1069.57L414.29,1067.48L414.30,1065.39L414.31,1063.30L414.30,1061.21L414.29,1059.12L414.27,1057.03L414.23,1054.95L414.19,1052.86L414.14,1050.77L414.07,1048.69L414.00,1046.61L413.92,1044.53L413.83,1042.45L413.73,1040.37L413.62,1038.30L413.50,1036.23L413.37,1034.16L413.23,1032.10L413.08,1030.04L412.93,1027.99L412.76,1025.93L412.58,1023.89L412.39,1021.84L412.20,1019.81L411.99,1017.78L411.77,1015.75L411.55,1013.73L411.31,1011.71L411.06,1009.70L410.81,1007.70L410.54,1005.70L410.26,1003.72L409.98,1001.73L409.68,999.76L409.38,997.79L409.06,995.84L408.73,993.89L408.40,991.95L408.05,990.01L407.69,988.09L407.32,986.18L406.94,984.27L406.55,982.38L406.15,980.50L405.74,978.62L405.32,976.76L404.89,974.91L404.45,973.07L403.99,971.25L403.53,969.43L403.05,967.63L402.56,965.84L402.06,964.06L401.55,962.30L401.02,960.55L400.49,958.82L399.94,957.10L399.38,955.39L398.81,953.71L398.22,952.03L397.62,950.38L397.01,948.74L396.38,947.11L395.74,945.51L395.08,943.92L394.41,942.35L393.73,940.80L393.03,939.27L392.31,937.76L391.57,936.28L390.82,934.81L390.05,933.37L389.26,931.94L388.45,930.55L387.62,929.18L386.77,927.83L385.90,926.51L385.00,925.22L384.07,923.95L383.12,922.72L382.14,921.52L381.12,920.35L380.06,919.22L378.96,918.13L377.82,917.08L376.62,916.07L375.35,915.10L374.01,914.20L372.57,913.35L370.99,912.57L369.22,911.87L367.11,911.28L363.50,910.90" stroke="#1a1a1a" stroke-width="1.2" stroke-dasharray="1.15 1.65" fill="none"/>
<path d="M363.50,1215.70L359.89,1215.32L357.78,1214.73L356.01,1214.03L354.43,1213.25L352.99,1212.40L351.65,1211.50L350.38,1210.53L349.18,1209.52L348.04,1208.47L346.94,1207.38L345.88,1206.25L344.86,1205.08L343.88,1203.88L342.93,1202.65L342.00,1201.38L341.10,1200.09L340.23,1198.77L339.38,1197.42L338.55,1196.05L337.74,1194.66L336.95,1193.23L336.18,1191.79L335.43,1190.32L334.69,1188.84L333.97,1187.33L333.27,1185.80L332.59,1184.25L331.92,1182.68L331.26,1181.09L330.62,1179.49L329.99,1177.86L329.38,1176.22L328.78,1174.57L328.19,1172.89L327.62,1171.21L327.06,1169.50L326.51,1167.78L325.98,1166.05L325.45,1164.30L324.94,1162.54L324.44,1160.76L323.95,1158.97L323.47,1157.17L323.01,1155.35L322.55,1153.53L322.11,1151.69L321.68,1149.84L321.26,1147.98L320.85,1146.10L320.45,1144.22L320.06,1142.33L319.68,1140.42L319.31,1138.51L318.95,1136.59L318.60,1134.65L318.27,1132.71L317.94,1130.76L317.62,1128.81L317.32,1126.84L317.02,1124.87L316.74,1122.88L316.46,1120.90L316.19,1118.90L315.94,1116.90L315.69,1114.89L315.45,1112.87L315.23,1110.85L315.01,1108.82L314.80,1106.79L314.61,1104.76L314.42,1102.71L314.24,1100.67L314.07,1098.61L313.92,1096.56L313.77,1094.50L313.63,1092.44L313.50,1090.37L313.38,1088.30L313.27,1086.23L313.17,1084.15L313.08,1082.07L313.00,1079.99L312.93,1077.91L312.86,1075.83L312.81,1073.74L312.77,1071.65L312.73,1069.57L312.71,1067.48L312.70,1065.39L312.69,1063.30L312.70,1061.21L312.71,1059.12L312.73,1057.03L312.77,1054.95L312.81,1052.86L312.86,1050.77L312.93,1048.69L313.00,1046.61L313.08,1044.53L313.17,1042.45L313.27,1040.37L313.38,1038.30L313.50,1036.23L313.63,1034.16L313.77,1032.10L313.92,1030.04L314.07,1027.99L314.24,1025.93L314.42,1023.89L314.61,1021.84L314.80,1019.81L315.01,1017.78L315.23,1015.75L315.45,1013.73L315.69,1011.71L315.94,1009.70L316.19,1007.70L316.46,1005.70L316.74,1003.72L317.02,1001.73L317.32,999.76L317.62,997.79L317.94,995.84L318.27,993.89L318.60,991.95L318.95,990.01L319.31,988.09L319.68,986.18L320.06,984.27L320.45,982.38L320.85,980.50L321.26,978.62L321.68,976.76L322.11,974.91L322.55,973.07L323.01,971.25L323.47,969.43L323.95,967.63L324.44,965.84L324.94,964.06L325.45,962.30L325.98,960.55L326.51,958.82L327.06,957.10L327.62,955.39L328.19,953.71L328.78,952.03L329.38,950.38L329.99,948.74L330.62,947.11L331.26,945.51L331.92,943.92L332.59,942.35L333.27,940.80L333.97,939.27L334.69,937.76L335.43,936.28L336.18,934.81L336.95,933.37L337.74,931.94L338.55,930.55L339.38,929.18L340.23,927.83L341.10,926.51L342.00,925.22L342.93,923.95L343.88,922.72L344.86,921.52L345.88,920.35L346.94,919.22L348.04,918.13L349.18,917.08L350.38,916.07L351.65,915.10L352.99,914.20L354.43,913.35L356.01,912.57L357.78,911.87L359.89,911.28L363.50,910.90" stroke="#1a1a1a" stroke-width="1.2" stroke-dasharray="1.15 1.65" fill="none"/>
<path d="M363.50,1215.70L356.28,1215.32L352.05,1214.73L348.51,1214.03L345.36,1213.25L342.48,1212.40L339.80,1211.50L337.27,1210.53L334.87,1209.52L332.58,1208.47L330.38,1207.38L328.27,1206.25L326.23,1205.08L324.26,1203.88L322.35,1202.65L320.50,1201.38L318.70,1200.09L316.95,1198.77L315.25,1197.42L313.59,1196.05L311.97,1194.66L310.40,1193.23L308.86,1191.79L307.35,1190.32L305.88,1188.84L304.45,1187.33L303.05,1185.80L301.68,1184.25L300.33,1182.68L299.02,1181.09L297.74,1179.49L296.49,1177.86L295.26,1176.22L294.06,1174.57L292.89,1172.89L291.74,1171.21L290.62,1169.50L289.52,1167.78L288.45,1166.05L287.40,1164.30L286.38,1162.54L285.38,1160.76L284.40,1158.97L283.45,1157.17L282.52,1155.35L281.61,1153.53L280.72,1151.69L279.85,1149.84L279.01,1147.98L278.19,1146.10L277.39,1144.22L276.61,1142.33L275.86,1140.42L275.12,1138.51L274.40,1136.59L273.71,1134.65L273.04,1132.71L272.38,1130.76L271.75,1128.81L271.14,1126.84L270.54,1124.87L269.97,1122.88L269.42,1120.90L268.89,1118.90L268.37,1116.90L267.88,1114.89L267.41,1112.87L266.96,1110.85L266.52,1108.82L266.11,1106.79L265.71,1104.76L265.34,1102.71L264.98,1100.67L264.65,1098.61L264.33,1096.56L264.04,1094.50L263.76,1092.44L263.50,1090.37L263.26,1088.30L263.04,1086.23L262.84,1084.15L262.66,1082.07L262.49,1079.99L262.35,1077.91L262.23,1075.83L262.12,1073.74L262.04,1071.65L261.97,1069.57L261.92,1067.48L261.89,1065.39L261.88,1063.30L261.89,1061.21L261.92,1059.12L261.97,1057.03L262.04,1054.95L262.12,1052.86L262.23,1050.77L262.35,1048.69L262.49,1046.61L262.66,1044.53L262.84,1042.45L263.04,1040.37L263.26,1038.30L263.50,1036.23L263.76,1034.16L264.04,1032.10L264.33,1030.04L264.65,1027.99L264.98,1025.93L265.34,1023.89L265.71,1021.84L266.11,1019.81L266.52,1017.78L266.96,1015.75L267.41,1013.73L267.88,1011.71L268.37,1009.70L268.89,1007.70L269.42,1005.70L269.97,1003.72L270.54,1001.73L271.14,999.76L271.75,997.79L272.38,995.84L273.04,993.89L273.71,991.95L274.40,990.01L275.12,988.09L275.86,986.18L276.61,984.27L277.39,982.38L278.19,980.50L279.01,978.62L279.85,976.76L280.72,974.91L281.61,973.07L282.52,971.25L283.45,969.43L284.40,967.63L285.38,965.84L286.38,964.06L287.40,962.30L288.45,960.55L289.52,958.82L290.62,957.10L291.74,955.39L292.89,953.71L294.06,952.03L295.26,950.38L296.49,948.74L297.74,947.11L299.02,945.51L300.33,943.92L301.68,942.35L303.05,940.80L304.45,939.27L305.88,937.76L307.35,936.28L308.86,934.81L310.40,933.37L311.97,931.94L313.59,930.55L315.25,929.18L316.95,927.83L318.70,926.51L320.50,925.22L322.35,923.95L324.26,922.72L326.23,921.52L328.27,920.35L330.38,919.22L332.58,918.13L334.87,917.08L337.27,916.07L339.80,915.10L342.48,914.20L345.36,913.35L348.51,912.57L352.05,911.87L356.28,911.28L363.50,910.90" stroke="#1a1a1a" stroke-width="1.2" stroke-dasharray="1.15 1.65" fill="none"/>
<path d="M363.50,1215.70L352.67,1215.32L346.33,1214.73L341.02,1214.03L336.30,1213.25L331.97,1212.40L327.94,1211.50L324.15,1210.53L320.55,1209.52L317.11,1208.47L313.82,1207.38L310.65,1206.25L307.59,1205.08L304.64,1203.88L301.78,1202.65L299.00,1201.38L296.30,1200.09L293.68,1198.77L291.13,1197.42L288.64,1196.05L286.21,1194.66L283.84,1193.23L281.54,1191.79L279.28,1190.32L277.08,1188.84L274.92,1187.33L272.82,1185.80L270.76,1184.25L268.75,1182.68L266.79,1181.09L264.86,1179.49L262.98,1177.86L261.14,1176.22L259.34,1174.57L257.58,1172.89L255.86,1171.21L254.18,1169.50L252.53,1167.78L250.93,1166.05L249.35,1164.30L247.82,1162.54L246.32,1160.76L244.85,1158.97L243.42,1157.17L242.02,1155.35L240.66,1153.53L239.33,1151.69L238.03,1149.84L236.77,1147.98L235.54,1146.10L234.34,1144.22L233.17,1142.33L232.03,1140.42L230.93,1138.51L229.86,1136.59L228.81,1134.65L227.80,1132.71L226.82,1130.76L225.87,1128.81L224.95,1126.84L224.07,1124.87L223.21,1122.88L222.38,1120.90L221.58,1118.90L220.81,1116.90L220.07,1114.89L219.36,1112.87L218.68,1110.85L218.03,1108.82L217.41,1106.79L216.82,1104.76L216.26,1102.71L215.73,1100.67L215.22,1098.61L214.75,1096.56L214.30,1094.50L213.89,1092.44L213.50,1090.37L213.14,1088.30L212.81,1086.23L212.51,1084.15L212.24,1082.07L211.99,1079.99L211.78,1077.91L211.59,1075.83L211.43,1073.74L211.30,1071.65L211.20,1069.57L211.13,1067.48L211.09,1065.39L211.07,1063.30L211.09,1061.21L211.13,1059.12L211.20,1057.03L211.30,1054.95L211.43,1052.86L211.59,1050.77L211.78,1048.69L211.99,1046.61L212.24,1044.53L212.51,1042.45L212.81,1040.37L213.14,1038.30L213.50,1036.23L213.89,1034.16L214.30,1032.10L214.75,1030.04L215.22,1027.99L215.73,1025.93L216.26,1023.89L216.82,1021.84L217.41,1019.81L218.03,1017.78L218.68,1015.75L219.36,1013.73L220.07,1011.71L220.81,1009.70L221.58,1007.70L222.38,1005.70L223.21,1003.72L224.07,1001.73L224.95,999.76L225.87,997.79L226.82,995.84L227.80,993.89L228.81,991.95L229.86,990.01L230.93,988.09L232.03,986.18L233.17,984.27L234.34,982.38L235.54,980.50L236.77,978.62L238.03,976.76L239.33,974.91L240.66,973.07L242.02,971.25L243.42,969.43L244.85,967.63L246.32,965.84L247.82,964.06L249.35,962.30L250.93,960.55L252.53,958.82L254.18,957.10L255.86,955.39L257.58,953.71L259.34,952.03L261.14,950.38L262.98,948.74L264.86,947.11L266.79,945.51L268.75,943.92L270.76,942.35L272.82,940.80L274.92,939.27L277.08,937.76L279.28,936.28L281.54,934.81L283.84,933.37L286.21,931.94L288.64,930.55L291.13,929.18L293.68,927.83L296.30,926.51L299.00,925.22L301.78,923.95L304.64,922.72L307.59,921.52L310.65,920.35L313.82,919.22L317.11,918.13L320.55,917.08L324.15,916.07L327.94,915.10L331.97,914.20L336.30,913.35L341.02,912.57L346.33,911.87L352.67,911.28L363.50,910.90" stroke="#1a1a1a" stroke-width="1.2" stroke-dasharray="1.15 1.65" fill="none"/>
<path d="M363.50,1215.70L349.06,1215.32L340.60,1214.73L333.53,1214.03L327.23,1213.25L321.46,1212.40L316.09,1211.50L311.03,1210.53L306.23,1209.52L301.65,1208.47L297.26,1207.38L293.03,1206.25L288.96,1205.08L285.02,1203.88L281.20,1202.65L277.50,1201.38L273.90,1200.09L270.41,1198.77L267.00,1197.42L263.68,1196.05L260.45,1194.66L257.29,1193.23L254.21,1191.79L251.21,1190.32L248.27,1188.84L245.40,1187.33L242.59,1185.80L239.85,1184.25L237.17,1182.68L234.55,1181.09L231.98,1179.49L229.48,1177.86L227.02,1176.22L224.62,1174.57L222.28,1172.89L219.98,1171.21L217.74,1169.50L215.55,1167.78L213.40,1166.05L211.31,1164.30L209.26,1162.54L207.26,1160.76L205.30,1158.97L203.39,1157.17L201.53,1155.35L199.71,1153.53L197.94,1151.69L196.21,1149.84L194.52,1147.98L192.88,1146.10L191.28,1144.22L189.73,1142.33L188.21,1140.42L186.74,1138.51L185.31,1136.59L183.92,1134.65L182.57,1132.71L181.26,1130.76L180.00,1128.81L178.77,1126.84L177.59,1124.87L176.44,1122.88L175.34,1120.90L174.27,1118.90L173.25,1116.90L172.26,1114.89L171.32,1112.87L170.41,1110.85L169.55,1108.82L168.72,1106.79L167.93,1104.76L167.18,1102.71L166.47,1100.67L165.80,1098.61L165.17,1096.56L164.57,1094.50L164.02,1092.44L163.50,1090.37L163.02,1088.30L162.58,1086.23L162.18,1084.15L161.81,1082.07L161.49,1079.99L161.20,1077.91L160.95,1075.83L160.74,1073.74L160.57,1071.65L160.44,1069.57L160.34,1067.48L160.29,1065.39L160.27,1063.30L160.29,1061.21L160.34,1059.12L160.44,1057.03L160.57,1054.95L160.74,1052.86L160.95,1050.77L161.20,1048.69L161.49,1046.61L161.81,1044.53L162.18,1042.45L162.58,1040.37L163.02,1038.30L163.50,1036.23L164.02,1034.16L164.57,1032.10L165.17,1030.04L165.80,1027.99L166.47,1025.93L167.18,1023.89L167.93,1021.84L168.72,1019.81L169.55,1017.78L170.41,1015.75L171.32,1013.73L172.26,1011.71L173.25,1009.70L174.27,1007.70L175.34,1005.70L176.44,1003.72L177.59,1001.73L178.77,999.76L180.00,997.79L181.26,995.84L182.57,993.89L183.92,991.95L185.31,990.01L186.74,988.09L188.21,986.18L189.73,984.27L191.28,982.38L192.88,980.50L194.52,978.62L196.21,976.76L197.94,974.91L199.71,973.07L201.53,971.25L203.39,969.43L205.30,967.63L207.26,965.84L209.26,964.06L211.31,962.30L213.40,960.55L215.55,958.82L217.74,957.10L219.98,955.39L222.28,953.71L224.62,952.03L227.02,950.38L229.48,948.74L231.98,947.11L234.55,945.51L237.17,943.92L239.85,942.35L242.59,940.80L245.40,939.27L248.27,937.76L251.21,936.28L254.21,934.81L257.29,933.37L260.45,931.94L263.68,930.55L267.00,929.18L270.41,927.83L273.90,926.51L277.50,925.22L281.20,923.95L285.02,922.72L288.96,921.52L293.03,920.35L297.26,919.22L301.65,918.13L306.23,917.08L311.03,916.07L316.09,915.10L321.46,914.20L327.23,913.35L333.53,912.57L340.60,911.87L349.06,911.28L363.50,910.90" stroke="#1a1a1a" stroke-width="1.2" stroke-dasharray="1.15 1.65" fill="none"/>
<path d="M363.50,1215.70L345.46,1215.32L334.88,1214.73L326.03,1214.03L318.16,1213.25L310.95,1212.40L304.24,1211.50L297.92,1210.53L291.92,1209.52L286.19,1208.47L280.70,1207.38L275.42,1206.25L270.32,1205.08L265.40,1203.88L260.63,1202.65L256.00,1201.38L251.50,1200.09L247.13,1198.77L242.88,1197.42L238.73,1196.05L234.69,1194.66L230.74,1193.23L226.89,1191.79L223.13,1190.32L219.46,1188.84L215.87,1187.33L212.37,1185.80L208.94,1184.25L205.59,1182.68L202.31,1181.09L199.10,1179.49L195.97,1177.86L192.90,1176.22L189.90,1174.57L186.97,1172.89L184.10,1171.21L181.30,1169.50L178.56,1167.78L175.88,1166.05L173.26,1164.30L170.70,1162.54L168.20,1160.76L165.75,1158.97L163.37,1157.17L161.04,1155.35L158.77,1153.53L156.55,1151.69L154.39,1149.84L152.28,1147.98L150.23,1146.10L148.23,1144.22L146.28,1142.33L144.39,1140.42L142.55,1138.51L140.76,1136.59L139.02,1134.65L137.34,1132.71L135.71,1130.76L134.12,1128.81L132.59,1126.84L131.11,1124.87L129.68,1122.88L128.30,1120.90L126.97,1118.90L125.69,1116.90L124.46,1114.89L123.27,1112.87L122.14,1110.85L121.06,1108.82L120.02,1106.79L119.04,1104.76L118.10,1102.71L117.21,1100.67L116.37,1098.61L115.58,1096.56L114.84,1094.50L114.14,1092.44L113.50,1090.37L112.90,1088.30L112.35,1086.23L111.85,1084.15L111.39,1082.07L110.99,1079.99L110.63,1077.91L110.32,1075.83L110.06,1073.74L109.84,1071.65L109.67,1069.57L109.55,1067.48L109.48,1065.39L109.46,1063.30L109.48,1061.21L109.55,1059.12L109.67,1057.03L109.84,1054.95L110.06,1052.86L110.32,1050.77L110.63,1048.69L110.99,1046.61L111.39,1044.53L111.85,1042.45L112.35,1040.37L112.90,1038.30L113.50,1036.23L114.14,1034.16L114.84,1032.10L115.58,1030.04L116.37,1027.99L117.21,1025.93L118.10,1023.89L119.04,1021.84L120.02,1019.81L121.06,1017.78L122.14,1015.75L123.27,1013.73L124.46,1011.71L125.69,1009.70L126.97,1007.70L128.30,1005.70L129.68,1003.72L131.11,1001.73L132.59,999.76L134.12,997.79L135.71,995.84L137.34,993.89L139.02,991.95L140.76,990.01L142.55,988.09L144.39,986.18L146.28,984.27L148.23,982.38L150.23,980.50L152.28,978.62L154.39,976.76L156.55,974.91L158.77,973.07L161.04,971.25L163.37,969.43L165.75,967.63L168.20,965.84L170.70,964.06L173.26,962.30L175.88,960.55L178.56,958.82L181.30,957.10L184.10,955.39L186.97,953.71L189.90,952.03L192.90,950.38L195.97,948.74L199.10,947.11L202.31,945.51L205.59,943.92L208.94,942.35L212.37,940.80L215.87,939.27L219.46,937.76L223.13,936.28L226.89,934.81L230.74,933.37L234.69,931.94L238.73,930.55L242.88,929.18L247.13,927.83L251.50,926.51L256.00,925.22L260.63,923.95L265.40,922.72L270.32,921.52L275.42,920.35L280.70,919.22L286.19,918.13L291.92,917.08L297.92,916.07L304.24,915.10L310.95,914.20L318.16,913.35L326.03,912.57L334.88,911.87L345.46,911.28L363.50,910.90" stroke="#1a1a1a" stroke-width="1.2" stroke-dasharray="1.15 1.65" fill="none"/>
<path d="M166.22,1179.49 H560.78" stroke="#1a1a1a" stroke-width="1.2" stroke-dasharray="1.15 1.65" fill="none"/>
<path d="M84.63,1124.87 H642.37" stroke="#1a1a1a" stroke-width="1.2" stroke-dasharray="1.15 1.65" fill="none"/>
<path d="M84.63,1001.73 H642.37" stroke="#1a1a1a" stroke-width="1.2" stroke-dasharray="1.15 1.65" fill="none"/>
<path d="M166.22,947.11 H560.78" stroke="#1a1a1a" stroke-width="1.2" stroke-dasharray="1.15 1.65" fill="none"/>
</g>
<line x1="58.65" y1="1063.30" x2="668.35" y2="1063.30" stroke="#111" stroke-width="1.3"/>
<line x1="363.50" y1="910.90" x2="363.50" y2="1215.70" stroke="#111" stroke-width="1.3"/>
<ellipse cx="363.50" cy="1063.30" rx="304.85" ry="152.40" fill="none" stroke="#111" stroke-width="1.3"/>
<text x="60.39" y="1060.70" font-size="14.40" textLength="30.08" lengthAdjust="spacingAndGlyphs">180&#176;</text>
<text x="110.26" y="1060.70" font-size="14.40">150&#176;</text>
<text x="161.08" y="1060.70" font-size="14.40" textLength="29.44" lengthAdjust="spacingAndGlyphs">120&#176;</text>
<text x="212.30" y="1060.70" font-size="14.40">90&#176;</text>
<text x="263.05" y="1060.70" font-size="14.40">60&#176;</text>
<text x="314.04" y="1060.70" font-size="14.40">30&#176;</text>
<text x="364.78" y="1060.70" font-size="14.40" textLength="15.06" lengthAdjust="spacingAndGlyphs">0&#176;</text>
<text x="415.62" y="1060.70" font-size="14.40" textLength="31.91" lengthAdjust="spacingAndGlyphs">330&#176;</text>
<text x="466.42" y="1060.70" font-size="14.40" textLength="32.33" lengthAdjust="spacingAndGlyphs">300&#176;</text>
<text x="517.10" y="1060.70" font-size="14.40" textLength="29.68" lengthAdjust="spacingAndGlyphs">270&#176;</text>
<text x="567.85" y="1060.70" font-size="14.40" textLength="32.32" lengthAdjust="spacingAndGlyphs">240&#176;</text>
<text x="618.75" y="1060.70" font-size="14.40" textLength="28.31" lengthAdjust="spacingAndGlyphs">210&#176;</text>
<text x="562.27" y="944.20" font-size="14.40">60&#176;</text>
<text x="643.45" y="999.60" font-size="14.40">30&#176;</text>
<text x="670.94" y="1061.70" font-size="14.40">0&#176;</text>
<text x="650.49" y="1125.20" font-size="14.40">&#8722;30&#176;</text>
<text x="575.29" y="1183.00" font-size="14.40">&#8722;60&#176;</text>
<rect x="203.4" y="1226.4" width="305.9" height="11.2" fill="url(#cb)" stroke="#444" stroke-width="0.8"/>
<path d="M203.4,1237.6 v7 M509.3,1237.6 v7" stroke="#222" stroke-width="1"/>
<text x="197.32" y="1263.60" font-size="18.40" textLength="12.57" lengthAdjust="spacingAndGlyphs">0</text>
<text x="489.04" y="1263.90" font-size="18.40" textLength="40.22" lengthAdjust="spacingAndGlyphs">0.06</text>
<text x="214.38" y="1292.20" font-size="18.00" textLength="284.42" lengthAdjust="spacingAndGlyphs">Fraction of HST images containing</text>
<text x="301.77" y="1312.80" font-size="18.00" textLength="110.12" lengthAdjust="spacingAndGlyphs">satellite trails</text>
</svg></body></html>
